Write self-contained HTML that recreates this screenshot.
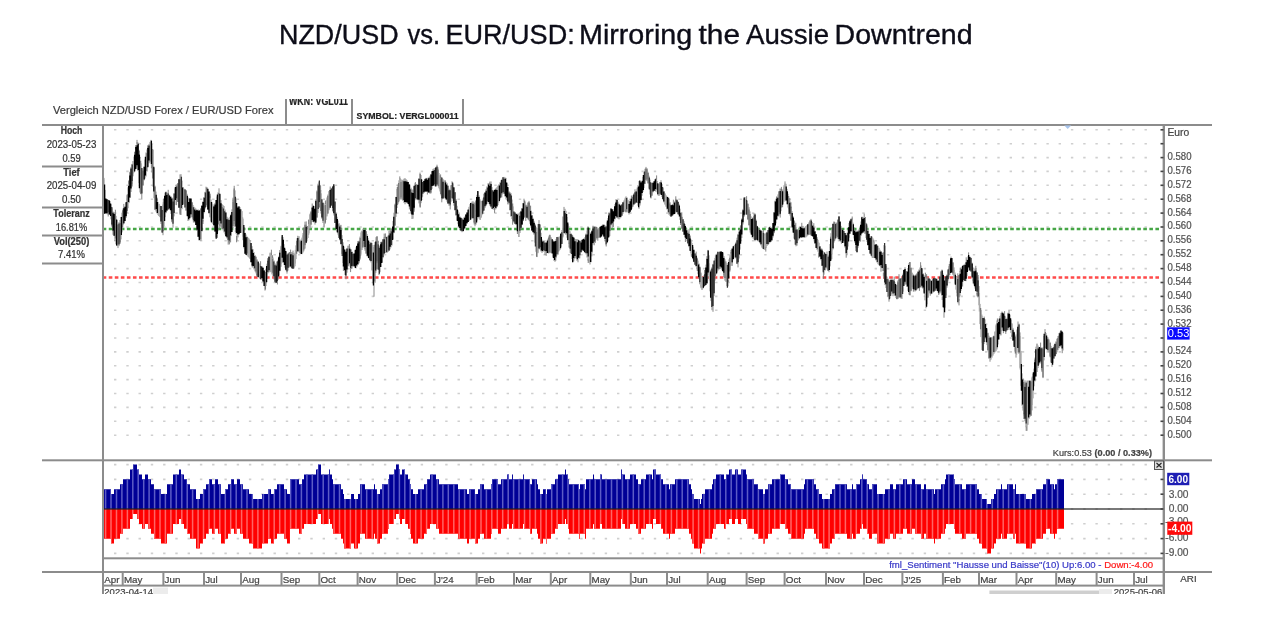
<!DOCTYPE html>
<html><head><meta charset="utf-8"><title>NZD/USD vs. EUR/USD</title>
<style>
html,body{margin:0;padding:0;background:#fff;}
body{width:1285px;height:625px;overflow:hidden;position:relative;}
svg{position:absolute;left:0;top:0;}
</style></head><body>
<svg width="1285" height="625" viewBox="0 0 1285 625" font-family="Liberation Sans, Arial, sans-serif" style="filter:blur(0.5px)">
<path d="M114.0 129.8h2.4 M126.3 129.8h2.4 M138.5 129.8h2.4 M150.8 129.8h2.4 M163.1 129.8h2.4 M175.3 129.8h2.4 M187.6 129.8h2.4 M199.9 129.8h2.4 M212.1 129.8h2.4 M224.4 129.8h2.4 M236.7 129.8h2.4 M248.9 129.8h2.4 M261.2 129.8h2.4 M273.5 129.8h2.4 M285.8 129.8h2.4 M298.0 129.8h2.4 M310.3 129.8h2.4 M322.6 129.8h2.4 M334.8 129.8h2.4 M347.1 129.8h2.4 M359.4 129.8h2.4 M371.6 129.8h2.4 M383.9 129.8h2.4 M396.2 129.8h2.4 M408.4 129.8h2.4 M420.7 129.8h2.4 M433.0 129.8h2.4 M445.2 129.8h2.4 M457.5 129.8h2.4 M469.8 129.8h2.4 M482.0 129.8h2.4 M494.3 129.8h2.4 M506.6 129.8h2.4 M518.8 129.8h2.4 M531.1 129.8h2.4 M543.4 129.8h2.4 M555.6 129.8h2.4 M567.9 129.8h2.4 M580.2 129.8h2.4 M592.5 129.8h2.4 M604.7 129.8h2.4 M617.0 129.8h2.4 M629.3 129.8h2.4 M641.5 129.8h2.4 M653.8 129.8h2.4 M666.1 129.8h2.4 M678.3 129.8h2.4 M690.6 129.8h2.4 M702.9 129.8h2.4 M715.1 129.8h2.4 M727.4 129.8h2.4 M739.7 129.8h2.4 M751.9 129.8h2.4 M764.2 129.8h2.4 M776.5 129.8h2.4 M788.7 129.8h2.4 M801.0 129.8h2.4 M813.3 129.8h2.4 M825.5 129.8h2.4 M837.8 129.8h2.4 M850.1 129.8h2.4 M862.3 129.8h2.4 M874.6 129.8h2.4 M886.9 129.8h2.4 M899.2 129.8h2.4 M911.4 129.8h2.4 M923.7 129.8h2.4 M936.0 129.8h2.4 M948.2 129.8h2.4 M960.5 129.8h2.4 M972.8 129.8h2.4 M985.0 129.8h2.4 M997.3 129.8h2.4 M1009.6 129.8h2.4 M1021.8 129.8h2.4 M1034.1 129.8h2.4 M1046.4 129.8h2.4 M1058.6 129.8h2.4 M1070.9 129.8h2.4 M1083.2 129.8h2.4 M1095.4 129.8h2.4 M1107.7 129.8h2.4 M1120.0 129.8h2.4 M1132.2 129.8h2.4 M1144.5 129.8h2.4 M114.0 143.7h2.4 M126.3 143.7h2.4 M138.5 143.7h2.4 M150.8 143.7h2.4 M163.1 143.7h2.4 M175.3 143.7h2.4 M187.6 143.7h2.4 M199.9 143.7h2.4 M212.1 143.7h2.4 M224.4 143.7h2.4 M236.7 143.7h2.4 M248.9 143.7h2.4 M261.2 143.7h2.4 M273.5 143.7h2.4 M285.8 143.7h2.4 M298.0 143.7h2.4 M310.3 143.7h2.4 M322.6 143.7h2.4 M334.8 143.7h2.4 M347.1 143.7h2.4 M359.4 143.7h2.4 M371.6 143.7h2.4 M383.9 143.7h2.4 M396.2 143.7h2.4 M408.4 143.7h2.4 M420.7 143.7h2.4 M433.0 143.7h2.4 M445.2 143.7h2.4 M457.5 143.7h2.4 M469.8 143.7h2.4 M482.0 143.7h2.4 M494.3 143.7h2.4 M506.6 143.7h2.4 M518.8 143.7h2.4 M531.1 143.7h2.4 M543.4 143.7h2.4 M555.6 143.7h2.4 M567.9 143.7h2.4 M580.2 143.7h2.4 M592.5 143.7h2.4 M604.7 143.7h2.4 M617.0 143.7h2.4 M629.3 143.7h2.4 M641.5 143.7h2.4 M653.8 143.7h2.4 M666.1 143.7h2.4 M678.3 143.7h2.4 M690.6 143.7h2.4 M702.9 143.7h2.4 M715.1 143.7h2.4 M727.4 143.7h2.4 M739.7 143.7h2.4 M751.9 143.7h2.4 M764.2 143.7h2.4 M776.5 143.7h2.4 M788.7 143.7h2.4 M801.0 143.7h2.4 M813.3 143.7h2.4 M825.5 143.7h2.4 M837.8 143.7h2.4 M850.1 143.7h2.4 M862.3 143.7h2.4 M874.6 143.7h2.4 M886.9 143.7h2.4 M899.2 143.7h2.4 M911.4 143.7h2.4 M923.7 143.7h2.4 M936.0 143.7h2.4 M948.2 143.7h2.4 M960.5 143.7h2.4 M972.8 143.7h2.4 M985.0 143.7h2.4 M997.3 143.7h2.4 M1009.6 143.7h2.4 M1021.8 143.7h2.4 M1034.1 143.7h2.4 M1046.4 143.7h2.4 M1058.6 143.7h2.4 M1070.9 143.7h2.4 M1083.2 143.7h2.4 M1095.4 143.7h2.4 M1107.7 143.7h2.4 M1120.0 143.7h2.4 M1132.2 143.7h2.4 M1144.5 143.7h2.4 M114.0 157.6h2.4 M126.3 157.6h2.4 M138.5 157.6h2.4 M150.8 157.6h2.4 M163.1 157.6h2.4 M175.3 157.6h2.4 M187.6 157.6h2.4 M199.9 157.6h2.4 M212.1 157.6h2.4 M224.4 157.6h2.4 M236.7 157.6h2.4 M248.9 157.6h2.4 M261.2 157.6h2.4 M273.5 157.6h2.4 M285.8 157.6h2.4 M298.0 157.6h2.4 M310.3 157.6h2.4 M322.6 157.6h2.4 M334.8 157.6h2.4 M347.1 157.6h2.4 M359.4 157.6h2.4 M371.6 157.6h2.4 M383.9 157.6h2.4 M396.2 157.6h2.4 M408.4 157.6h2.4 M420.7 157.6h2.4 M433.0 157.6h2.4 M445.2 157.6h2.4 M457.5 157.6h2.4 M469.8 157.6h2.4 M482.0 157.6h2.4 M494.3 157.6h2.4 M506.6 157.6h2.4 M518.8 157.6h2.4 M531.1 157.6h2.4 M543.4 157.6h2.4 M555.6 157.6h2.4 M567.9 157.6h2.4 M580.2 157.6h2.4 M592.5 157.6h2.4 M604.7 157.6h2.4 M617.0 157.6h2.4 M629.3 157.6h2.4 M641.5 157.6h2.4 M653.8 157.6h2.4 M666.1 157.6h2.4 M678.3 157.6h2.4 M690.6 157.6h2.4 M702.9 157.6h2.4 M715.1 157.6h2.4 M727.4 157.6h2.4 M739.7 157.6h2.4 M751.9 157.6h2.4 M764.2 157.6h2.4 M776.5 157.6h2.4 M788.7 157.6h2.4 M801.0 157.6h2.4 M813.3 157.6h2.4 M825.5 157.6h2.4 M837.8 157.6h2.4 M850.1 157.6h2.4 M862.3 157.6h2.4 M874.6 157.6h2.4 M886.9 157.6h2.4 M899.2 157.6h2.4 M911.4 157.6h2.4 M923.7 157.6h2.4 M936.0 157.6h2.4 M948.2 157.6h2.4 M960.5 157.6h2.4 M972.8 157.6h2.4 M985.0 157.6h2.4 M997.3 157.6h2.4 M1009.6 157.6h2.4 M1021.8 157.6h2.4 M1034.1 157.6h2.4 M1046.4 157.6h2.4 M1058.6 157.6h2.4 M1070.9 157.6h2.4 M1083.2 157.6h2.4 M1095.4 157.6h2.4 M1107.7 157.6h2.4 M1120.0 157.6h2.4 M1132.2 157.6h2.4 M1144.5 157.6h2.4 M114.0 171.4h2.4 M126.3 171.4h2.4 M138.5 171.4h2.4 M150.8 171.4h2.4 M163.1 171.4h2.4 M175.3 171.4h2.4 M187.6 171.4h2.4 M199.9 171.4h2.4 M212.1 171.4h2.4 M224.4 171.4h2.4 M236.7 171.4h2.4 M248.9 171.4h2.4 M261.2 171.4h2.4 M273.5 171.4h2.4 M285.8 171.4h2.4 M298.0 171.4h2.4 M310.3 171.4h2.4 M322.6 171.4h2.4 M334.8 171.4h2.4 M347.1 171.4h2.4 M359.4 171.4h2.4 M371.6 171.4h2.4 M383.9 171.4h2.4 M396.2 171.4h2.4 M408.4 171.4h2.4 M420.7 171.4h2.4 M433.0 171.4h2.4 M445.2 171.4h2.4 M457.5 171.4h2.4 M469.8 171.4h2.4 M482.0 171.4h2.4 M494.3 171.4h2.4 M506.6 171.4h2.4 M518.8 171.4h2.4 M531.1 171.4h2.4 M543.4 171.4h2.4 M555.6 171.4h2.4 M567.9 171.4h2.4 M580.2 171.4h2.4 M592.5 171.4h2.4 M604.7 171.4h2.4 M617.0 171.4h2.4 M629.3 171.4h2.4 M641.5 171.4h2.4 M653.8 171.4h2.4 M666.1 171.4h2.4 M678.3 171.4h2.4 M690.6 171.4h2.4 M702.9 171.4h2.4 M715.1 171.4h2.4 M727.4 171.4h2.4 M739.7 171.4h2.4 M751.9 171.4h2.4 M764.2 171.4h2.4 M776.5 171.4h2.4 M788.7 171.4h2.4 M801.0 171.4h2.4 M813.3 171.4h2.4 M825.5 171.4h2.4 M837.8 171.4h2.4 M850.1 171.4h2.4 M862.3 171.4h2.4 M874.6 171.4h2.4 M886.9 171.4h2.4 M899.2 171.4h2.4 M911.4 171.4h2.4 M923.7 171.4h2.4 M936.0 171.4h2.4 M948.2 171.4h2.4 M960.5 171.4h2.4 M972.8 171.4h2.4 M985.0 171.4h2.4 M997.3 171.4h2.4 M1009.6 171.4h2.4 M1021.8 171.4h2.4 M1034.1 171.4h2.4 M1046.4 171.4h2.4 M1058.6 171.4h2.4 M1070.9 171.4h2.4 M1083.2 171.4h2.4 M1095.4 171.4h2.4 M1107.7 171.4h2.4 M1120.0 171.4h2.4 M1132.2 171.4h2.4 M1144.5 171.4h2.4 M114.0 185.3h2.4 M126.3 185.3h2.4 M138.5 185.3h2.4 M150.8 185.3h2.4 M163.1 185.3h2.4 M175.3 185.3h2.4 M187.6 185.3h2.4 M199.9 185.3h2.4 M212.1 185.3h2.4 M224.4 185.3h2.4 M236.7 185.3h2.4 M248.9 185.3h2.4 M261.2 185.3h2.4 M273.5 185.3h2.4 M285.8 185.3h2.4 M298.0 185.3h2.4 M310.3 185.3h2.4 M322.6 185.3h2.4 M334.8 185.3h2.4 M347.1 185.3h2.4 M359.4 185.3h2.4 M371.6 185.3h2.4 M383.9 185.3h2.4 M396.2 185.3h2.4 M408.4 185.3h2.4 M420.7 185.3h2.4 M433.0 185.3h2.4 M445.2 185.3h2.4 M457.5 185.3h2.4 M469.8 185.3h2.4 M482.0 185.3h2.4 M494.3 185.3h2.4 M506.6 185.3h2.4 M518.8 185.3h2.4 M531.1 185.3h2.4 M543.4 185.3h2.4 M555.6 185.3h2.4 M567.9 185.3h2.4 M580.2 185.3h2.4 M592.5 185.3h2.4 M604.7 185.3h2.4 M617.0 185.3h2.4 M629.3 185.3h2.4 M641.5 185.3h2.4 M653.8 185.3h2.4 M666.1 185.3h2.4 M678.3 185.3h2.4 M690.6 185.3h2.4 M702.9 185.3h2.4 M715.1 185.3h2.4 M727.4 185.3h2.4 M739.7 185.3h2.4 M751.9 185.3h2.4 M764.2 185.3h2.4 M776.5 185.3h2.4 M788.7 185.3h2.4 M801.0 185.3h2.4 M813.3 185.3h2.4 M825.5 185.3h2.4 M837.8 185.3h2.4 M850.1 185.3h2.4 M862.3 185.3h2.4 M874.6 185.3h2.4 M886.9 185.3h2.4 M899.2 185.3h2.4 M911.4 185.3h2.4 M923.7 185.3h2.4 M936.0 185.3h2.4 M948.2 185.3h2.4 M960.5 185.3h2.4 M972.8 185.3h2.4 M985.0 185.3h2.4 M997.3 185.3h2.4 M1009.6 185.3h2.4 M1021.8 185.3h2.4 M1034.1 185.3h2.4 M1046.4 185.3h2.4 M1058.6 185.3h2.4 M1070.9 185.3h2.4 M1083.2 185.3h2.4 M1095.4 185.3h2.4 M1107.7 185.3h2.4 M1120.0 185.3h2.4 M1132.2 185.3h2.4 M1144.5 185.3h2.4 M114.0 199.2h2.4 M126.3 199.2h2.4 M138.5 199.2h2.4 M150.8 199.2h2.4 M163.1 199.2h2.4 M175.3 199.2h2.4 M187.6 199.2h2.4 M199.9 199.2h2.4 M212.1 199.2h2.4 M224.4 199.2h2.4 M236.7 199.2h2.4 M248.9 199.2h2.4 M261.2 199.2h2.4 M273.5 199.2h2.4 M285.8 199.2h2.4 M298.0 199.2h2.4 M310.3 199.2h2.4 M322.6 199.2h2.4 M334.8 199.2h2.4 M347.1 199.2h2.4 M359.4 199.2h2.4 M371.6 199.2h2.4 M383.9 199.2h2.4 M396.2 199.2h2.4 M408.4 199.2h2.4 M420.7 199.2h2.4 M433.0 199.2h2.4 M445.2 199.2h2.4 M457.5 199.2h2.4 M469.8 199.2h2.4 M482.0 199.2h2.4 M494.3 199.2h2.4 M506.6 199.2h2.4 M518.8 199.2h2.4 M531.1 199.2h2.4 M543.4 199.2h2.4 M555.6 199.2h2.4 M567.9 199.2h2.4 M580.2 199.2h2.4 M592.5 199.2h2.4 M604.7 199.2h2.4 M617.0 199.2h2.4 M629.3 199.2h2.4 M641.5 199.2h2.4 M653.8 199.2h2.4 M666.1 199.2h2.4 M678.3 199.2h2.4 M690.6 199.2h2.4 M702.9 199.2h2.4 M715.1 199.2h2.4 M727.4 199.2h2.4 M739.7 199.2h2.4 M751.9 199.2h2.4 M764.2 199.2h2.4 M776.5 199.2h2.4 M788.7 199.2h2.4 M801.0 199.2h2.4 M813.3 199.2h2.4 M825.5 199.2h2.4 M837.8 199.2h2.4 M850.1 199.2h2.4 M862.3 199.2h2.4 M874.6 199.2h2.4 M886.9 199.2h2.4 M899.2 199.2h2.4 M911.4 199.2h2.4 M923.7 199.2h2.4 M936.0 199.2h2.4 M948.2 199.2h2.4 M960.5 199.2h2.4 M972.8 199.2h2.4 M985.0 199.2h2.4 M997.3 199.2h2.4 M1009.6 199.2h2.4 M1021.8 199.2h2.4 M1034.1 199.2h2.4 M1046.4 199.2h2.4 M1058.6 199.2h2.4 M1070.9 199.2h2.4 M1083.2 199.2h2.4 M1095.4 199.2h2.4 M1107.7 199.2h2.4 M1120.0 199.2h2.4 M1132.2 199.2h2.4 M1144.5 199.2h2.4 M114.0 213.1h2.4 M126.3 213.1h2.4 M138.5 213.1h2.4 M150.8 213.1h2.4 M163.1 213.1h2.4 M175.3 213.1h2.4 M187.6 213.1h2.4 M199.9 213.1h2.4 M212.1 213.1h2.4 M224.4 213.1h2.4 M236.7 213.1h2.4 M248.9 213.1h2.4 M261.2 213.1h2.4 M273.5 213.1h2.4 M285.8 213.1h2.4 M298.0 213.1h2.4 M310.3 213.1h2.4 M322.6 213.1h2.4 M334.8 213.1h2.4 M347.1 213.1h2.4 M359.4 213.1h2.4 M371.6 213.1h2.4 M383.9 213.1h2.4 M396.2 213.1h2.4 M408.4 213.1h2.4 M420.7 213.1h2.4 M433.0 213.1h2.4 M445.2 213.1h2.4 M457.5 213.1h2.4 M469.8 213.1h2.4 M482.0 213.1h2.4 M494.3 213.1h2.4 M506.6 213.1h2.4 M518.8 213.1h2.4 M531.1 213.1h2.4 M543.4 213.1h2.4 M555.6 213.1h2.4 M567.9 213.1h2.4 M580.2 213.1h2.4 M592.5 213.1h2.4 M604.7 213.1h2.4 M617.0 213.1h2.4 M629.3 213.1h2.4 M641.5 213.1h2.4 M653.8 213.1h2.4 M666.1 213.1h2.4 M678.3 213.1h2.4 M690.6 213.1h2.4 M702.9 213.1h2.4 M715.1 213.1h2.4 M727.4 213.1h2.4 M739.7 213.1h2.4 M751.9 213.1h2.4 M764.2 213.1h2.4 M776.5 213.1h2.4 M788.7 213.1h2.4 M801.0 213.1h2.4 M813.3 213.1h2.4 M825.5 213.1h2.4 M837.8 213.1h2.4 M850.1 213.1h2.4 M862.3 213.1h2.4 M874.6 213.1h2.4 M886.9 213.1h2.4 M899.2 213.1h2.4 M911.4 213.1h2.4 M923.7 213.1h2.4 M936.0 213.1h2.4 M948.2 213.1h2.4 M960.5 213.1h2.4 M972.8 213.1h2.4 M985.0 213.1h2.4 M997.3 213.1h2.4 M1009.6 213.1h2.4 M1021.8 213.1h2.4 M1034.1 213.1h2.4 M1046.4 213.1h2.4 M1058.6 213.1h2.4 M1070.9 213.1h2.4 M1083.2 213.1h2.4 M1095.4 213.1h2.4 M1107.7 213.1h2.4 M1120.0 213.1h2.4 M1132.2 213.1h2.4 M1144.5 213.1h2.4 M114.0 227.0h2.4 M126.3 227.0h2.4 M138.5 227.0h2.4 M150.8 227.0h2.4 M163.1 227.0h2.4 M175.3 227.0h2.4 M187.6 227.0h2.4 M199.9 227.0h2.4 M212.1 227.0h2.4 M224.4 227.0h2.4 M236.7 227.0h2.4 M248.9 227.0h2.4 M261.2 227.0h2.4 M273.5 227.0h2.4 M285.8 227.0h2.4 M298.0 227.0h2.4 M310.3 227.0h2.4 M322.6 227.0h2.4 M334.8 227.0h2.4 M347.1 227.0h2.4 M359.4 227.0h2.4 M371.6 227.0h2.4 M383.9 227.0h2.4 M396.2 227.0h2.4 M408.4 227.0h2.4 M420.7 227.0h2.4 M433.0 227.0h2.4 M445.2 227.0h2.4 M457.5 227.0h2.4 M469.8 227.0h2.4 M482.0 227.0h2.4 M494.3 227.0h2.4 M506.6 227.0h2.4 M518.8 227.0h2.4 M531.1 227.0h2.4 M543.4 227.0h2.4 M555.6 227.0h2.4 M567.9 227.0h2.4 M580.2 227.0h2.4 M592.5 227.0h2.4 M604.7 227.0h2.4 M617.0 227.0h2.4 M629.3 227.0h2.4 M641.5 227.0h2.4 M653.8 227.0h2.4 M666.1 227.0h2.4 M678.3 227.0h2.4 M690.6 227.0h2.4 M702.9 227.0h2.4 M715.1 227.0h2.4 M727.4 227.0h2.4 M739.7 227.0h2.4 M751.9 227.0h2.4 M764.2 227.0h2.4 M776.5 227.0h2.4 M788.7 227.0h2.4 M801.0 227.0h2.4 M813.3 227.0h2.4 M825.5 227.0h2.4 M837.8 227.0h2.4 M850.1 227.0h2.4 M862.3 227.0h2.4 M874.6 227.0h2.4 M886.9 227.0h2.4 M899.2 227.0h2.4 M911.4 227.0h2.4 M923.7 227.0h2.4 M936.0 227.0h2.4 M948.2 227.0h2.4 M960.5 227.0h2.4 M972.8 227.0h2.4 M985.0 227.0h2.4 M997.3 227.0h2.4 M1009.6 227.0h2.4 M1021.8 227.0h2.4 M1034.1 227.0h2.4 M1046.4 227.0h2.4 M1058.6 227.0h2.4 M1070.9 227.0h2.4 M1083.2 227.0h2.4 M1095.4 227.0h2.4 M1107.7 227.0h2.4 M1120.0 227.0h2.4 M1132.2 227.0h2.4 M1144.5 227.0h2.4 M114.0 240.8h2.4 M126.3 240.8h2.4 M138.5 240.8h2.4 M150.8 240.8h2.4 M163.1 240.8h2.4 M175.3 240.8h2.4 M187.6 240.8h2.4 M199.9 240.8h2.4 M212.1 240.8h2.4 M224.4 240.8h2.4 M236.7 240.8h2.4 M248.9 240.8h2.4 M261.2 240.8h2.4 M273.5 240.8h2.4 M285.8 240.8h2.4 M298.0 240.8h2.4 M310.3 240.8h2.4 M322.6 240.8h2.4 M334.8 240.8h2.4 M347.1 240.8h2.4 M359.4 240.8h2.4 M371.6 240.8h2.4 M383.9 240.8h2.4 M396.2 240.8h2.4 M408.4 240.8h2.4 M420.7 240.8h2.4 M433.0 240.8h2.4 M445.2 240.8h2.4 M457.5 240.8h2.4 M469.8 240.8h2.4 M482.0 240.8h2.4 M494.3 240.8h2.4 M506.6 240.8h2.4 M518.8 240.8h2.4 M531.1 240.8h2.4 M543.4 240.8h2.4 M555.6 240.8h2.4 M567.9 240.8h2.4 M580.2 240.8h2.4 M592.5 240.8h2.4 M604.7 240.8h2.4 M617.0 240.8h2.4 M629.3 240.8h2.4 M641.5 240.8h2.4 M653.8 240.8h2.4 M666.1 240.8h2.4 M678.3 240.8h2.4 M690.6 240.8h2.4 M702.9 240.8h2.4 M715.1 240.8h2.4 M727.4 240.8h2.4 M739.7 240.8h2.4 M751.9 240.8h2.4 M764.2 240.8h2.4 M776.5 240.8h2.4 M788.7 240.8h2.4 M801.0 240.8h2.4 M813.3 240.8h2.4 M825.5 240.8h2.4 M837.8 240.8h2.4 M850.1 240.8h2.4 M862.3 240.8h2.4 M874.6 240.8h2.4 M886.9 240.8h2.4 M899.2 240.8h2.4 M911.4 240.8h2.4 M923.7 240.8h2.4 M936.0 240.8h2.4 M948.2 240.8h2.4 M960.5 240.8h2.4 M972.8 240.8h2.4 M985.0 240.8h2.4 M997.3 240.8h2.4 M1009.6 240.8h2.4 M1021.8 240.8h2.4 M1034.1 240.8h2.4 M1046.4 240.8h2.4 M1058.6 240.8h2.4 M1070.9 240.8h2.4 M1083.2 240.8h2.4 M1095.4 240.8h2.4 M1107.7 240.8h2.4 M1120.0 240.8h2.4 M1132.2 240.8h2.4 M1144.5 240.8h2.4 M114.0 254.7h2.4 M126.3 254.7h2.4 M138.5 254.7h2.4 M150.8 254.7h2.4 M163.1 254.7h2.4 M175.3 254.7h2.4 M187.6 254.7h2.4 M199.9 254.7h2.4 M212.1 254.7h2.4 M224.4 254.7h2.4 M236.7 254.7h2.4 M248.9 254.7h2.4 M261.2 254.7h2.4 M273.5 254.7h2.4 M285.8 254.7h2.4 M298.0 254.7h2.4 M310.3 254.7h2.4 M322.6 254.7h2.4 M334.8 254.7h2.4 M347.1 254.7h2.4 M359.4 254.7h2.4 M371.6 254.7h2.4 M383.9 254.7h2.4 M396.2 254.7h2.4 M408.4 254.7h2.4 M420.7 254.7h2.4 M433.0 254.7h2.4 M445.2 254.7h2.4 M457.5 254.7h2.4 M469.8 254.7h2.4 M482.0 254.7h2.4 M494.3 254.7h2.4 M506.6 254.7h2.4 M518.8 254.7h2.4 M531.1 254.7h2.4 M543.4 254.7h2.4 M555.6 254.7h2.4 M567.9 254.7h2.4 M580.2 254.7h2.4 M592.5 254.7h2.4 M604.7 254.7h2.4 M617.0 254.7h2.4 M629.3 254.7h2.4 M641.5 254.7h2.4 M653.8 254.7h2.4 M666.1 254.7h2.4 M678.3 254.7h2.4 M690.6 254.7h2.4 M702.9 254.7h2.4 M715.1 254.7h2.4 M727.4 254.7h2.4 M739.7 254.7h2.4 M751.9 254.7h2.4 M764.2 254.7h2.4 M776.5 254.7h2.4 M788.7 254.7h2.4 M801.0 254.7h2.4 M813.3 254.7h2.4 M825.5 254.7h2.4 M837.8 254.7h2.4 M850.1 254.7h2.4 M862.3 254.7h2.4 M874.6 254.7h2.4 M886.9 254.7h2.4 M899.2 254.7h2.4 M911.4 254.7h2.4 M923.7 254.7h2.4 M936.0 254.7h2.4 M948.2 254.7h2.4 M960.5 254.7h2.4 M972.8 254.7h2.4 M985.0 254.7h2.4 M997.3 254.7h2.4 M1009.6 254.7h2.4 M1021.8 254.7h2.4 M1034.1 254.7h2.4 M1046.4 254.7h2.4 M1058.6 254.7h2.4 M1070.9 254.7h2.4 M1083.2 254.7h2.4 M1095.4 254.7h2.4 M1107.7 254.7h2.4 M1120.0 254.7h2.4 M1132.2 254.7h2.4 M1144.5 254.7h2.4 M114.0 268.6h2.4 M126.3 268.6h2.4 M138.5 268.6h2.4 M150.8 268.6h2.4 M163.1 268.6h2.4 M175.3 268.6h2.4 M187.6 268.6h2.4 M199.9 268.6h2.4 M212.1 268.6h2.4 M224.4 268.6h2.4 M236.7 268.6h2.4 M248.9 268.6h2.4 M261.2 268.6h2.4 M273.5 268.6h2.4 M285.8 268.6h2.4 M298.0 268.6h2.4 M310.3 268.6h2.4 M322.6 268.6h2.4 M334.8 268.6h2.4 M347.1 268.6h2.4 M359.4 268.6h2.4 M371.6 268.6h2.4 M383.9 268.6h2.4 M396.2 268.6h2.4 M408.4 268.6h2.4 M420.7 268.6h2.4 M433.0 268.6h2.4 M445.2 268.6h2.4 M457.5 268.6h2.4 M469.8 268.6h2.4 M482.0 268.6h2.4 M494.3 268.6h2.4 M506.6 268.6h2.4 M518.8 268.6h2.4 M531.1 268.6h2.4 M543.4 268.6h2.4 M555.6 268.6h2.4 M567.9 268.6h2.4 M580.2 268.6h2.4 M592.5 268.6h2.4 M604.7 268.6h2.4 M617.0 268.6h2.4 M629.3 268.6h2.4 M641.5 268.6h2.4 M653.8 268.6h2.4 M666.1 268.6h2.4 M678.3 268.6h2.4 M690.6 268.6h2.4 M702.9 268.6h2.4 M715.1 268.6h2.4 M727.4 268.6h2.4 M739.7 268.6h2.4 M751.9 268.6h2.4 M764.2 268.6h2.4 M776.5 268.6h2.4 M788.7 268.6h2.4 M801.0 268.6h2.4 M813.3 268.6h2.4 M825.5 268.6h2.4 M837.8 268.6h2.4 M850.1 268.6h2.4 M862.3 268.6h2.4 M874.6 268.6h2.4 M886.9 268.6h2.4 M899.2 268.6h2.4 M911.4 268.6h2.4 M923.7 268.6h2.4 M936.0 268.6h2.4 M948.2 268.6h2.4 M960.5 268.6h2.4 M972.8 268.6h2.4 M985.0 268.6h2.4 M997.3 268.6h2.4 M1009.6 268.6h2.4 M1021.8 268.6h2.4 M1034.1 268.6h2.4 M1046.4 268.6h2.4 M1058.6 268.6h2.4 M1070.9 268.6h2.4 M1083.2 268.6h2.4 M1095.4 268.6h2.4 M1107.7 268.6h2.4 M1120.0 268.6h2.4 M1132.2 268.6h2.4 M1144.5 268.6h2.4 M114.0 282.5h2.4 M126.3 282.5h2.4 M138.5 282.5h2.4 M150.8 282.5h2.4 M163.1 282.5h2.4 M175.3 282.5h2.4 M187.6 282.5h2.4 M199.9 282.5h2.4 M212.1 282.5h2.4 M224.4 282.5h2.4 M236.7 282.5h2.4 M248.9 282.5h2.4 M261.2 282.5h2.4 M273.5 282.5h2.4 M285.8 282.5h2.4 M298.0 282.5h2.4 M310.3 282.5h2.4 M322.6 282.5h2.4 M334.8 282.5h2.4 M347.1 282.5h2.4 M359.4 282.5h2.4 M371.6 282.5h2.4 M383.9 282.5h2.4 M396.2 282.5h2.4 M408.4 282.5h2.4 M420.7 282.5h2.4 M433.0 282.5h2.4 M445.2 282.5h2.4 M457.5 282.5h2.4 M469.8 282.5h2.4 M482.0 282.5h2.4 M494.3 282.5h2.4 M506.6 282.5h2.4 M518.8 282.5h2.4 M531.1 282.5h2.4 M543.4 282.5h2.4 M555.6 282.5h2.4 M567.9 282.5h2.4 M580.2 282.5h2.4 M592.5 282.5h2.4 M604.7 282.5h2.4 M617.0 282.5h2.4 M629.3 282.5h2.4 M641.5 282.5h2.4 M653.8 282.5h2.4 M666.1 282.5h2.4 M678.3 282.5h2.4 M690.6 282.5h2.4 M702.9 282.5h2.4 M715.1 282.5h2.4 M727.4 282.5h2.4 M739.7 282.5h2.4 M751.9 282.5h2.4 M764.2 282.5h2.4 M776.5 282.5h2.4 M788.7 282.5h2.4 M801.0 282.5h2.4 M813.3 282.5h2.4 M825.5 282.5h2.4 M837.8 282.5h2.4 M850.1 282.5h2.4 M862.3 282.5h2.4 M874.6 282.5h2.4 M886.9 282.5h2.4 M899.2 282.5h2.4 M911.4 282.5h2.4 M923.7 282.5h2.4 M936.0 282.5h2.4 M948.2 282.5h2.4 M960.5 282.5h2.4 M972.8 282.5h2.4 M985.0 282.5h2.4 M997.3 282.5h2.4 M1009.6 282.5h2.4 M1021.8 282.5h2.4 M1034.1 282.5h2.4 M1046.4 282.5h2.4 M1058.6 282.5h2.4 M1070.9 282.5h2.4 M1083.2 282.5h2.4 M1095.4 282.5h2.4 M1107.7 282.5h2.4 M1120.0 282.5h2.4 M1132.2 282.5h2.4 M1144.5 282.5h2.4 M114.0 296.4h2.4 M126.3 296.4h2.4 M138.5 296.4h2.4 M150.8 296.4h2.4 M163.1 296.4h2.4 M175.3 296.4h2.4 M187.6 296.4h2.4 M199.9 296.4h2.4 M212.1 296.4h2.4 M224.4 296.4h2.4 M236.7 296.4h2.4 M248.9 296.4h2.4 M261.2 296.4h2.4 M273.5 296.4h2.4 M285.8 296.4h2.4 M298.0 296.4h2.4 M310.3 296.4h2.4 M322.6 296.4h2.4 M334.8 296.4h2.4 M347.1 296.4h2.4 M359.4 296.4h2.4 M371.6 296.4h2.4 M383.9 296.4h2.4 M396.2 296.4h2.4 M408.4 296.4h2.4 M420.7 296.4h2.4 M433.0 296.4h2.4 M445.2 296.4h2.4 M457.5 296.4h2.4 M469.8 296.4h2.4 M482.0 296.4h2.4 M494.3 296.4h2.4 M506.6 296.4h2.4 M518.8 296.4h2.4 M531.1 296.4h2.4 M543.4 296.4h2.4 M555.6 296.4h2.4 M567.9 296.4h2.4 M580.2 296.4h2.4 M592.5 296.4h2.4 M604.7 296.4h2.4 M617.0 296.4h2.4 M629.3 296.4h2.4 M641.5 296.4h2.4 M653.8 296.4h2.4 M666.1 296.4h2.4 M678.3 296.4h2.4 M690.6 296.4h2.4 M702.9 296.4h2.4 M715.1 296.4h2.4 M727.4 296.4h2.4 M739.7 296.4h2.4 M751.9 296.4h2.4 M764.2 296.4h2.4 M776.5 296.4h2.4 M788.7 296.4h2.4 M801.0 296.4h2.4 M813.3 296.4h2.4 M825.5 296.4h2.4 M837.8 296.4h2.4 M850.1 296.4h2.4 M862.3 296.4h2.4 M874.6 296.4h2.4 M886.9 296.4h2.4 M899.2 296.4h2.4 M911.4 296.4h2.4 M923.7 296.4h2.4 M936.0 296.4h2.4 M948.2 296.4h2.4 M960.5 296.4h2.4 M972.8 296.4h2.4 M985.0 296.4h2.4 M997.3 296.4h2.4 M1009.6 296.4h2.4 M1021.8 296.4h2.4 M1034.1 296.4h2.4 M1046.4 296.4h2.4 M1058.6 296.4h2.4 M1070.9 296.4h2.4 M1083.2 296.4h2.4 M1095.4 296.4h2.4 M1107.7 296.4h2.4 M1120.0 296.4h2.4 M1132.2 296.4h2.4 M1144.5 296.4h2.4 M114.0 310.2h2.4 M126.3 310.2h2.4 M138.5 310.2h2.4 M150.8 310.2h2.4 M163.1 310.2h2.4 M175.3 310.2h2.4 M187.6 310.2h2.4 M199.9 310.2h2.4 M212.1 310.2h2.4 M224.4 310.2h2.4 M236.7 310.2h2.4 M248.9 310.2h2.4 M261.2 310.2h2.4 M273.5 310.2h2.4 M285.8 310.2h2.4 M298.0 310.2h2.4 M310.3 310.2h2.4 M322.6 310.2h2.4 M334.8 310.2h2.4 M347.1 310.2h2.4 M359.4 310.2h2.4 M371.6 310.2h2.4 M383.9 310.2h2.4 M396.2 310.2h2.4 M408.4 310.2h2.4 M420.7 310.2h2.4 M433.0 310.2h2.4 M445.2 310.2h2.4 M457.5 310.2h2.4 M469.8 310.2h2.4 M482.0 310.2h2.4 M494.3 310.2h2.4 M506.6 310.2h2.4 M518.8 310.2h2.4 M531.1 310.2h2.4 M543.4 310.2h2.4 M555.6 310.2h2.4 M567.9 310.2h2.4 M580.2 310.2h2.4 M592.5 310.2h2.4 M604.7 310.2h2.4 M617.0 310.2h2.4 M629.3 310.2h2.4 M641.5 310.2h2.4 M653.8 310.2h2.4 M666.1 310.2h2.4 M678.3 310.2h2.4 M690.6 310.2h2.4 M702.9 310.2h2.4 M715.1 310.2h2.4 M727.4 310.2h2.4 M739.7 310.2h2.4 M751.9 310.2h2.4 M764.2 310.2h2.4 M776.5 310.2h2.4 M788.7 310.2h2.4 M801.0 310.2h2.4 M813.3 310.2h2.4 M825.5 310.2h2.4 M837.8 310.2h2.4 M850.1 310.2h2.4 M862.3 310.2h2.4 M874.6 310.2h2.4 M886.9 310.2h2.4 M899.2 310.2h2.4 M911.4 310.2h2.4 M923.7 310.2h2.4 M936.0 310.2h2.4 M948.2 310.2h2.4 M960.5 310.2h2.4 M972.8 310.2h2.4 M985.0 310.2h2.4 M997.3 310.2h2.4 M1009.6 310.2h2.4 M1021.8 310.2h2.4 M1034.1 310.2h2.4 M1046.4 310.2h2.4 M1058.6 310.2h2.4 M1070.9 310.2h2.4 M1083.2 310.2h2.4 M1095.4 310.2h2.4 M1107.7 310.2h2.4 M1120.0 310.2h2.4 M1132.2 310.2h2.4 M1144.5 310.2h2.4 M114.0 324.1h2.4 M126.3 324.1h2.4 M138.5 324.1h2.4 M150.8 324.1h2.4 M163.1 324.1h2.4 M175.3 324.1h2.4 M187.6 324.1h2.4 M199.9 324.1h2.4 M212.1 324.1h2.4 M224.4 324.1h2.4 M236.7 324.1h2.4 M248.9 324.1h2.4 M261.2 324.1h2.4 M273.5 324.1h2.4 M285.8 324.1h2.4 M298.0 324.1h2.4 M310.3 324.1h2.4 M322.6 324.1h2.4 M334.8 324.1h2.4 M347.1 324.1h2.4 M359.4 324.1h2.4 M371.6 324.1h2.4 M383.9 324.1h2.4 M396.2 324.1h2.4 M408.4 324.1h2.4 M420.7 324.1h2.4 M433.0 324.1h2.4 M445.2 324.1h2.4 M457.5 324.1h2.4 M469.8 324.1h2.4 M482.0 324.1h2.4 M494.3 324.1h2.4 M506.6 324.1h2.4 M518.8 324.1h2.4 M531.1 324.1h2.4 M543.4 324.1h2.4 M555.6 324.1h2.4 M567.9 324.1h2.4 M580.2 324.1h2.4 M592.5 324.1h2.4 M604.7 324.1h2.4 M617.0 324.1h2.4 M629.3 324.1h2.4 M641.5 324.1h2.4 M653.8 324.1h2.4 M666.1 324.1h2.4 M678.3 324.1h2.4 M690.6 324.1h2.4 M702.9 324.1h2.4 M715.1 324.1h2.4 M727.4 324.1h2.4 M739.7 324.1h2.4 M751.9 324.1h2.4 M764.2 324.1h2.4 M776.5 324.1h2.4 M788.7 324.1h2.4 M801.0 324.1h2.4 M813.3 324.1h2.4 M825.5 324.1h2.4 M837.8 324.1h2.4 M850.1 324.1h2.4 M862.3 324.1h2.4 M874.6 324.1h2.4 M886.9 324.1h2.4 M899.2 324.1h2.4 M911.4 324.1h2.4 M923.7 324.1h2.4 M936.0 324.1h2.4 M948.2 324.1h2.4 M960.5 324.1h2.4 M972.8 324.1h2.4 M985.0 324.1h2.4 M997.3 324.1h2.4 M1009.6 324.1h2.4 M1021.8 324.1h2.4 M1034.1 324.1h2.4 M1046.4 324.1h2.4 M1058.6 324.1h2.4 M1070.9 324.1h2.4 M1083.2 324.1h2.4 M1095.4 324.1h2.4 M1107.7 324.1h2.4 M1120.0 324.1h2.4 M1132.2 324.1h2.4 M1144.5 324.1h2.4 M114.0 338.0h2.4 M126.3 338.0h2.4 M138.5 338.0h2.4 M150.8 338.0h2.4 M163.1 338.0h2.4 M175.3 338.0h2.4 M187.6 338.0h2.4 M199.9 338.0h2.4 M212.1 338.0h2.4 M224.4 338.0h2.4 M236.7 338.0h2.4 M248.9 338.0h2.4 M261.2 338.0h2.4 M273.5 338.0h2.4 M285.8 338.0h2.4 M298.0 338.0h2.4 M310.3 338.0h2.4 M322.6 338.0h2.4 M334.8 338.0h2.4 M347.1 338.0h2.4 M359.4 338.0h2.4 M371.6 338.0h2.4 M383.9 338.0h2.4 M396.2 338.0h2.4 M408.4 338.0h2.4 M420.7 338.0h2.4 M433.0 338.0h2.4 M445.2 338.0h2.4 M457.5 338.0h2.4 M469.8 338.0h2.4 M482.0 338.0h2.4 M494.3 338.0h2.4 M506.6 338.0h2.4 M518.8 338.0h2.4 M531.1 338.0h2.4 M543.4 338.0h2.4 M555.6 338.0h2.4 M567.9 338.0h2.4 M580.2 338.0h2.4 M592.5 338.0h2.4 M604.7 338.0h2.4 M617.0 338.0h2.4 M629.3 338.0h2.4 M641.5 338.0h2.4 M653.8 338.0h2.4 M666.1 338.0h2.4 M678.3 338.0h2.4 M690.6 338.0h2.4 M702.9 338.0h2.4 M715.1 338.0h2.4 M727.4 338.0h2.4 M739.7 338.0h2.4 M751.9 338.0h2.4 M764.2 338.0h2.4 M776.5 338.0h2.4 M788.7 338.0h2.4 M801.0 338.0h2.4 M813.3 338.0h2.4 M825.5 338.0h2.4 M837.8 338.0h2.4 M850.1 338.0h2.4 M862.3 338.0h2.4 M874.6 338.0h2.4 M886.9 338.0h2.4 M899.2 338.0h2.4 M911.4 338.0h2.4 M923.7 338.0h2.4 M936.0 338.0h2.4 M948.2 338.0h2.4 M960.5 338.0h2.4 M972.8 338.0h2.4 M985.0 338.0h2.4 M997.3 338.0h2.4 M1009.6 338.0h2.4 M1021.8 338.0h2.4 M1034.1 338.0h2.4 M1046.4 338.0h2.4 M1058.6 338.0h2.4 M1070.9 338.0h2.4 M1083.2 338.0h2.4 M1095.4 338.0h2.4 M1107.7 338.0h2.4 M1120.0 338.0h2.4 M1132.2 338.0h2.4 M1144.5 338.0h2.4 M114.0 351.9h2.4 M126.3 351.9h2.4 M138.5 351.9h2.4 M150.8 351.9h2.4 M163.1 351.9h2.4 M175.3 351.9h2.4 M187.6 351.9h2.4 M199.9 351.9h2.4 M212.1 351.9h2.4 M224.4 351.9h2.4 M236.7 351.9h2.4 M248.9 351.9h2.4 M261.2 351.9h2.4 M273.5 351.9h2.4 M285.8 351.9h2.4 M298.0 351.9h2.4 M310.3 351.9h2.4 M322.6 351.9h2.4 M334.8 351.9h2.4 M347.1 351.9h2.4 M359.4 351.9h2.4 M371.6 351.9h2.4 M383.9 351.9h2.4 M396.2 351.9h2.4 M408.4 351.9h2.4 M420.7 351.9h2.4 M433.0 351.9h2.4 M445.2 351.9h2.4 M457.5 351.9h2.4 M469.8 351.9h2.4 M482.0 351.9h2.4 M494.3 351.9h2.4 M506.6 351.9h2.4 M518.8 351.9h2.4 M531.1 351.9h2.4 M543.4 351.9h2.4 M555.6 351.9h2.4 M567.9 351.9h2.4 M580.2 351.9h2.4 M592.5 351.9h2.4 M604.7 351.9h2.4 M617.0 351.9h2.4 M629.3 351.9h2.4 M641.5 351.9h2.4 M653.8 351.9h2.4 M666.1 351.9h2.4 M678.3 351.9h2.4 M690.6 351.9h2.4 M702.9 351.9h2.4 M715.1 351.9h2.4 M727.4 351.9h2.4 M739.7 351.9h2.4 M751.9 351.9h2.4 M764.2 351.9h2.4 M776.5 351.9h2.4 M788.7 351.9h2.4 M801.0 351.9h2.4 M813.3 351.9h2.4 M825.5 351.9h2.4 M837.8 351.9h2.4 M850.1 351.9h2.4 M862.3 351.9h2.4 M874.6 351.9h2.4 M886.9 351.9h2.4 M899.2 351.9h2.4 M911.4 351.9h2.4 M923.7 351.9h2.4 M936.0 351.9h2.4 M948.2 351.9h2.4 M960.5 351.9h2.4 M972.8 351.9h2.4 M985.0 351.9h2.4 M997.3 351.9h2.4 M1009.6 351.9h2.4 M1021.8 351.9h2.4 M1034.1 351.9h2.4 M1046.4 351.9h2.4 M1058.6 351.9h2.4 M1070.9 351.9h2.4 M1083.2 351.9h2.4 M1095.4 351.9h2.4 M1107.7 351.9h2.4 M1120.0 351.9h2.4 M1132.2 351.9h2.4 M1144.5 351.9h2.4 M114.0 365.8h2.4 M126.3 365.8h2.4 M138.5 365.8h2.4 M150.8 365.8h2.4 M163.1 365.8h2.4 M175.3 365.8h2.4 M187.6 365.8h2.4 M199.9 365.8h2.4 M212.1 365.8h2.4 M224.4 365.8h2.4 M236.7 365.8h2.4 M248.9 365.8h2.4 M261.2 365.8h2.4 M273.5 365.8h2.4 M285.8 365.8h2.4 M298.0 365.8h2.4 M310.3 365.8h2.4 M322.6 365.8h2.4 M334.8 365.8h2.4 M347.1 365.8h2.4 M359.4 365.8h2.4 M371.6 365.8h2.4 M383.9 365.8h2.4 M396.2 365.8h2.4 M408.4 365.8h2.4 M420.7 365.8h2.4 M433.0 365.8h2.4 M445.2 365.8h2.4 M457.5 365.8h2.4 M469.8 365.8h2.4 M482.0 365.8h2.4 M494.3 365.8h2.4 M506.6 365.8h2.4 M518.8 365.8h2.4 M531.1 365.8h2.4 M543.4 365.8h2.4 M555.6 365.8h2.4 M567.9 365.8h2.4 M580.2 365.8h2.4 M592.5 365.8h2.4 M604.7 365.8h2.4 M617.0 365.8h2.4 M629.3 365.8h2.4 M641.5 365.8h2.4 M653.8 365.8h2.4 M666.1 365.8h2.4 M678.3 365.8h2.4 M690.6 365.8h2.4 M702.9 365.8h2.4 M715.1 365.8h2.4 M727.4 365.8h2.4 M739.7 365.8h2.4 M751.9 365.8h2.4 M764.2 365.8h2.4 M776.5 365.8h2.4 M788.7 365.8h2.4 M801.0 365.8h2.4 M813.3 365.8h2.4 M825.5 365.8h2.4 M837.8 365.8h2.4 M850.1 365.8h2.4 M862.3 365.8h2.4 M874.6 365.8h2.4 M886.9 365.8h2.4 M899.2 365.8h2.4 M911.4 365.8h2.4 M923.7 365.8h2.4 M936.0 365.8h2.4 M948.2 365.8h2.4 M960.5 365.8h2.4 M972.8 365.8h2.4 M985.0 365.8h2.4 M997.3 365.8h2.4 M1009.6 365.8h2.4 M1021.8 365.8h2.4 M1034.1 365.8h2.4 M1046.4 365.8h2.4 M1058.6 365.8h2.4 M1070.9 365.8h2.4 M1083.2 365.8h2.4 M1095.4 365.8h2.4 M1107.7 365.8h2.4 M1120.0 365.8h2.4 M1132.2 365.8h2.4 M1144.5 365.8h2.4 M114.0 379.6h2.4 M126.3 379.6h2.4 M138.5 379.6h2.4 M150.8 379.6h2.4 M163.1 379.6h2.4 M175.3 379.6h2.4 M187.6 379.6h2.4 M199.9 379.6h2.4 M212.1 379.6h2.4 M224.4 379.6h2.4 M236.7 379.6h2.4 M248.9 379.6h2.4 M261.2 379.6h2.4 M273.5 379.6h2.4 M285.8 379.6h2.4 M298.0 379.6h2.4 M310.3 379.6h2.4 M322.6 379.6h2.4 M334.8 379.6h2.4 M347.1 379.6h2.4 M359.4 379.6h2.4 M371.6 379.6h2.4 M383.9 379.6h2.4 M396.2 379.6h2.4 M408.4 379.6h2.4 M420.7 379.6h2.4 M433.0 379.6h2.4 M445.2 379.6h2.4 M457.5 379.6h2.4 M469.8 379.6h2.4 M482.0 379.6h2.4 M494.3 379.6h2.4 M506.6 379.6h2.4 M518.8 379.6h2.4 M531.1 379.6h2.4 M543.4 379.6h2.4 M555.6 379.6h2.4 M567.9 379.6h2.4 M580.2 379.6h2.4 M592.5 379.6h2.4 M604.7 379.6h2.4 M617.0 379.6h2.4 M629.3 379.6h2.4 M641.5 379.6h2.4 M653.8 379.6h2.4 M666.1 379.6h2.4 M678.3 379.6h2.4 M690.6 379.6h2.4 M702.9 379.6h2.4 M715.1 379.6h2.4 M727.4 379.6h2.4 M739.7 379.6h2.4 M751.9 379.6h2.4 M764.2 379.6h2.4 M776.5 379.6h2.4 M788.7 379.6h2.4 M801.0 379.6h2.4 M813.3 379.6h2.4 M825.5 379.6h2.4 M837.8 379.6h2.4 M850.1 379.6h2.4 M862.3 379.6h2.4 M874.6 379.6h2.4 M886.9 379.6h2.4 M899.2 379.6h2.4 M911.4 379.6h2.4 M923.7 379.6h2.4 M936.0 379.6h2.4 M948.2 379.6h2.4 M960.5 379.6h2.4 M972.8 379.6h2.4 M985.0 379.6h2.4 M997.3 379.6h2.4 M1009.6 379.6h2.4 M1021.8 379.6h2.4 M1034.1 379.6h2.4 M1046.4 379.6h2.4 M1058.6 379.6h2.4 M1070.9 379.6h2.4 M1083.2 379.6h2.4 M1095.4 379.6h2.4 M1107.7 379.6h2.4 M1120.0 379.6h2.4 M1132.2 379.6h2.4 M1144.5 379.6h2.4 M114.0 393.5h2.4 M126.3 393.5h2.4 M138.5 393.5h2.4 M150.8 393.5h2.4 M163.1 393.5h2.4 M175.3 393.5h2.4 M187.6 393.5h2.4 M199.9 393.5h2.4 M212.1 393.5h2.4 M224.4 393.5h2.4 M236.7 393.5h2.4 M248.9 393.5h2.4 M261.2 393.5h2.4 M273.5 393.5h2.4 M285.8 393.5h2.4 M298.0 393.5h2.4 M310.3 393.5h2.4 M322.6 393.5h2.4 M334.8 393.5h2.4 M347.1 393.5h2.4 M359.4 393.5h2.4 M371.6 393.5h2.4 M383.9 393.5h2.4 M396.2 393.5h2.4 M408.4 393.5h2.4 M420.7 393.5h2.4 M433.0 393.5h2.4 M445.2 393.5h2.4 M457.5 393.5h2.4 M469.8 393.5h2.4 M482.0 393.5h2.4 M494.3 393.5h2.4 M506.6 393.5h2.4 M518.8 393.5h2.4 M531.1 393.5h2.4 M543.4 393.5h2.4 M555.6 393.5h2.4 M567.9 393.5h2.4 M580.2 393.5h2.4 M592.5 393.5h2.4 M604.7 393.5h2.4 M617.0 393.5h2.4 M629.3 393.5h2.4 M641.5 393.5h2.4 M653.8 393.5h2.4 M666.1 393.5h2.4 M678.3 393.5h2.4 M690.6 393.5h2.4 M702.9 393.5h2.4 M715.1 393.5h2.4 M727.4 393.5h2.4 M739.7 393.5h2.4 M751.9 393.5h2.4 M764.2 393.5h2.4 M776.5 393.5h2.4 M788.7 393.5h2.4 M801.0 393.5h2.4 M813.3 393.5h2.4 M825.5 393.5h2.4 M837.8 393.5h2.4 M850.1 393.5h2.4 M862.3 393.5h2.4 M874.6 393.5h2.4 M886.9 393.5h2.4 M899.2 393.5h2.4 M911.4 393.5h2.4 M923.7 393.5h2.4 M936.0 393.5h2.4 M948.2 393.5h2.4 M960.5 393.5h2.4 M972.8 393.5h2.4 M985.0 393.5h2.4 M997.3 393.5h2.4 M1009.6 393.5h2.4 M1021.8 393.5h2.4 M1034.1 393.5h2.4 M1046.4 393.5h2.4 M1058.6 393.5h2.4 M1070.9 393.5h2.4 M1083.2 393.5h2.4 M1095.4 393.5h2.4 M1107.7 393.5h2.4 M1120.0 393.5h2.4 M1132.2 393.5h2.4 M1144.5 393.5h2.4 M114.0 407.4h2.4 M126.3 407.4h2.4 M138.5 407.4h2.4 M150.8 407.4h2.4 M163.1 407.4h2.4 M175.3 407.4h2.4 M187.6 407.4h2.4 M199.9 407.4h2.4 M212.1 407.4h2.4 M224.4 407.4h2.4 M236.7 407.4h2.4 M248.9 407.4h2.4 M261.2 407.4h2.4 M273.5 407.4h2.4 M285.8 407.4h2.4 M298.0 407.4h2.4 M310.3 407.4h2.4 M322.6 407.4h2.4 M334.8 407.4h2.4 M347.1 407.4h2.4 M359.4 407.4h2.4 M371.6 407.4h2.4 M383.9 407.4h2.4 M396.2 407.4h2.4 M408.4 407.4h2.4 M420.7 407.4h2.4 M433.0 407.4h2.4 M445.2 407.4h2.4 M457.5 407.4h2.4 M469.8 407.4h2.4 M482.0 407.4h2.4 M494.3 407.4h2.4 M506.6 407.4h2.4 M518.8 407.4h2.4 M531.1 407.4h2.4 M543.4 407.4h2.4 M555.6 407.4h2.4 M567.9 407.4h2.4 M580.2 407.4h2.4 M592.5 407.4h2.4 M604.7 407.4h2.4 M617.0 407.4h2.4 M629.3 407.4h2.4 M641.5 407.4h2.4 M653.8 407.4h2.4 M666.1 407.4h2.4 M678.3 407.4h2.4 M690.6 407.4h2.4 M702.9 407.4h2.4 M715.1 407.4h2.4 M727.4 407.4h2.4 M739.7 407.4h2.4 M751.9 407.4h2.4 M764.2 407.4h2.4 M776.5 407.4h2.4 M788.7 407.4h2.4 M801.0 407.4h2.4 M813.3 407.4h2.4 M825.5 407.4h2.4 M837.8 407.4h2.4 M850.1 407.4h2.4 M862.3 407.4h2.4 M874.6 407.4h2.4 M886.9 407.4h2.4 M899.2 407.4h2.4 M911.4 407.4h2.4 M923.7 407.4h2.4 M936.0 407.4h2.4 M948.2 407.4h2.4 M960.5 407.4h2.4 M972.8 407.4h2.4 M985.0 407.4h2.4 M997.3 407.4h2.4 M1009.6 407.4h2.4 M1021.8 407.4h2.4 M1034.1 407.4h2.4 M1046.4 407.4h2.4 M1058.6 407.4h2.4 M1070.9 407.4h2.4 M1083.2 407.4h2.4 M1095.4 407.4h2.4 M1107.7 407.4h2.4 M1120.0 407.4h2.4 M1132.2 407.4h2.4 M1144.5 407.4h2.4 M114.0 421.3h2.4 M126.3 421.3h2.4 M138.5 421.3h2.4 M150.8 421.3h2.4 M163.1 421.3h2.4 M175.3 421.3h2.4 M187.6 421.3h2.4 M199.9 421.3h2.4 M212.1 421.3h2.4 M224.4 421.3h2.4 M236.7 421.3h2.4 M248.9 421.3h2.4 M261.2 421.3h2.4 M273.5 421.3h2.4 M285.8 421.3h2.4 M298.0 421.3h2.4 M310.3 421.3h2.4 M322.6 421.3h2.4 M334.8 421.3h2.4 M347.1 421.3h2.4 M359.4 421.3h2.4 M371.6 421.3h2.4 M383.9 421.3h2.4 M396.2 421.3h2.4 M408.4 421.3h2.4 M420.7 421.3h2.4 M433.0 421.3h2.4 M445.2 421.3h2.4 M457.5 421.3h2.4 M469.8 421.3h2.4 M482.0 421.3h2.4 M494.3 421.3h2.4 M506.6 421.3h2.4 M518.8 421.3h2.4 M531.1 421.3h2.4 M543.4 421.3h2.4 M555.6 421.3h2.4 M567.9 421.3h2.4 M580.2 421.3h2.4 M592.5 421.3h2.4 M604.7 421.3h2.4 M617.0 421.3h2.4 M629.3 421.3h2.4 M641.5 421.3h2.4 M653.8 421.3h2.4 M666.1 421.3h2.4 M678.3 421.3h2.4 M690.6 421.3h2.4 M702.9 421.3h2.4 M715.1 421.3h2.4 M727.4 421.3h2.4 M739.7 421.3h2.4 M751.9 421.3h2.4 M764.2 421.3h2.4 M776.5 421.3h2.4 M788.7 421.3h2.4 M801.0 421.3h2.4 M813.3 421.3h2.4 M825.5 421.3h2.4 M837.8 421.3h2.4 M850.1 421.3h2.4 M862.3 421.3h2.4 M874.6 421.3h2.4 M886.9 421.3h2.4 M899.2 421.3h2.4 M911.4 421.3h2.4 M923.7 421.3h2.4 M936.0 421.3h2.4 M948.2 421.3h2.4 M960.5 421.3h2.4 M972.8 421.3h2.4 M985.0 421.3h2.4 M997.3 421.3h2.4 M1009.6 421.3h2.4 M1021.8 421.3h2.4 M1034.1 421.3h2.4 M1046.4 421.3h2.4 M1058.6 421.3h2.4 M1070.9 421.3h2.4 M1083.2 421.3h2.4 M1095.4 421.3h2.4 M1107.7 421.3h2.4 M1120.0 421.3h2.4 M1132.2 421.3h2.4 M1144.5 421.3h2.4 M114.0 435.2h2.4 M126.3 435.2h2.4 M138.5 435.2h2.4 M150.8 435.2h2.4 M163.1 435.2h2.4 M175.3 435.2h2.4 M187.6 435.2h2.4 M199.9 435.2h2.4 M212.1 435.2h2.4 M224.4 435.2h2.4 M236.7 435.2h2.4 M248.9 435.2h2.4 M261.2 435.2h2.4 M273.5 435.2h2.4 M285.8 435.2h2.4 M298.0 435.2h2.4 M310.3 435.2h2.4 M322.6 435.2h2.4 M334.8 435.2h2.4 M347.1 435.2h2.4 M359.4 435.2h2.4 M371.6 435.2h2.4 M383.9 435.2h2.4 M396.2 435.2h2.4 M408.4 435.2h2.4 M420.7 435.2h2.4 M433.0 435.2h2.4 M445.2 435.2h2.4 M457.5 435.2h2.4 M469.8 435.2h2.4 M482.0 435.2h2.4 M494.3 435.2h2.4 M506.6 435.2h2.4 M518.8 435.2h2.4 M531.1 435.2h2.4 M543.4 435.2h2.4 M555.6 435.2h2.4 M567.9 435.2h2.4 M580.2 435.2h2.4 M592.5 435.2h2.4 M604.7 435.2h2.4 M617.0 435.2h2.4 M629.3 435.2h2.4 M641.5 435.2h2.4 M653.8 435.2h2.4 M666.1 435.2h2.4 M678.3 435.2h2.4 M690.6 435.2h2.4 M702.9 435.2h2.4 M715.1 435.2h2.4 M727.4 435.2h2.4 M739.7 435.2h2.4 M751.9 435.2h2.4 M764.2 435.2h2.4 M776.5 435.2h2.4 M788.7 435.2h2.4 M801.0 435.2h2.4 M813.3 435.2h2.4 M825.5 435.2h2.4 M837.8 435.2h2.4 M850.1 435.2h2.4 M862.3 435.2h2.4 M874.6 435.2h2.4 M886.9 435.2h2.4 M899.2 435.2h2.4 M911.4 435.2h2.4 M923.7 435.2h2.4 M936.0 435.2h2.4 M948.2 435.2h2.4 M960.5 435.2h2.4 M972.8 435.2h2.4 M985.0 435.2h2.4 M997.3 435.2h2.4 M1009.6 435.2h2.4 M1021.8 435.2h2.4 M1034.1 435.2h2.4 M1046.4 435.2h2.4 M1058.6 435.2h2.4 M1070.9 435.2h2.4 M1083.2 435.2h2.4 M1095.4 435.2h2.4 M1107.7 435.2h2.4 M1120.0 435.2h2.4 M1132.2 435.2h2.4 M1144.5 435.2h2.4 M114.0 464.6h2.4 M126.3 464.6h2.4 M138.5 464.6h2.4 M150.8 464.6h2.4 M163.1 464.6h2.4 M175.3 464.6h2.4 M187.6 464.6h2.4 M199.9 464.6h2.4 M212.1 464.6h2.4 M224.4 464.6h2.4 M236.7 464.6h2.4 M248.9 464.6h2.4 M261.2 464.6h2.4 M273.5 464.6h2.4 M285.8 464.6h2.4 M298.0 464.6h2.4 M310.3 464.6h2.4 M322.6 464.6h2.4 M334.8 464.6h2.4 M347.1 464.6h2.4 M359.4 464.6h2.4 M371.6 464.6h2.4 M383.9 464.6h2.4 M396.2 464.6h2.4 M408.4 464.6h2.4 M420.7 464.6h2.4 M433.0 464.6h2.4 M445.2 464.6h2.4 M457.5 464.6h2.4 M469.8 464.6h2.4 M482.0 464.6h2.4 M494.3 464.6h2.4 M506.6 464.6h2.4 M518.8 464.6h2.4 M531.1 464.6h2.4 M543.4 464.6h2.4 M555.6 464.6h2.4 M567.9 464.6h2.4 M580.2 464.6h2.4 M592.5 464.6h2.4 M604.7 464.6h2.4 M617.0 464.6h2.4 M629.3 464.6h2.4 M641.5 464.6h2.4 M653.8 464.6h2.4 M666.1 464.6h2.4 M678.3 464.6h2.4 M690.6 464.6h2.4 M702.9 464.6h2.4 M715.1 464.6h2.4 M727.4 464.6h2.4 M739.7 464.6h2.4 M751.9 464.6h2.4 M764.2 464.6h2.4 M776.5 464.6h2.4 M788.7 464.6h2.4 M801.0 464.6h2.4 M813.3 464.6h2.4 M825.5 464.6h2.4 M837.8 464.6h2.4 M850.1 464.6h2.4 M862.3 464.6h2.4 M874.6 464.6h2.4 M886.9 464.6h2.4 M899.2 464.6h2.4 M911.4 464.6h2.4 M923.7 464.6h2.4 M936.0 464.6h2.4 M948.2 464.6h2.4 M960.5 464.6h2.4 M972.8 464.6h2.4 M985.0 464.6h2.4 M997.3 464.6h2.4 M1009.6 464.6h2.4 M1021.8 464.6h2.4 M1034.1 464.6h2.4 M1046.4 464.6h2.4 M1058.6 464.6h2.4 M1070.9 464.6h2.4 M1083.2 464.6h2.4 M1095.4 464.6h2.4 M1107.7 464.6h2.4 M1120.0 464.6h2.4 M1132.2 464.6h2.4 M1144.5 464.6h2.4 M114.0 479.4h2.4 M126.3 479.4h2.4 M138.5 479.4h2.4 M150.8 479.4h2.4 M163.1 479.4h2.4 M175.3 479.4h2.4 M187.6 479.4h2.4 M199.9 479.4h2.4 M212.1 479.4h2.4 M224.4 479.4h2.4 M236.7 479.4h2.4 M248.9 479.4h2.4 M261.2 479.4h2.4 M273.5 479.4h2.4 M285.8 479.4h2.4 M298.0 479.4h2.4 M310.3 479.4h2.4 M322.6 479.4h2.4 M334.8 479.4h2.4 M347.1 479.4h2.4 M359.4 479.4h2.4 M371.6 479.4h2.4 M383.9 479.4h2.4 M396.2 479.4h2.4 M408.4 479.4h2.4 M420.7 479.4h2.4 M433.0 479.4h2.4 M445.2 479.4h2.4 M457.5 479.4h2.4 M469.8 479.4h2.4 M482.0 479.4h2.4 M494.3 479.4h2.4 M506.6 479.4h2.4 M518.8 479.4h2.4 M531.1 479.4h2.4 M543.4 479.4h2.4 M555.6 479.4h2.4 M567.9 479.4h2.4 M580.2 479.4h2.4 M592.5 479.4h2.4 M604.7 479.4h2.4 M617.0 479.4h2.4 M629.3 479.4h2.4 M641.5 479.4h2.4 M653.8 479.4h2.4 M666.1 479.4h2.4 M678.3 479.4h2.4 M690.6 479.4h2.4 M702.9 479.4h2.4 M715.1 479.4h2.4 M727.4 479.4h2.4 M739.7 479.4h2.4 M751.9 479.4h2.4 M764.2 479.4h2.4 M776.5 479.4h2.4 M788.7 479.4h2.4 M801.0 479.4h2.4 M813.3 479.4h2.4 M825.5 479.4h2.4 M837.8 479.4h2.4 M850.1 479.4h2.4 M862.3 479.4h2.4 M874.6 479.4h2.4 M886.9 479.4h2.4 M899.2 479.4h2.4 M911.4 479.4h2.4 M923.7 479.4h2.4 M936.0 479.4h2.4 M948.2 479.4h2.4 M960.5 479.4h2.4 M972.8 479.4h2.4 M985.0 479.4h2.4 M997.3 479.4h2.4 M1009.6 479.4h2.4 M1021.8 479.4h2.4 M1034.1 479.4h2.4 M1046.4 479.4h2.4 M1058.6 479.4h2.4 M1070.9 479.4h2.4 M1083.2 479.4h2.4 M1095.4 479.4h2.4 M1107.7 479.4h2.4 M1120.0 479.4h2.4 M1132.2 479.4h2.4 M1144.5 479.4h2.4 M114.0 494.2h2.4 M126.3 494.2h2.4 M138.5 494.2h2.4 M150.8 494.2h2.4 M163.1 494.2h2.4 M175.3 494.2h2.4 M187.6 494.2h2.4 M199.9 494.2h2.4 M212.1 494.2h2.4 M224.4 494.2h2.4 M236.7 494.2h2.4 M248.9 494.2h2.4 M261.2 494.2h2.4 M273.5 494.2h2.4 M285.8 494.2h2.4 M298.0 494.2h2.4 M310.3 494.2h2.4 M322.6 494.2h2.4 M334.8 494.2h2.4 M347.1 494.2h2.4 M359.4 494.2h2.4 M371.6 494.2h2.4 M383.9 494.2h2.4 M396.2 494.2h2.4 M408.4 494.2h2.4 M420.7 494.2h2.4 M433.0 494.2h2.4 M445.2 494.2h2.4 M457.5 494.2h2.4 M469.8 494.2h2.4 M482.0 494.2h2.4 M494.3 494.2h2.4 M506.6 494.2h2.4 M518.8 494.2h2.4 M531.1 494.2h2.4 M543.4 494.2h2.4 M555.6 494.2h2.4 M567.9 494.2h2.4 M580.2 494.2h2.4 M592.5 494.2h2.4 M604.7 494.2h2.4 M617.0 494.2h2.4 M629.3 494.2h2.4 M641.5 494.2h2.4 M653.8 494.2h2.4 M666.1 494.2h2.4 M678.3 494.2h2.4 M690.6 494.2h2.4 M702.9 494.2h2.4 M715.1 494.2h2.4 M727.4 494.2h2.4 M739.7 494.2h2.4 M751.9 494.2h2.4 M764.2 494.2h2.4 M776.5 494.2h2.4 M788.7 494.2h2.4 M801.0 494.2h2.4 M813.3 494.2h2.4 M825.5 494.2h2.4 M837.8 494.2h2.4 M850.1 494.2h2.4 M862.3 494.2h2.4 M874.6 494.2h2.4 M886.9 494.2h2.4 M899.2 494.2h2.4 M911.4 494.2h2.4 M923.7 494.2h2.4 M936.0 494.2h2.4 M948.2 494.2h2.4 M960.5 494.2h2.4 M972.8 494.2h2.4 M985.0 494.2h2.4 M997.3 494.2h2.4 M1009.6 494.2h2.4 M1021.8 494.2h2.4 M1034.1 494.2h2.4 M1046.4 494.2h2.4 M1058.6 494.2h2.4 M1070.9 494.2h2.4 M1083.2 494.2h2.4 M1095.4 494.2h2.4 M1107.7 494.2h2.4 M1120.0 494.2h2.4 M1132.2 494.2h2.4 M1144.5 494.2h2.4 M114.0 509.0h2.4 M126.3 509.0h2.4 M138.5 509.0h2.4 M150.8 509.0h2.4 M163.1 509.0h2.4 M175.3 509.0h2.4 M187.6 509.0h2.4 M199.9 509.0h2.4 M212.1 509.0h2.4 M224.4 509.0h2.4 M236.7 509.0h2.4 M248.9 509.0h2.4 M261.2 509.0h2.4 M273.5 509.0h2.4 M285.8 509.0h2.4 M298.0 509.0h2.4 M310.3 509.0h2.4 M322.6 509.0h2.4 M334.8 509.0h2.4 M347.1 509.0h2.4 M359.4 509.0h2.4 M371.6 509.0h2.4 M383.9 509.0h2.4 M396.2 509.0h2.4 M408.4 509.0h2.4 M420.7 509.0h2.4 M433.0 509.0h2.4 M445.2 509.0h2.4 M457.5 509.0h2.4 M469.8 509.0h2.4 M482.0 509.0h2.4 M494.3 509.0h2.4 M506.6 509.0h2.4 M518.8 509.0h2.4 M531.1 509.0h2.4 M543.4 509.0h2.4 M555.6 509.0h2.4 M567.9 509.0h2.4 M580.2 509.0h2.4 M592.5 509.0h2.4 M604.7 509.0h2.4 M617.0 509.0h2.4 M629.3 509.0h2.4 M641.5 509.0h2.4 M653.8 509.0h2.4 M666.1 509.0h2.4 M678.3 509.0h2.4 M690.6 509.0h2.4 M702.9 509.0h2.4 M715.1 509.0h2.4 M727.4 509.0h2.4 M739.7 509.0h2.4 M751.9 509.0h2.4 M764.2 509.0h2.4 M776.5 509.0h2.4 M788.7 509.0h2.4 M801.0 509.0h2.4 M813.3 509.0h2.4 M825.5 509.0h2.4 M837.8 509.0h2.4 M850.1 509.0h2.4 M862.3 509.0h2.4 M874.6 509.0h2.4 M886.9 509.0h2.4 M899.2 509.0h2.4 M911.4 509.0h2.4 M923.7 509.0h2.4 M936.0 509.0h2.4 M948.2 509.0h2.4 M960.5 509.0h2.4 M972.8 509.0h2.4 M985.0 509.0h2.4 M997.3 509.0h2.4 M1009.6 509.0h2.4 M1021.8 509.0h2.4 M1034.1 509.0h2.4 M1046.4 509.0h2.4 M1058.6 509.0h2.4 M1070.9 509.0h2.4 M1083.2 509.0h2.4 M1095.4 509.0h2.4 M1107.7 509.0h2.4 M1120.0 509.0h2.4 M1132.2 509.0h2.4 M1144.5 509.0h2.4 M114.0 523.8h2.4 M126.3 523.8h2.4 M138.5 523.8h2.4 M150.8 523.8h2.4 M163.1 523.8h2.4 M175.3 523.8h2.4 M187.6 523.8h2.4 M199.9 523.8h2.4 M212.1 523.8h2.4 M224.4 523.8h2.4 M236.7 523.8h2.4 M248.9 523.8h2.4 M261.2 523.8h2.4 M273.5 523.8h2.4 M285.8 523.8h2.4 M298.0 523.8h2.4 M310.3 523.8h2.4 M322.6 523.8h2.4 M334.8 523.8h2.4 M347.1 523.8h2.4 M359.4 523.8h2.4 M371.6 523.8h2.4 M383.9 523.8h2.4 M396.2 523.8h2.4 M408.4 523.8h2.4 M420.7 523.8h2.4 M433.0 523.8h2.4 M445.2 523.8h2.4 M457.5 523.8h2.4 M469.8 523.8h2.4 M482.0 523.8h2.4 M494.3 523.8h2.4 M506.6 523.8h2.4 M518.8 523.8h2.4 M531.1 523.8h2.4 M543.4 523.8h2.4 M555.6 523.8h2.4 M567.9 523.8h2.4 M580.2 523.8h2.4 M592.5 523.8h2.4 M604.7 523.8h2.4 M617.0 523.8h2.4 M629.3 523.8h2.4 M641.5 523.8h2.4 M653.8 523.8h2.4 M666.1 523.8h2.4 M678.3 523.8h2.4 M690.6 523.8h2.4 M702.9 523.8h2.4 M715.1 523.8h2.4 M727.4 523.8h2.4 M739.7 523.8h2.4 M751.9 523.8h2.4 M764.2 523.8h2.4 M776.5 523.8h2.4 M788.7 523.8h2.4 M801.0 523.8h2.4 M813.3 523.8h2.4 M825.5 523.8h2.4 M837.8 523.8h2.4 M850.1 523.8h2.4 M862.3 523.8h2.4 M874.6 523.8h2.4 M886.9 523.8h2.4 M899.2 523.8h2.4 M911.4 523.8h2.4 M923.7 523.8h2.4 M936.0 523.8h2.4 M948.2 523.8h2.4 M960.5 523.8h2.4 M972.8 523.8h2.4 M985.0 523.8h2.4 M997.3 523.8h2.4 M1009.6 523.8h2.4 M1021.8 523.8h2.4 M1034.1 523.8h2.4 M1046.4 523.8h2.4 M1058.6 523.8h2.4 M1070.9 523.8h2.4 M1083.2 523.8h2.4 M1095.4 523.8h2.4 M1107.7 523.8h2.4 M1120.0 523.8h2.4 M1132.2 523.8h2.4 M1144.5 523.8h2.4 M114.0 538.6h2.4 M126.3 538.6h2.4 M138.5 538.6h2.4 M150.8 538.6h2.4 M163.1 538.6h2.4 M175.3 538.6h2.4 M187.6 538.6h2.4 M199.9 538.6h2.4 M212.1 538.6h2.4 M224.4 538.6h2.4 M236.7 538.6h2.4 M248.9 538.6h2.4 M261.2 538.6h2.4 M273.5 538.6h2.4 M285.8 538.6h2.4 M298.0 538.6h2.4 M310.3 538.6h2.4 M322.6 538.6h2.4 M334.8 538.6h2.4 M347.1 538.6h2.4 M359.4 538.6h2.4 M371.6 538.6h2.4 M383.9 538.6h2.4 M396.2 538.6h2.4 M408.4 538.6h2.4 M420.7 538.6h2.4 M433.0 538.6h2.4 M445.2 538.6h2.4 M457.5 538.6h2.4 M469.8 538.6h2.4 M482.0 538.6h2.4 M494.3 538.6h2.4 M506.6 538.6h2.4 M518.8 538.6h2.4 M531.1 538.6h2.4 M543.4 538.6h2.4 M555.6 538.6h2.4 M567.9 538.6h2.4 M580.2 538.6h2.4 M592.5 538.6h2.4 M604.7 538.6h2.4 M617.0 538.6h2.4 M629.3 538.6h2.4 M641.5 538.6h2.4 M653.8 538.6h2.4 M666.1 538.6h2.4 M678.3 538.6h2.4 M690.6 538.6h2.4 M702.9 538.6h2.4 M715.1 538.6h2.4 M727.4 538.6h2.4 M739.7 538.6h2.4 M751.9 538.6h2.4 M764.2 538.6h2.4 M776.5 538.6h2.4 M788.7 538.6h2.4 M801.0 538.6h2.4 M813.3 538.6h2.4 M825.5 538.6h2.4 M837.8 538.6h2.4 M850.1 538.6h2.4 M862.3 538.6h2.4 M874.6 538.6h2.4 M886.9 538.6h2.4 M899.2 538.6h2.4 M911.4 538.6h2.4 M923.7 538.6h2.4 M936.0 538.6h2.4 M948.2 538.6h2.4 M960.5 538.6h2.4 M972.8 538.6h2.4 M985.0 538.6h2.4 M997.3 538.6h2.4 M1009.6 538.6h2.4 M1021.8 538.6h2.4 M1034.1 538.6h2.4 M1046.4 538.6h2.4 M1058.6 538.6h2.4 M1070.9 538.6h2.4 M1083.2 538.6h2.4 M1095.4 538.6h2.4 M1107.7 538.6h2.4 M1120.0 538.6h2.4 M1132.2 538.6h2.4 M1144.5 538.6h2.4 M114.0 553.4h2.4 M126.3 553.4h2.4 M138.5 553.4h2.4 M150.8 553.4h2.4 M163.1 553.4h2.4 M175.3 553.4h2.4 M187.6 553.4h2.4 M199.9 553.4h2.4 M212.1 553.4h2.4 M224.4 553.4h2.4 M236.7 553.4h2.4 M248.9 553.4h2.4 M261.2 553.4h2.4 M273.5 553.4h2.4 M285.8 553.4h2.4 M298.0 553.4h2.4 M310.3 553.4h2.4 M322.6 553.4h2.4 M334.8 553.4h2.4 M347.1 553.4h2.4 M359.4 553.4h2.4 M371.6 553.4h2.4 M383.9 553.4h2.4 M396.2 553.4h2.4 M408.4 553.4h2.4 M420.7 553.4h2.4 M433.0 553.4h2.4 M445.2 553.4h2.4 M457.5 553.4h2.4 M469.8 553.4h2.4 M482.0 553.4h2.4 M494.3 553.4h2.4 M506.6 553.4h2.4 M518.8 553.4h2.4 M531.1 553.4h2.4 M543.4 553.4h2.4 M555.6 553.4h2.4 M567.9 553.4h2.4 M580.2 553.4h2.4 M592.5 553.4h2.4 M604.7 553.4h2.4 M617.0 553.4h2.4 M629.3 553.4h2.4 M641.5 553.4h2.4 M653.8 553.4h2.4 M666.1 553.4h2.4 M678.3 553.4h2.4 M690.6 553.4h2.4 M702.9 553.4h2.4 M715.1 553.4h2.4 M727.4 553.4h2.4 M739.7 553.4h2.4 M751.9 553.4h2.4 M764.2 553.4h2.4 M776.5 553.4h2.4 M788.7 553.4h2.4 M801.0 553.4h2.4 M813.3 553.4h2.4 M825.5 553.4h2.4 M837.8 553.4h2.4 M850.1 553.4h2.4 M862.3 553.4h2.4 M874.6 553.4h2.4 M886.9 553.4h2.4 M899.2 553.4h2.4 M911.4 553.4h2.4 M923.7 553.4h2.4 M936.0 553.4h2.4 M948.2 553.4h2.4 M960.5 553.4h2.4 M972.8 553.4h2.4 M985.0 553.4h2.4 M997.3 553.4h2.4 M1009.6 553.4h2.4 M1021.8 553.4h2.4 M1034.1 553.4h2.4 M1046.4 553.4h2.4 M1058.6 553.4h2.4 M1070.9 553.4h2.4 M1083.2 553.4h2.4 M1095.4 553.4h2.4 M1107.7 553.4h2.4 M1120.0 553.4h2.4 M1132.2 553.4h2.4 M1144.5 553.4h2.4" stroke="#cfcfcf" stroke-width="1.6" fill="none"/>
<path d="M103 509.0L103.0 489.2L104.0 489.2L104.0 489.2L105.0 489.2L105.0 489.2L106.0 489.2L106.0 489.2L107.0 489.2L107.0 489.2L108.0 489.2L108.0 489.2L109.0 489.2L109.0 489.2L110.0 489.2L110.0 489.2L111.0 489.2L111.0 494.1L112.0 494.1L112.0 494.1L113.0 494.1L113.0 494.1L114.0 494.1L114.0 489.2L115.0 489.2L115.0 489.2L116.0 489.2L116.0 489.2L117.0 489.2L117.0 489.2L118.0 489.2L118.0 489.2L119.0 489.2L119.0 489.2L120.0 489.2L120.0 484.2L121.0 484.2L121.0 484.2L122.0 484.2L122.0 484.2L123.0 484.2L123.0 479.3L124.0 479.3L124.0 479.3L125.0 479.3L125.0 479.3L126.0 479.3L126.0 479.3L127.0 479.3L127.0 479.3L128.0 479.3L128.0 479.3L129.0 479.3L129.0 479.3L130.0 479.3L130.0 469.4L131.0 469.4L131.0 469.4L132.0 469.4L132.0 469.4L133.0 469.4L133.0 464.4L134.0 464.4L134.0 464.4L135.0 464.4L135.0 464.4L136.0 464.4L136.0 464.4L137.0 464.4L137.0 469.4L138.0 469.4L138.0 469.4L139.0 469.4L139.0 474.4L140.0 474.4L140.0 474.4L141.0 474.4L141.0 474.4L142.0 474.4L142.0 479.3L143.0 479.3L143.0 479.3L144.0 479.3L144.0 479.3L145.0 479.3L145.0 474.4L146.0 474.4L146.0 474.4L147.0 474.4L147.0 474.4L148.0 474.4L148.0 479.3L149.0 479.3L149.0 479.3L150.0 479.3L150.0 479.3L151.0 479.3L151.0 484.2L152.0 484.2L152.0 484.2L153.0 484.2L153.0 484.2L154.0 484.2L154.0 489.2L155.0 489.2L155.0 489.2L156.0 489.2L156.0 489.2L157.0 489.2L157.0 489.2L158.0 489.2L158.0 489.2L159.0 489.2L159.0 489.2L160.0 489.2L160.0 489.2L161.0 489.2L161.0 494.1L162.0 494.1L162.0 494.1L163.0 494.1L163.0 494.1L164.0 494.1L164.0 494.1L165.0 494.1L165.0 494.1L166.0 494.1L166.0 494.1L167.0 494.1L167.0 484.2L168.0 484.2L168.0 484.2L169.0 484.2L169.0 484.2L170.0 484.2L170.0 484.2L171.0 484.2L171.0 484.2L172.0 484.2L172.0 484.2L173.0 484.2L173.0 474.4L174.0 474.4L174.0 474.4L175.0 474.4L175.0 474.4L176.0 474.4L176.0 474.4L177.0 474.4L177.0 474.4L178.0 474.4L178.0 474.4L179.0 474.4L179.0 469.4L180.0 469.4L180.0 469.4L181.0 469.4L181.0 474.4L182.0 474.4L182.0 474.4L183.0 474.4L183.0 474.4L184.0 474.4L184.0 479.3L185.0 479.3L185.0 479.3L186.0 479.3L186.0 479.3L187.0 479.3L187.0 484.2L188.0 484.2L188.0 484.2L189.0 484.2L189.0 484.2L190.0 484.2L190.0 489.2L191.0 489.2L191.0 489.2L192.0 489.2L192.0 489.2L193.0 489.2L193.0 489.2L194.0 489.2L194.0 489.2L195.0 489.2L195.0 489.2L196.0 489.2L196.0 499.1L197.0 499.1L197.0 499.1L198.0 499.1L198.0 499.1L199.0 499.1L199.0 499.1L200.0 499.1L200.0 494.1L201.0 494.1L201.0 494.1L202.0 494.1L202.0 494.1L203.0 494.1L203.0 489.2L204.0 489.2L204.0 489.2L205.0 489.2L205.0 489.2L206.0 489.2L206.0 484.2L207.0 484.2L207.0 484.2L208.0 484.2L208.0 484.2L209.0 484.2L209.0 479.3L210.0 479.3L210.0 479.3L211.0 479.3L211.0 479.3L212.0 479.3L212.0 484.2L213.0 484.2L213.0 484.2L214.0 484.2L214.0 484.2L215.0 484.2L215.0 479.3L216.0 479.3L216.0 479.3L217.0 479.3L217.0 479.3L218.0 479.3L218.0 484.2L219.0 484.2L219.0 484.2L220.0 484.2L220.0 484.2L221.0 484.2L221.0 494.1L222.0 494.1L222.0 494.1L223.0 494.1L223.0 494.1L224.0 494.1L224.0 494.1L225.0 494.1L225.0 489.2L226.0 489.2L226.0 489.2L227.0 489.2L227.0 489.2L228.0 489.2L228.0 484.2L229.0 484.2L229.0 484.2L230.0 484.2L230.0 484.2L231.0 484.2L231.0 479.3L232.0 479.3L232.0 479.3L233.0 479.3L233.0 479.3L234.0 479.3L234.0 484.2L235.0 484.2L235.0 484.2L236.0 484.2L236.0 484.2L237.0 484.2L237.0 479.3L238.0 479.3L238.0 479.3L239.0 479.3L239.0 479.3L240.0 479.3L240.0 484.2L241.0 484.2L241.0 484.2L242.0 484.2L242.0 484.2L243.0 484.2L243.0 489.2L244.0 489.2L244.0 489.2L245.0 489.2L245.0 489.2L246.0 489.2L246.0 489.2L247.0 489.2L247.0 489.2L248.0 489.2L248.0 489.2L249.0 489.2L249.0 494.1L250.0 494.1L250.0 494.1L251.0 494.1L251.0 494.1L252.0 494.1L252.0 494.1L253.0 494.1L253.0 499.1L254.0 499.1L254.0 499.1L255.0 499.1L255.0 499.1L256.0 499.1L256.0 499.1L257.0 499.1L257.0 499.1L258.0 499.1L258.0 499.1L259.0 499.1L259.0 499.1L260.0 499.1L260.0 499.1L261.0 499.1L261.0 499.1L262.0 499.1L262.0 494.1L263.0 494.1L263.0 494.1L264.0 494.1L264.0 494.1L265.0 494.1L265.0 494.1L266.0 494.1L266.0 494.1L267.0 494.1L267.0 494.1L268.0 494.1L268.0 489.2L269.0 489.2L269.0 489.2L270.0 489.2L270.0 489.2L271.0 489.2L271.0 494.1L272.0 494.1L272.0 494.1L273.0 494.1L273.0 494.1L274.0 494.1L274.0 489.2L275.0 489.2L275.0 489.2L276.0 489.2L276.0 489.2L277.0 489.2L277.0 484.2L278.0 484.2L278.0 484.2L279.0 484.2L279.0 484.2L280.0 484.2L280.0 484.2L281.0 484.2L281.0 484.2L282.0 484.2L282.0 484.2L283.0 484.2L283.0 484.2L284.0 484.2L284.0 489.2L285.0 489.2L285.0 489.2L286.0 489.2L286.0 489.2L287.0 489.2L287.0 494.1L288.0 494.1L288.0 494.1L289.0 494.1L289.0 494.1L290.0 494.1L290.0 479.3L291.0 479.3L291.0 479.3L292.0 479.3L292.0 479.3L293.0 479.3L293.0 479.3L294.0 479.3L294.0 479.3L295.0 479.3L295.0 479.3L296.0 479.3L296.0 479.3L297.0 479.3L297.0 479.3L298.0 479.3L298.0 479.3L299.0 479.3L299.0 484.2L300.0 484.2L300.0 484.2L301.0 484.2L301.0 484.2L302.0 484.2L302.0 479.3L303.0 479.3L303.0 479.3L304.0 479.3L304.0 474.4L305.0 474.4L305.0 474.4L306.0 474.4L306.0 474.4L307.0 474.4L307.0 474.4L308.0 474.4L308.0 474.4L309.0 474.4L309.0 474.4L310.0 474.4L310.0 474.4L311.0 474.4L311.0 474.4L312.0 474.4L312.0 474.4L313.0 474.4L313.0 474.4L314.0 474.4L314.0 474.4L315.0 474.4L315.0 474.4L316.0 474.4L316.0 469.4L317.0 469.4L317.0 469.4L318.0 469.4L318.0 464.4L319.0 464.4L319.0 464.4L320.0 464.4L320.0 464.4L321.0 464.4L321.0 474.4L322.0 474.4L322.0 474.4L323.0 474.4L323.0 474.4L324.0 474.4L324.0 474.4L325.0 474.4L325.0 474.4L326.0 474.4L326.0 474.4L327.0 474.4L327.0 474.4L328.0 474.4L328.0 474.4L329.0 474.4L329.0 469.4L330.0 469.4L330.0 474.4L331.0 474.4L331.0 474.4L332.0 474.4L332.0 479.3L333.0 479.3L333.0 484.2L334.0 484.2L334.0 484.2L335.0 484.2L335.0 484.2L336.0 484.2L336.0 484.2L337.0 484.2L337.0 484.2L338.0 484.2L338.0 484.2L339.0 484.2L339.0 484.2L340.0 484.2L340.0 484.2L341.0 484.2L341.0 489.2L342.0 489.2L342.0 489.2L343.0 489.2L343.0 494.1L344.0 494.1L344.0 499.1L345.0 499.1L345.0 499.1L346.0 499.1L346.0 499.1L347.0 499.1L347.0 499.1L348.0 499.1L348.0 499.1L349.0 499.1L349.0 499.1L350.0 499.1L350.0 499.1L351.0 499.1L351.0 494.1L352.0 494.1L352.0 494.1L353.0 494.1L353.0 494.1L354.0 494.1L354.0 499.1L355.0 499.1L355.0 499.1L356.0 499.1L356.0 499.1L357.0 499.1L357.0 499.1L358.0 499.1L358.0 494.1L359.0 494.1L359.0 494.1L360.0 494.1L360.0 484.2L361.0 484.2L361.0 484.2L362.0 484.2L362.0 484.2L363.0 484.2L363.0 484.2L364.0 484.2L364.0 484.2L365.0 484.2L365.0 489.2L366.0 489.2L366.0 489.2L367.0 489.2L367.0 489.2L368.0 489.2L368.0 489.2L369.0 489.2L369.0 489.2L370.0 489.2L370.0 489.2L371.0 489.2L371.0 489.2L372.0 489.2L372.0 489.2L373.0 489.2L373.0 489.2L374.0 489.2L374.0 484.2L375.0 484.2L375.0 489.2L376.0 489.2L376.0 489.2L377.0 489.2L377.0 494.1L378.0 494.1L378.0 494.1L379.0 494.1L379.0 494.1L380.0 494.1L380.0 489.2L381.0 489.2L381.0 489.2L382.0 489.2L382.0 484.2L383.0 484.2L383.0 484.2L384.0 484.2L384.0 484.2L385.0 484.2L385.0 484.2L386.0 484.2L386.0 484.2L387.0 484.2L387.0 484.2L388.0 484.2L388.0 479.3L389.0 479.3L389.0 474.4L390.0 474.4L390.0 474.4L391.0 474.4L391.0 474.4L392.0 474.4L392.0 474.4L393.0 474.4L393.0 474.4L394.0 474.4L394.0 469.4L395.0 469.4L395.0 469.4L396.0 469.4L396.0 464.4L397.0 464.4L397.0 464.4L398.0 464.4L398.0 464.4L399.0 464.4L399.0 469.4L400.0 469.4L400.0 474.4L401.0 474.4L401.0 474.4L402.0 474.4L402.0 469.4L403.0 469.4L403.0 469.4L404.0 469.4L404.0 469.4L405.0 469.4L405.0 474.4L406.0 474.4L406.0 474.4L407.0 474.4L407.0 474.4L408.0 474.4L408.0 479.3L409.0 479.3L409.0 479.3L410.0 479.3L410.0 484.2L411.0 484.2L411.0 489.2L412.0 489.2L412.0 489.2L413.0 489.2L413.0 494.1L414.0 494.1L414.0 494.1L415.0 494.1L415.0 494.1L416.0 494.1L416.0 494.1L417.0 494.1L417.0 494.1L418.0 494.1L418.0 489.2L419.0 489.2L419.0 489.2L420.0 489.2L420.0 489.2L421.0 489.2L421.0 489.2L422.0 489.2L422.0 489.2L423.0 489.2L423.0 489.2L424.0 489.2L424.0 484.2L425.0 484.2L425.0 484.2L426.0 484.2L426.0 484.2L427.0 484.2L427.0 479.3L428.0 479.3L428.0 479.3L429.0 479.3L429.0 479.3L430.0 479.3L430.0 474.4L431.0 474.4L431.0 474.4L432.0 474.4L432.0 474.4L433.0 474.4L433.0 474.4L434.0 474.4L434.0 474.4L435.0 474.4L435.0 474.4L436.0 474.4L436.0 479.3L437.0 479.3L437.0 479.3L438.0 479.3L438.0 479.3L439.0 479.3L439.0 484.2L440.0 484.2L440.0 484.2L441.0 484.2L441.0 484.2L442.0 484.2L442.0 484.2L443.0 484.2L443.0 484.2L444.0 484.2L444.0 484.2L445.0 484.2L445.0 484.2L446.0 484.2L446.0 484.2L447.0 484.2L447.0 484.2L448.0 484.2L448.0 484.2L449.0 484.2L449.0 484.2L450.0 484.2L450.0 484.2L451.0 484.2L451.0 484.2L452.0 484.2L452.0 484.2L453.0 484.2L453.0 484.2L454.0 484.2L454.0 484.2L455.0 484.2L455.0 484.2L456.0 484.2L456.0 484.2L457.0 484.2L457.0 484.2L458.0 484.2L458.0 489.2L459.0 489.2L459.0 489.2L460.0 489.2L460.0 489.2L461.0 489.2L461.0 489.2L462.0 489.2L462.0 489.2L463.0 489.2L463.0 489.2L464.0 489.2L464.0 489.2L465.0 489.2L465.0 489.2L466.0 489.2L466.0 489.2L467.0 489.2L467.0 494.1L468.0 494.1L468.0 494.1L469.0 494.1L469.0 489.2L470.0 489.2L470.0 489.2L471.0 489.2L471.0 489.2L472.0 489.2L472.0 489.2L473.0 489.2L473.0 489.2L474.0 489.2L474.0 489.2L475.0 489.2L475.0 494.1L476.0 494.1L476.0 494.1L477.0 494.1L477.0 494.1L478.0 494.1L478.0 489.2L479.0 489.2L479.0 489.2L480.0 489.2L480.0 484.2L481.0 484.2L481.0 484.2L482.0 484.2L482.0 484.2L483.0 484.2L483.0 484.2L484.0 484.2L484.0 489.2L485.0 489.2L485.0 489.2L486.0 489.2L486.0 489.2L487.0 489.2L487.0 489.2L488.0 489.2L488.0 489.2L489.0 489.2L489.0 489.2L490.0 489.2L490.0 489.2L491.0 489.2L491.0 484.2L492.0 484.2L492.0 479.3L493.0 479.3L493.0 479.3L494.0 479.3L494.0 479.3L495.0 479.3L495.0 479.3L496.0 479.3L496.0 479.3L497.0 479.3L497.0 479.3L498.0 479.3L498.0 484.2L499.0 484.2L499.0 484.2L500.0 484.2L500.0 484.2L501.0 484.2L501.0 479.3L502.0 479.3L502.0 479.3L503.0 479.3L503.0 479.3L504.0 479.3L504.0 479.3L505.0 479.3L505.0 479.3L506.0 479.3L506.0 479.3L507.0 479.3L507.0 474.4L508.0 474.4L508.0 474.4L509.0 474.4L509.0 479.3L510.0 479.3L510.0 479.3L511.0 479.3L511.0 479.3L512.0 479.3L512.0 474.4L513.0 474.4L513.0 479.3L514.0 479.3L514.0 479.3L515.0 479.3L515.0 479.3L516.0 479.3L516.0 479.3L517.0 479.3L517.0 479.3L518.0 479.3L518.0 479.3L519.0 479.3L519.0 479.3L520.0 479.3L520.0 479.3L521.0 479.3L521.0 479.3L522.0 479.3L522.0 479.3L523.0 479.3L523.0 474.4L524.0 474.4L524.0 479.3L525.0 479.3L525.0 479.3L526.0 479.3L526.0 479.3L527.0 479.3L527.0 479.3L528.0 479.3L528.0 479.3L529.0 479.3L529.0 479.3L530.0 479.3L530.0 484.2L531.0 484.2L531.0 484.2L532.0 484.2L532.0 479.3L533.0 479.3L533.0 479.3L534.0 479.3L534.0 479.3L535.0 479.3L535.0 479.3L536.0 479.3L536.0 479.3L537.0 479.3L537.0 484.2L538.0 484.2L538.0 489.2L539.0 489.2L539.0 489.2L540.0 489.2L540.0 494.1L541.0 494.1L541.0 494.1L542.0 494.1L542.0 494.1L543.0 494.1L543.0 489.2L544.0 489.2L544.0 489.2L545.0 489.2L545.0 489.2L546.0 489.2L546.0 494.1L547.0 494.1L547.0 489.2L548.0 489.2L548.0 489.2L549.0 489.2L549.0 489.2L550.0 489.2L550.0 489.2L551.0 489.2L551.0 484.2L552.0 484.2L552.0 484.2L553.0 484.2L553.0 484.2L554.0 484.2L554.0 484.2L555.0 484.2L555.0 479.3L556.0 479.3L556.0 479.3L557.0 479.3L557.0 479.3L558.0 479.3L558.0 474.4L559.0 474.4L559.0 474.4L560.0 474.4L560.0 474.4L561.0 474.4L561.0 474.4L562.0 474.4L562.0 474.4L563.0 474.4L563.0 474.4L564.0 474.4L564.0 474.4L565.0 474.4L565.0 469.4L566.0 469.4L566.0 474.4L567.0 474.4L567.0 474.4L568.0 474.4L568.0 479.3L569.0 479.3L569.0 484.2L570.0 484.2L570.0 484.2L571.0 484.2L571.0 484.2L572.0 484.2L572.0 484.2L573.0 484.2L573.0 484.2L574.0 484.2L574.0 484.2L575.0 484.2L575.0 484.2L576.0 484.2L576.0 484.2L577.0 484.2L577.0 484.2L578.0 484.2L578.0 484.2L579.0 484.2L579.0 489.2L580.0 489.2L580.0 484.2L581.0 484.2L581.0 484.2L582.0 484.2L582.0 484.2L583.0 484.2L583.0 484.2L584.0 484.2L584.0 484.2L585.0 484.2L585.0 489.2L586.0 489.2L586.0 479.3L587.0 479.3L587.0 479.3L588.0 479.3L588.0 479.3L589.0 479.3L589.0 479.3L590.0 479.3L590.0 479.3L591.0 479.3L591.0 479.3L592.0 479.3L592.0 479.3L593.0 479.3L593.0 474.4L594.0 474.4L594.0 479.3L595.0 479.3L595.0 479.3L596.0 479.3L596.0 479.3L597.0 479.3L597.0 479.3L598.0 479.3L598.0 479.3L599.0 479.3L599.0 479.3L600.0 479.3L600.0 474.4L601.0 474.4L601.0 474.4L602.0 474.4L602.0 479.3L603.0 479.3L603.0 479.3L604.0 479.3L604.0 479.3L605.0 479.3L605.0 479.3L606.0 479.3L606.0 479.3L607.0 479.3L607.0 479.3L608.0 479.3L608.0 479.3L609.0 479.3L609.0 479.3L610.0 479.3L610.0 479.3L611.0 479.3L611.0 479.3L612.0 479.3L612.0 479.3L613.0 479.3L613.0 479.3L614.0 479.3L614.0 479.3L615.0 479.3L615.0 479.3L616.0 479.3L616.0 479.3L617.0 479.3L617.0 479.3L618.0 479.3L618.0 479.3L619.0 479.3L619.0 479.3L620.0 479.3L620.0 479.3L621.0 479.3L621.0 469.4L622.0 469.4L622.0 474.4L623.0 474.4L623.0 474.4L624.0 474.4L624.0 474.4L625.0 474.4L625.0 479.3L626.0 479.3L626.0 479.3L627.0 479.3L627.0 479.3L628.0 479.3L628.0 479.3L629.0 479.3L629.0 479.3L630.0 479.3L630.0 474.4L631.0 474.4L631.0 474.4L632.0 474.4L632.0 474.4L633.0 474.4L633.0 474.4L634.0 474.4L634.0 474.4L635.0 474.4L635.0 474.4L636.0 474.4L636.0 479.3L637.0 479.3L637.0 479.3L638.0 479.3L638.0 484.2L639.0 484.2L639.0 484.2L640.0 484.2L640.0 484.2L641.0 484.2L641.0 479.3L642.0 479.3L642.0 479.3L643.0 479.3L643.0 479.3L644.0 479.3L644.0 479.3L645.0 479.3L645.0 479.3L646.0 479.3L646.0 474.4L647.0 474.4L647.0 474.4L648.0 474.4L648.0 474.4L649.0 474.4L649.0 474.4L650.0 474.4L650.0 474.4L651.0 474.4L651.0 474.4L652.0 474.4L652.0 479.3L653.0 479.3L653.0 469.4L654.0 469.4L654.0 469.4L655.0 469.4L655.0 469.4L656.0 469.4L656.0 474.4L657.0 474.4L657.0 474.4L658.0 474.4L658.0 474.4L659.0 474.4L659.0 474.4L660.0 474.4L660.0 474.4L661.0 474.4L661.0 479.3L662.0 479.3L662.0 479.3L663.0 479.3L663.0 484.2L664.0 484.2L664.0 484.2L665.0 484.2L665.0 484.2L666.0 484.2L666.0 484.2L667.0 484.2L667.0 484.2L668.0 484.2L668.0 484.2L669.0 484.2L669.0 489.2L670.0 489.2L670.0 484.2L671.0 484.2L671.0 484.2L672.0 484.2L672.0 484.2L673.0 484.2L673.0 484.2L674.0 484.2L674.0 484.2L675.0 484.2L675.0 479.3L676.0 479.3L676.0 479.3L677.0 479.3L677.0 479.3L678.0 479.3L678.0 479.3L679.0 479.3L679.0 479.3L680.0 479.3L680.0 479.3L681.0 479.3L681.0 479.3L682.0 479.3L682.0 479.3L683.0 479.3L683.0 479.3L684.0 479.3L684.0 479.3L685.0 479.3L685.0 479.3L686.0 479.3L686.0 479.3L687.0 479.3L687.0 479.3L688.0 479.3L688.0 479.3L689.0 479.3L689.0 484.2L690.0 484.2L690.0 484.2L691.0 484.2L691.0 489.2L692.0 489.2L692.0 494.1L693.0 494.1L693.0 494.1L694.0 494.1L694.0 499.1L695.0 499.1L695.0 499.1L696.0 499.1L696.0 499.1L697.0 499.1L697.0 499.1L698.0 499.1L698.0 499.1L699.0 499.1L699.0 499.1L700.0 499.1L700.0 504.1L701.0 504.1L701.0 499.1L702.0 499.1L702.0 494.1L703.0 494.1L703.0 494.1L704.0 494.1L704.0 494.1L705.0 494.1L705.0 489.2L706.0 489.2L706.0 489.2L707.0 489.2L707.0 489.2L708.0 489.2L708.0 489.2L709.0 489.2L709.0 489.2L710.0 489.2L710.0 489.2L711.0 489.2L711.0 489.2L712.0 489.2L712.0 484.2L713.0 484.2L713.0 479.3L714.0 479.3L714.0 479.3L715.0 479.3L715.0 479.3L716.0 479.3L716.0 474.4L717.0 474.4L717.0 474.4L718.0 474.4L718.0 474.4L719.0 474.4L719.0 474.4L720.0 474.4L720.0 474.4L721.0 474.4L721.0 474.4L722.0 474.4L722.0 474.4L723.0 474.4L723.0 474.4L724.0 474.4L724.0 479.3L725.0 479.3L725.0 479.3L726.0 479.3L726.0 474.4L727.0 474.4L727.0 474.4L728.0 474.4L728.0 474.4L729.0 474.4L729.0 469.4L730.0 469.4L730.0 469.4L731.0 469.4L731.0 469.4L732.0 469.4L732.0 474.4L733.0 474.4L733.0 474.4L734.0 474.4L734.0 474.4L735.0 474.4L735.0 469.4L736.0 469.4L736.0 469.4L737.0 469.4L737.0 469.4L738.0 469.4L738.0 474.4L739.0 474.4L739.0 474.4L740.0 474.4L740.0 474.4L741.0 474.4L741.0 469.4L742.0 469.4L742.0 469.4L743.0 469.4L743.0 469.4L744.0 469.4L744.0 469.4L745.0 469.4L745.0 469.4L746.0 469.4L746.0 474.4L747.0 474.4L747.0 479.3L748.0 479.3L748.0 479.3L749.0 479.3L749.0 479.3L750.0 479.3L750.0 479.3L751.0 479.3L751.0 479.3L752.0 479.3L752.0 479.3L753.0 479.3L753.0 479.3L754.0 479.3L754.0 484.2L755.0 484.2L755.0 484.2L756.0 484.2L756.0 484.2L757.0 484.2L757.0 484.2L758.0 484.2L758.0 489.2L759.0 489.2L759.0 489.2L760.0 489.2L760.0 489.2L761.0 489.2L761.0 489.2L762.0 489.2L762.0 489.2L763.0 489.2L763.0 494.1L764.0 494.1L764.0 494.1L765.0 494.1L765.0 489.2L766.0 489.2L766.0 489.2L767.0 489.2L767.0 489.2L768.0 489.2L768.0 484.2L769.0 484.2L769.0 484.2L770.0 484.2L770.0 484.2L771.0 484.2L771.0 484.2L772.0 484.2L772.0 479.3L773.0 479.3L773.0 479.3L774.0 479.3L774.0 479.3L775.0 479.3L775.0 479.3L776.0 479.3L776.0 479.3L777.0 479.3L777.0 479.3L778.0 479.3L778.0 479.3L779.0 479.3L779.0 479.3L780.0 479.3L780.0 474.4L781.0 474.4L781.0 474.4L782.0 474.4L782.0 474.4L783.0 474.4L783.0 474.4L784.0 474.4L784.0 474.4L785.0 474.4L785.0 479.3L786.0 479.3L786.0 479.3L787.0 479.3L787.0 479.3L788.0 479.3L788.0 484.2L789.0 484.2L789.0 484.2L790.0 484.2L790.0 484.2L791.0 484.2L791.0 489.2L792.0 489.2L792.0 489.2L793.0 489.2L793.0 489.2L794.0 489.2L794.0 489.2L795.0 489.2L795.0 489.2L796.0 489.2L796.0 489.2L797.0 489.2L797.0 489.2L798.0 489.2L798.0 489.2L799.0 489.2L799.0 489.2L800.0 489.2L800.0 489.2L801.0 489.2L801.0 489.2L802.0 489.2L802.0 489.2L803.0 489.2L803.0 489.2L804.0 489.2L804.0 484.2L805.0 484.2L805.0 479.3L806.0 479.3L806.0 479.3L807.0 479.3L807.0 479.3L808.0 479.3L808.0 479.3L809.0 479.3L809.0 479.3L810.0 479.3L810.0 479.3L811.0 479.3L811.0 479.3L812.0 479.3L812.0 479.3L813.0 479.3L813.0 479.3L814.0 479.3L814.0 484.2L815.0 484.2L815.0 484.2L816.0 484.2L816.0 489.2L817.0 489.2L817.0 489.2L818.0 489.2L818.0 489.2L819.0 489.2L819.0 494.1L820.0 494.1L820.0 494.1L821.0 494.1L821.0 494.1L822.0 494.1L822.0 499.1L823.0 499.1L823.0 499.1L824.0 499.1L824.0 499.1L825.0 499.1L825.0 499.1L826.0 499.1L826.0 499.1L827.0 499.1L827.0 499.1L828.0 499.1L828.0 499.1L829.0 499.1L829.0 499.1L830.0 499.1L830.0 494.1L831.0 494.1L831.0 494.1L832.0 494.1L832.0 489.2L833.0 489.2L833.0 489.2L834.0 489.2L834.0 489.2L835.0 489.2L835.0 484.2L836.0 484.2L836.0 484.2L837.0 484.2L837.0 484.2L838.0 484.2L838.0 484.2L839.0 484.2L839.0 484.2L840.0 484.2L840.0 484.2L841.0 484.2L841.0 484.2L842.0 484.2L842.0 484.2L843.0 484.2L843.0 484.2L844.0 484.2L844.0 484.2L845.0 484.2L845.0 484.2L846.0 484.2L846.0 484.2L847.0 484.2L847.0 489.2L848.0 489.2L848.0 489.2L849.0 489.2L849.0 489.2L850.0 489.2L850.0 489.2L851.0 489.2L851.0 489.2L852.0 489.2L852.0 484.2L853.0 484.2L853.0 489.2L854.0 489.2L854.0 489.2L855.0 489.2L855.0 489.2L856.0 489.2L856.0 484.2L857.0 484.2L857.0 484.2L858.0 484.2L858.0 484.2L859.0 484.2L859.0 484.2L860.0 484.2L860.0 479.3L861.0 479.3L861.0 479.3L862.0 479.3L862.0 474.4L863.0 474.4L863.0 479.3L864.0 479.3L864.0 479.3L865.0 479.3L865.0 479.3L866.0 479.3L866.0 479.3L867.0 479.3L867.0 484.2L868.0 484.2L868.0 484.2L869.0 484.2L869.0 489.2L870.0 489.2L870.0 489.2L871.0 489.2L871.0 489.2L872.0 489.2L872.0 484.2L873.0 484.2L873.0 484.2L874.0 484.2L874.0 484.2L875.0 484.2L875.0 484.2L876.0 484.2L876.0 484.2L877.0 484.2L877.0 494.1L878.0 494.1L878.0 494.1L879.0 494.1L879.0 494.1L880.0 494.1L880.0 494.1L881.0 494.1L881.0 494.1L882.0 494.1L882.0 494.1L883.0 494.1L883.0 494.1L884.0 494.1L884.0 494.1L885.0 494.1L885.0 489.2L886.0 489.2L886.0 489.2L887.0 489.2L887.0 489.2L888.0 489.2L888.0 489.2L889.0 489.2L889.0 489.2L890.0 489.2L890.0 484.2L891.0 484.2L891.0 484.2L892.0 484.2L892.0 484.2L893.0 484.2L893.0 489.2L894.0 489.2L894.0 489.2L895.0 489.2L895.0 489.2L896.0 489.2L896.0 484.2L897.0 484.2L897.0 484.2L898.0 484.2L898.0 484.2L899.0 484.2L899.0 484.2L900.0 484.2L900.0 484.2L901.0 484.2L901.0 484.2L902.0 484.2L902.0 484.2L903.0 484.2L903.0 479.3L904.0 479.3L904.0 479.3L905.0 479.3L905.0 479.3L906.0 479.3L906.0 479.3L907.0 479.3L907.0 484.2L908.0 484.2L908.0 484.2L909.0 484.2L909.0 484.2L910.0 484.2L910.0 484.2L911.0 484.2L911.0 484.2L912.0 484.2L912.0 479.3L913.0 479.3L913.0 479.3L914.0 479.3L914.0 479.3L915.0 479.3L915.0 484.2L916.0 484.2L916.0 484.2L917.0 484.2L917.0 484.2L918.0 484.2L918.0 484.2L919.0 484.2L919.0 484.2L920.0 484.2L920.0 484.2L921.0 484.2L921.0 489.2L922.0 489.2L922.0 489.2L923.0 489.2L923.0 489.2L924.0 489.2L924.0 484.2L925.0 484.2L925.0 484.2L926.0 484.2L926.0 489.2L927.0 489.2L927.0 489.2L928.0 489.2L928.0 489.2L929.0 489.2L929.0 489.2L930.0 489.2L930.0 489.2L931.0 489.2L931.0 489.2L932.0 489.2L932.0 489.2L933.0 489.2L933.0 489.2L934.0 489.2L934.0 494.1L935.0 494.1L935.0 489.2L936.0 489.2L936.0 489.2L937.0 489.2L937.0 489.2L938.0 489.2L938.0 489.2L939.0 489.2L939.0 489.2L940.0 489.2L940.0 489.2L941.0 489.2L941.0 484.2L942.0 484.2L942.0 484.2L943.0 484.2L943.0 484.2L944.0 484.2L944.0 484.2L945.0 484.2L945.0 479.3L946.0 479.3L946.0 474.4L947.0 474.4L947.0 474.4L948.0 474.4L948.0 474.4L949.0 474.4L949.0 474.4L950.0 474.4L950.0 474.4L951.0 474.4L951.0 474.4L952.0 474.4L952.0 474.4L953.0 474.4L953.0 474.4L954.0 474.4L954.0 479.3L955.0 479.3L955.0 484.2L956.0 484.2L956.0 484.2L957.0 484.2L957.0 484.2L958.0 484.2L958.0 484.2L959.0 484.2L959.0 484.2L960.0 484.2L960.0 484.2L961.0 484.2L961.0 484.2L962.0 484.2L962.0 489.2L963.0 489.2L963.0 489.2L964.0 489.2L964.0 489.2L965.0 489.2L965.0 489.2L966.0 489.2L966.0 484.2L967.0 484.2L967.0 484.2L968.0 484.2L968.0 484.2L969.0 484.2L969.0 484.2L970.0 484.2L970.0 484.2L971.0 484.2L971.0 484.2L972.0 484.2L972.0 484.2L973.0 484.2L973.0 484.2L974.0 484.2L974.0 484.2L975.0 484.2L975.0 484.2L976.0 484.2L976.0 484.2L977.0 484.2L977.0 489.2L978.0 489.2L978.0 489.2L979.0 489.2L979.0 494.1L980.0 494.1L980.0 494.1L981.0 494.1L981.0 494.1L982.0 494.1L982.0 499.1L983.0 499.1L983.0 499.1L984.0 499.1L984.0 499.1L985.0 499.1L985.0 499.1L986.0 499.1L986.0 499.1L987.0 499.1L987.0 504.1L988.0 504.1L988.0 504.1L989.0 504.1L989.0 504.1L990.0 504.1L990.0 504.1L991.0 504.1L991.0 499.1L992.0 499.1L992.0 499.1L993.0 499.1L993.0 499.1L994.0 499.1L994.0 494.1L995.0 494.1L995.0 494.1L996.0 494.1L996.0 489.2L997.0 489.2L997.0 489.2L998.0 489.2L998.0 489.2L999.0 489.2L999.0 489.2L1000.0 489.2L1000.0 489.2L1001.0 489.2L1001.0 484.2L1002.0 484.2L1002.0 489.2L1003.0 489.2L1003.0 489.2L1004.0 489.2L1004.0 489.2L1005.0 489.2L1005.0 489.2L1006.0 489.2L1006.0 489.2L1007.0 489.2L1007.0 484.2L1008.0 484.2L1008.0 484.2L1009.0 484.2L1009.0 484.2L1010.0 484.2L1010.0 484.2L1011.0 484.2L1011.0 484.2L1012.0 484.2L1012.0 484.2L1013.0 484.2L1013.0 489.2L1014.0 489.2L1014.0 489.2L1015.0 489.2L1015.0 484.2L1016.0 484.2L1016.0 494.1L1017.0 494.1L1017.0 494.1L1018.0 494.1L1018.0 494.1L1019.0 494.1L1019.0 494.1L1020.0 494.1L1020.0 494.1L1021.0 494.1L1021.0 494.1L1022.0 494.1L1022.0 494.1L1023.0 494.1L1023.0 494.1L1024.0 494.1L1024.0 494.1L1025.0 494.1L1025.0 494.1L1026.0 494.1L1026.0 499.1L1027.0 499.1L1027.0 499.1L1028.0 499.1L1028.0 499.1L1029.0 499.1L1029.0 499.1L1030.0 499.1L1030.0 499.1L1031.0 499.1L1031.0 499.1L1032.0 499.1L1032.0 494.1L1033.0 494.1L1033.0 494.1L1034.0 494.1L1034.0 494.1L1035.0 494.1L1035.0 494.1L1036.0 494.1L1036.0 489.2L1037.0 489.2L1037.0 489.2L1038.0 489.2L1038.0 489.2L1039.0 489.2L1039.0 489.2L1040.0 489.2L1040.0 489.2L1041.0 489.2L1041.0 489.2L1042.0 489.2L1042.0 489.2L1043.0 489.2L1043.0 484.2L1044.0 484.2L1044.0 484.2L1045.0 484.2L1045.0 484.2L1046.0 484.2L1046.0 479.3L1047.0 479.3L1047.0 479.3L1048.0 479.3L1048.0 479.3L1049.0 479.3L1049.0 479.3L1050.0 479.3L1050.0 484.2L1051.0 484.2L1051.0 484.2L1052.0 484.2L1052.0 484.2L1053.0 484.2L1053.0 484.2L1054.0 484.2L1054.0 489.2L1055.0 489.2L1055.0 484.2L1056.0 484.2L1056.0 484.2L1057.0 484.2L1057.0 479.3L1058.0 479.3L1058.0 479.3L1059.0 479.3L1059.0 479.3L1060.0 479.3L1060.0 479.3L1061.0 479.3L1061.0 479.3L1062.0 479.3L1062.0 479.3L1063.0 479.3L1063.0 479.3L1064.0 479.3L1064.0 509.0Z" fill="#000096"/>
<path d="M103 509.0L103.0 538.7L104.0 538.7L104.0 538.7L105.0 538.7L105.0 538.7L106.0 538.7L106.0 538.7L107.0 538.7L107.0 538.7L108.0 538.7L108.0 538.7L109.0 538.7L109.0 538.7L110.0 538.7L110.0 538.7L111.0 538.7L111.0 543.6L112.0 543.6L112.0 543.6L113.0 543.6L113.0 543.6L114.0 543.6L114.0 538.7L115.0 538.7L115.0 538.7L116.0 538.7L116.0 538.7L117.0 538.7L117.0 538.7L118.0 538.7L118.0 538.7L119.0 538.7L119.0 538.7L120.0 538.7L120.0 533.8L121.0 533.8L121.0 533.8L122.0 533.8L122.0 533.8L123.0 533.8L123.0 528.8L124.0 528.8L124.0 528.8L125.0 528.8L125.0 528.8L126.0 528.8L126.0 528.8L127.0 528.8L127.0 528.8L128.0 528.8L128.0 528.8L129.0 528.8L129.0 528.8L130.0 528.8L130.0 518.9L131.0 518.9L131.0 518.9L132.0 518.9L132.0 518.9L133.0 518.9L133.0 514.0L134.0 514.0L134.0 514.0L135.0 514.0L135.0 514.0L136.0 514.0L136.0 514.0L137.0 514.0L137.0 518.9L138.0 518.9L138.0 518.9L139.0 518.9L139.0 523.9L140.0 523.9L140.0 523.9L141.0 523.9L141.0 523.9L142.0 523.9L142.0 528.8L143.0 528.8L143.0 528.8L144.0 528.8L144.0 528.8L145.0 528.8L145.0 523.9L146.0 523.9L146.0 523.9L147.0 523.9L147.0 523.9L148.0 523.9L148.0 528.8L149.0 528.8L149.0 528.8L150.0 528.8L150.0 528.8L151.0 528.8L151.0 533.8L152.0 533.8L152.0 533.8L153.0 533.8L153.0 533.8L154.0 533.8L154.0 538.7L155.0 538.7L155.0 538.7L156.0 538.7L156.0 538.7L157.0 538.7L157.0 538.7L158.0 538.7L158.0 538.7L159.0 538.7L159.0 538.7L160.0 538.7L160.0 538.7L161.0 538.7L161.0 543.6L162.0 543.6L162.0 543.6L163.0 543.6L163.0 543.6L164.0 543.6L164.0 543.6L165.0 543.6L165.0 543.6L166.0 543.6L166.0 543.6L167.0 543.6L167.0 533.8L168.0 533.8L168.0 533.8L169.0 533.8L169.0 533.8L170.0 533.8L170.0 533.8L171.0 533.8L171.0 533.8L172.0 533.8L172.0 533.8L173.0 533.8L173.0 523.9L174.0 523.9L174.0 523.9L175.0 523.9L175.0 523.9L176.0 523.9L176.0 523.9L177.0 523.9L177.0 523.9L178.0 523.9L178.0 523.9L179.0 523.9L179.0 518.9L180.0 518.9L180.0 518.9L181.0 518.9L181.0 523.9L182.0 523.9L182.0 523.9L183.0 523.9L183.0 523.9L184.0 523.9L184.0 528.8L185.0 528.8L185.0 528.8L186.0 528.8L186.0 528.8L187.0 528.8L187.0 533.8L188.0 533.8L188.0 533.8L189.0 533.8L189.0 533.8L190.0 533.8L190.0 538.7L191.0 538.7L191.0 538.7L192.0 538.7L192.0 538.7L193.0 538.7L193.0 538.7L194.0 538.7L194.0 538.7L195.0 538.7L195.0 538.7L196.0 538.7L196.0 548.6L197.0 548.6L197.0 548.6L198.0 548.6L198.0 548.6L199.0 548.6L199.0 548.6L200.0 548.6L200.0 543.6L201.0 543.6L201.0 543.6L202.0 543.6L202.0 543.6L203.0 543.6L203.0 538.7L204.0 538.7L204.0 538.7L205.0 538.7L205.0 538.7L206.0 538.7L206.0 533.8L207.0 533.8L207.0 533.8L208.0 533.8L208.0 533.8L209.0 533.8L209.0 528.8L210.0 528.8L210.0 528.8L211.0 528.8L211.0 528.8L212.0 528.8L212.0 533.8L213.0 533.8L213.0 533.8L214.0 533.8L214.0 533.8L215.0 533.8L215.0 528.8L216.0 528.8L216.0 528.8L217.0 528.8L217.0 528.8L218.0 528.8L218.0 533.8L219.0 533.8L219.0 533.8L220.0 533.8L220.0 533.8L221.0 533.8L221.0 543.6L222.0 543.6L222.0 543.6L223.0 543.6L223.0 543.6L224.0 543.6L224.0 543.6L225.0 543.6L225.0 538.7L226.0 538.7L226.0 538.7L227.0 538.7L227.0 538.7L228.0 538.7L228.0 533.8L229.0 533.8L229.0 533.8L230.0 533.8L230.0 533.8L231.0 533.8L231.0 528.8L232.0 528.8L232.0 528.8L233.0 528.8L233.0 528.8L234.0 528.8L234.0 533.8L235.0 533.8L235.0 533.8L236.0 533.8L236.0 533.8L237.0 533.8L237.0 528.8L238.0 528.8L238.0 528.8L239.0 528.8L239.0 528.8L240.0 528.8L240.0 533.8L241.0 533.8L241.0 533.8L242.0 533.8L242.0 533.8L243.0 533.8L243.0 538.7L244.0 538.7L244.0 538.7L245.0 538.7L245.0 538.7L246.0 538.7L246.0 538.7L247.0 538.7L247.0 538.7L248.0 538.7L248.0 538.7L249.0 538.7L249.0 543.6L250.0 543.6L250.0 543.6L251.0 543.6L251.0 543.6L252.0 543.6L252.0 543.6L253.0 543.6L253.0 548.6L254.0 548.6L254.0 548.6L255.0 548.6L255.0 548.6L256.0 548.6L256.0 548.6L257.0 548.6L257.0 548.6L258.0 548.6L258.0 548.6L259.0 548.6L259.0 548.6L260.0 548.6L260.0 548.6L261.0 548.6L261.0 548.6L262.0 548.6L262.0 543.6L263.0 543.6L263.0 543.6L264.0 543.6L264.0 543.6L265.0 543.6L265.0 543.6L266.0 543.6L266.0 543.6L267.0 543.6L267.0 543.6L268.0 543.6L268.0 538.7L269.0 538.7L269.0 538.7L270.0 538.7L270.0 538.7L271.0 538.7L271.0 543.6L272.0 543.6L272.0 543.6L273.0 543.6L273.0 543.6L274.0 543.6L274.0 538.7L275.0 538.7L275.0 538.7L276.0 538.7L276.0 538.7L277.0 538.7L277.0 533.8L278.0 533.8L278.0 533.8L279.0 533.8L279.0 533.8L280.0 533.8L280.0 533.8L281.0 533.8L281.0 533.8L282.0 533.8L282.0 533.8L283.0 533.8L283.0 533.8L284.0 533.8L284.0 538.7L285.0 538.7L285.0 538.7L286.0 538.7L286.0 538.7L287.0 538.7L287.0 543.6L288.0 543.6L288.0 543.6L289.0 543.6L289.0 543.6L290.0 543.6L290.0 528.8L291.0 528.8L291.0 528.8L292.0 528.8L292.0 528.8L293.0 528.8L293.0 528.8L294.0 528.8L294.0 528.8L295.0 528.8L295.0 528.8L296.0 528.8L296.0 528.8L297.0 528.8L297.0 528.8L298.0 528.8L298.0 528.8L299.0 528.8L299.0 533.8L300.0 533.8L300.0 533.8L301.0 533.8L301.0 533.8L302.0 533.8L302.0 528.8L303.0 528.8L303.0 528.8L304.0 528.8L304.0 523.9L305.0 523.9L305.0 523.9L306.0 523.9L306.0 523.9L307.0 523.9L307.0 523.9L308.0 523.9L308.0 523.9L309.0 523.9L309.0 523.9L310.0 523.9L310.0 523.9L311.0 523.9L311.0 523.9L312.0 523.9L312.0 523.9L313.0 523.9L313.0 523.9L314.0 523.9L314.0 523.9L315.0 523.9L315.0 523.9L316.0 523.9L316.0 518.9L317.0 518.9L317.0 518.9L318.0 518.9L318.0 514.0L319.0 514.0L319.0 514.0L320.0 514.0L320.0 514.0L321.0 514.0L321.0 523.9L322.0 523.9L322.0 523.9L323.0 523.9L323.0 523.9L324.0 523.9L324.0 523.9L325.0 523.9L325.0 523.9L326.0 523.9L326.0 523.9L327.0 523.9L327.0 523.9L328.0 523.9L328.0 523.9L329.0 523.9L329.0 518.9L330.0 518.9L330.0 523.9L331.0 523.9L331.0 523.9L332.0 523.9L332.0 528.8L333.0 528.8L333.0 533.8L334.0 533.8L334.0 533.8L335.0 533.8L335.0 533.8L336.0 533.8L336.0 533.8L337.0 533.8L337.0 533.8L338.0 533.8L338.0 533.8L339.0 533.8L339.0 533.8L340.0 533.8L340.0 533.8L341.0 533.8L341.0 538.7L342.0 538.7L342.0 538.7L343.0 538.7L343.0 543.6L344.0 543.6L344.0 548.6L345.0 548.6L345.0 548.6L346.0 548.6L346.0 548.6L347.0 548.6L347.0 548.6L348.0 548.6L348.0 548.6L349.0 548.6L349.0 548.6L350.0 548.6L350.0 548.6L351.0 548.6L351.0 543.6L352.0 543.6L352.0 543.6L353.0 543.6L353.0 543.6L354.0 543.6L354.0 548.6L355.0 548.6L355.0 548.6L356.0 548.6L356.0 548.6L357.0 548.6L357.0 548.6L358.0 548.6L358.0 543.6L359.0 543.6L359.0 543.6L360.0 543.6L360.0 533.8L361.0 533.8L361.0 533.8L362.0 533.8L362.0 533.8L363.0 533.8L363.0 533.8L364.0 533.8L364.0 533.8L365.0 533.8L365.0 538.7L366.0 538.7L366.0 538.7L367.0 538.7L367.0 538.7L368.0 538.7L368.0 538.7L369.0 538.7L369.0 538.7L370.0 538.7L370.0 538.7L371.0 538.7L371.0 538.7L372.0 538.7L372.0 538.7L373.0 538.7L373.0 538.7L374.0 538.7L374.0 533.8L375.0 533.8L375.0 538.7L376.0 538.7L376.0 538.7L377.0 538.7L377.0 543.6L378.0 543.6L378.0 543.6L379.0 543.6L379.0 543.6L380.0 543.6L380.0 538.7L381.0 538.7L381.0 538.7L382.0 538.7L382.0 533.8L383.0 533.8L383.0 533.8L384.0 533.8L384.0 533.8L385.0 533.8L385.0 533.8L386.0 533.8L386.0 533.8L387.0 533.8L387.0 533.8L388.0 533.8L388.0 528.8L389.0 528.8L389.0 523.9L390.0 523.9L390.0 523.9L391.0 523.9L391.0 523.9L392.0 523.9L392.0 523.9L393.0 523.9L393.0 523.9L394.0 523.9L394.0 518.9L395.0 518.9L395.0 518.9L396.0 518.9L396.0 514.0L397.0 514.0L397.0 514.0L398.0 514.0L398.0 514.0L399.0 514.0L399.0 518.9L400.0 518.9L400.0 523.9L401.0 523.9L401.0 523.9L402.0 523.9L402.0 518.9L403.0 518.9L403.0 518.9L404.0 518.9L404.0 518.9L405.0 518.9L405.0 523.9L406.0 523.9L406.0 523.9L407.0 523.9L407.0 523.9L408.0 523.9L408.0 528.8L409.0 528.8L409.0 528.8L410.0 528.8L410.0 533.8L411.0 533.8L411.0 538.7L412.0 538.7L412.0 538.7L413.0 538.7L413.0 543.6L414.0 543.6L414.0 543.6L415.0 543.6L415.0 543.6L416.0 543.6L416.0 543.6L417.0 543.6L417.0 543.6L418.0 543.6L418.0 538.7L419.0 538.7L419.0 538.7L420.0 538.7L420.0 538.7L421.0 538.7L421.0 538.7L422.0 538.7L422.0 538.7L423.0 538.7L423.0 538.7L424.0 538.7L424.0 533.8L425.0 533.8L425.0 533.8L426.0 533.8L426.0 533.8L427.0 533.8L427.0 528.8L428.0 528.8L428.0 528.8L429.0 528.8L429.0 528.8L430.0 528.8L430.0 523.9L431.0 523.9L431.0 523.9L432.0 523.9L432.0 523.9L433.0 523.9L433.0 523.9L434.0 523.9L434.0 523.9L435.0 523.9L435.0 523.9L436.0 523.9L436.0 528.8L437.0 528.8L437.0 528.8L438.0 528.8L438.0 528.8L439.0 528.8L439.0 533.8L440.0 533.8L440.0 533.8L441.0 533.8L441.0 533.8L442.0 533.8L442.0 533.8L443.0 533.8L443.0 533.8L444.0 533.8L444.0 533.8L445.0 533.8L445.0 533.8L446.0 533.8L446.0 533.8L447.0 533.8L447.0 533.8L448.0 533.8L448.0 533.8L449.0 533.8L449.0 533.8L450.0 533.8L450.0 533.8L451.0 533.8L451.0 533.8L452.0 533.8L452.0 533.8L453.0 533.8L453.0 533.8L454.0 533.8L454.0 533.8L455.0 533.8L455.0 533.8L456.0 533.8L456.0 533.8L457.0 533.8L457.0 533.8L458.0 533.8L458.0 538.7L459.0 538.7L459.0 538.7L460.0 538.7L460.0 538.7L461.0 538.7L461.0 538.7L462.0 538.7L462.0 538.7L463.0 538.7L463.0 538.7L464.0 538.7L464.0 538.7L465.0 538.7L465.0 538.7L466.0 538.7L466.0 538.7L467.0 538.7L467.0 543.6L468.0 543.6L468.0 543.6L469.0 543.6L469.0 538.7L470.0 538.7L470.0 538.7L471.0 538.7L471.0 538.7L472.0 538.7L472.0 538.7L473.0 538.7L473.0 538.7L474.0 538.7L474.0 538.7L475.0 538.7L475.0 543.6L476.0 543.6L476.0 543.6L477.0 543.6L477.0 543.6L478.0 543.6L478.0 538.7L479.0 538.7L479.0 538.7L480.0 538.7L480.0 533.8L481.0 533.8L481.0 533.8L482.0 533.8L482.0 533.8L483.0 533.8L483.0 533.8L484.0 533.8L484.0 538.7L485.0 538.7L485.0 538.7L486.0 538.7L486.0 538.7L487.0 538.7L487.0 538.7L488.0 538.7L488.0 538.7L489.0 538.7L489.0 538.7L490.0 538.7L490.0 538.7L491.0 538.7L491.0 533.8L492.0 533.8L492.0 528.8L493.0 528.8L493.0 528.8L494.0 528.8L494.0 528.8L495.0 528.8L495.0 528.8L496.0 528.8L496.0 528.8L497.0 528.8L497.0 528.8L498.0 528.8L498.0 533.8L499.0 533.8L499.0 533.8L500.0 533.8L500.0 533.8L501.0 533.8L501.0 528.8L502.0 528.8L502.0 528.8L503.0 528.8L503.0 528.8L504.0 528.8L504.0 528.8L505.0 528.8L505.0 528.8L506.0 528.8L506.0 528.8L507.0 528.8L507.0 523.9L508.0 523.9L508.0 523.9L509.0 523.9L509.0 528.8L510.0 528.8L510.0 528.8L511.0 528.8L511.0 528.8L512.0 528.8L512.0 523.9L513.0 523.9L513.0 528.8L514.0 528.8L514.0 528.8L515.0 528.8L515.0 528.8L516.0 528.8L516.0 528.8L517.0 528.8L517.0 528.8L518.0 528.8L518.0 528.8L519.0 528.8L519.0 528.8L520.0 528.8L520.0 528.8L521.0 528.8L521.0 528.8L522.0 528.8L522.0 528.8L523.0 528.8L523.0 523.9L524.0 523.9L524.0 528.8L525.0 528.8L525.0 528.8L526.0 528.8L526.0 528.8L527.0 528.8L527.0 528.8L528.0 528.8L528.0 528.8L529.0 528.8L529.0 528.8L530.0 528.8L530.0 533.8L531.0 533.8L531.0 533.8L532.0 533.8L532.0 528.8L533.0 528.8L533.0 528.8L534.0 528.8L534.0 528.8L535.0 528.8L535.0 528.8L536.0 528.8L536.0 528.8L537.0 528.8L537.0 533.8L538.0 533.8L538.0 538.7L539.0 538.7L539.0 538.7L540.0 538.7L540.0 543.6L541.0 543.6L541.0 543.6L542.0 543.6L542.0 543.6L543.0 543.6L543.0 538.7L544.0 538.7L544.0 538.7L545.0 538.7L545.0 538.7L546.0 538.7L546.0 543.6L547.0 543.6L547.0 538.7L548.0 538.7L548.0 538.7L549.0 538.7L549.0 538.7L550.0 538.7L550.0 538.7L551.0 538.7L551.0 533.8L552.0 533.8L552.0 533.8L553.0 533.8L553.0 533.8L554.0 533.8L554.0 533.8L555.0 533.8L555.0 528.8L556.0 528.8L556.0 528.8L557.0 528.8L557.0 528.8L558.0 528.8L558.0 523.9L559.0 523.9L559.0 523.9L560.0 523.9L560.0 523.9L561.0 523.9L561.0 523.9L562.0 523.9L562.0 523.9L563.0 523.9L563.0 523.9L564.0 523.9L564.0 523.9L565.0 523.9L565.0 518.9L566.0 518.9L566.0 523.9L567.0 523.9L567.0 523.9L568.0 523.9L568.0 528.8L569.0 528.8L569.0 533.8L570.0 533.8L570.0 533.8L571.0 533.8L571.0 533.8L572.0 533.8L572.0 533.8L573.0 533.8L573.0 533.8L574.0 533.8L574.0 533.8L575.0 533.8L575.0 533.8L576.0 533.8L576.0 533.8L577.0 533.8L577.0 533.8L578.0 533.8L578.0 533.8L579.0 533.8L579.0 538.7L580.0 538.7L580.0 533.8L581.0 533.8L581.0 533.8L582.0 533.8L582.0 533.8L583.0 533.8L583.0 533.8L584.0 533.8L584.0 533.8L585.0 533.8L585.0 538.7L586.0 538.7L586.0 528.8L587.0 528.8L587.0 528.8L588.0 528.8L588.0 528.8L589.0 528.8L589.0 528.8L590.0 528.8L590.0 528.8L591.0 528.8L591.0 528.8L592.0 528.8L592.0 528.8L593.0 528.8L593.0 523.9L594.0 523.9L594.0 528.8L595.0 528.8L595.0 528.8L596.0 528.8L596.0 528.8L597.0 528.8L597.0 528.8L598.0 528.8L598.0 528.8L599.0 528.8L599.0 528.8L600.0 528.8L600.0 523.9L601.0 523.9L601.0 523.9L602.0 523.9L602.0 528.8L603.0 528.8L603.0 528.8L604.0 528.8L604.0 528.8L605.0 528.8L605.0 528.8L606.0 528.8L606.0 528.8L607.0 528.8L607.0 528.8L608.0 528.8L608.0 528.8L609.0 528.8L609.0 528.8L610.0 528.8L610.0 528.8L611.0 528.8L611.0 528.8L612.0 528.8L612.0 528.8L613.0 528.8L613.0 528.8L614.0 528.8L614.0 528.8L615.0 528.8L615.0 528.8L616.0 528.8L616.0 528.8L617.0 528.8L617.0 528.8L618.0 528.8L618.0 528.8L619.0 528.8L619.0 528.8L620.0 528.8L620.0 528.8L621.0 528.8L621.0 518.9L622.0 518.9L622.0 523.9L623.0 523.9L623.0 523.9L624.0 523.9L624.0 523.9L625.0 523.9L625.0 528.8L626.0 528.8L626.0 528.8L627.0 528.8L627.0 528.8L628.0 528.8L628.0 528.8L629.0 528.8L629.0 528.8L630.0 528.8L630.0 523.9L631.0 523.9L631.0 523.9L632.0 523.9L632.0 523.9L633.0 523.9L633.0 523.9L634.0 523.9L634.0 523.9L635.0 523.9L635.0 523.9L636.0 523.9L636.0 528.8L637.0 528.8L637.0 528.8L638.0 528.8L638.0 533.8L639.0 533.8L639.0 533.8L640.0 533.8L640.0 533.8L641.0 533.8L641.0 528.8L642.0 528.8L642.0 528.8L643.0 528.8L643.0 528.8L644.0 528.8L644.0 528.8L645.0 528.8L645.0 528.8L646.0 528.8L646.0 523.9L647.0 523.9L647.0 523.9L648.0 523.9L648.0 523.9L649.0 523.9L649.0 523.9L650.0 523.9L650.0 523.9L651.0 523.9L651.0 523.9L652.0 523.9L652.0 528.8L653.0 528.8L653.0 518.9L654.0 518.9L654.0 518.9L655.0 518.9L655.0 518.9L656.0 518.9L656.0 523.9L657.0 523.9L657.0 523.9L658.0 523.9L658.0 523.9L659.0 523.9L659.0 523.9L660.0 523.9L660.0 523.9L661.0 523.9L661.0 528.8L662.0 528.8L662.0 528.8L663.0 528.8L663.0 533.8L664.0 533.8L664.0 533.8L665.0 533.8L665.0 533.8L666.0 533.8L666.0 533.8L667.0 533.8L667.0 533.8L668.0 533.8L668.0 533.8L669.0 533.8L669.0 538.7L670.0 538.7L670.0 533.8L671.0 533.8L671.0 533.8L672.0 533.8L672.0 533.8L673.0 533.8L673.0 533.8L674.0 533.8L674.0 533.8L675.0 533.8L675.0 528.8L676.0 528.8L676.0 528.8L677.0 528.8L677.0 528.8L678.0 528.8L678.0 528.8L679.0 528.8L679.0 528.8L680.0 528.8L680.0 528.8L681.0 528.8L681.0 528.8L682.0 528.8L682.0 528.8L683.0 528.8L683.0 528.8L684.0 528.8L684.0 528.8L685.0 528.8L685.0 528.8L686.0 528.8L686.0 528.8L687.0 528.8L687.0 528.8L688.0 528.8L688.0 528.8L689.0 528.8L689.0 533.8L690.0 533.8L690.0 533.8L691.0 533.8L691.0 538.7L692.0 538.7L692.0 543.6L693.0 543.6L693.0 543.6L694.0 543.6L694.0 548.6L695.0 548.6L695.0 548.6L696.0 548.6L696.0 548.6L697.0 548.6L697.0 548.6L698.0 548.6L698.0 548.6L699.0 548.6L699.0 548.6L700.0 548.6L700.0 553.5L701.0 553.5L701.0 548.6L702.0 548.6L702.0 543.6L703.0 543.6L703.0 543.6L704.0 543.6L704.0 543.6L705.0 543.6L705.0 538.7L706.0 538.7L706.0 538.7L707.0 538.7L707.0 538.7L708.0 538.7L708.0 538.7L709.0 538.7L709.0 538.7L710.0 538.7L710.0 538.7L711.0 538.7L711.0 538.7L712.0 538.7L712.0 533.8L713.0 533.8L713.0 528.8L714.0 528.8L714.0 528.8L715.0 528.8L715.0 528.8L716.0 528.8L716.0 523.9L717.0 523.9L717.0 523.9L718.0 523.9L718.0 523.9L719.0 523.9L719.0 523.9L720.0 523.9L720.0 523.9L721.0 523.9L721.0 523.9L722.0 523.9L722.0 523.9L723.0 523.9L723.0 523.9L724.0 523.9L724.0 528.8L725.0 528.8L725.0 528.8L726.0 528.8L726.0 523.9L727.0 523.9L727.0 523.9L728.0 523.9L728.0 523.9L729.0 523.9L729.0 518.9L730.0 518.9L730.0 518.9L731.0 518.9L731.0 518.9L732.0 518.9L732.0 523.9L733.0 523.9L733.0 523.9L734.0 523.9L734.0 523.9L735.0 523.9L735.0 518.9L736.0 518.9L736.0 518.9L737.0 518.9L737.0 518.9L738.0 518.9L738.0 523.9L739.0 523.9L739.0 523.9L740.0 523.9L740.0 523.9L741.0 523.9L741.0 518.9L742.0 518.9L742.0 518.9L743.0 518.9L743.0 518.9L744.0 518.9L744.0 518.9L745.0 518.9L745.0 518.9L746.0 518.9L746.0 523.9L747.0 523.9L747.0 528.8L748.0 528.8L748.0 528.8L749.0 528.8L749.0 528.8L750.0 528.8L750.0 528.8L751.0 528.8L751.0 528.8L752.0 528.8L752.0 528.8L753.0 528.8L753.0 528.8L754.0 528.8L754.0 533.8L755.0 533.8L755.0 533.8L756.0 533.8L756.0 533.8L757.0 533.8L757.0 533.8L758.0 533.8L758.0 538.7L759.0 538.7L759.0 538.7L760.0 538.7L760.0 538.7L761.0 538.7L761.0 538.7L762.0 538.7L762.0 538.7L763.0 538.7L763.0 543.6L764.0 543.6L764.0 543.6L765.0 543.6L765.0 538.7L766.0 538.7L766.0 538.7L767.0 538.7L767.0 538.7L768.0 538.7L768.0 533.8L769.0 533.8L769.0 533.8L770.0 533.8L770.0 533.8L771.0 533.8L771.0 533.8L772.0 533.8L772.0 528.8L773.0 528.8L773.0 528.8L774.0 528.8L774.0 528.8L775.0 528.8L775.0 528.8L776.0 528.8L776.0 528.8L777.0 528.8L777.0 528.8L778.0 528.8L778.0 528.8L779.0 528.8L779.0 528.8L780.0 528.8L780.0 523.9L781.0 523.9L781.0 523.9L782.0 523.9L782.0 523.9L783.0 523.9L783.0 523.9L784.0 523.9L784.0 523.9L785.0 523.9L785.0 528.8L786.0 528.8L786.0 528.8L787.0 528.8L787.0 528.8L788.0 528.8L788.0 533.8L789.0 533.8L789.0 533.8L790.0 533.8L790.0 533.8L791.0 533.8L791.0 538.7L792.0 538.7L792.0 538.7L793.0 538.7L793.0 538.7L794.0 538.7L794.0 538.7L795.0 538.7L795.0 538.7L796.0 538.7L796.0 538.7L797.0 538.7L797.0 538.7L798.0 538.7L798.0 538.7L799.0 538.7L799.0 538.7L800.0 538.7L800.0 538.7L801.0 538.7L801.0 538.7L802.0 538.7L802.0 538.7L803.0 538.7L803.0 538.7L804.0 538.7L804.0 533.8L805.0 533.8L805.0 528.8L806.0 528.8L806.0 528.8L807.0 528.8L807.0 528.8L808.0 528.8L808.0 528.8L809.0 528.8L809.0 528.8L810.0 528.8L810.0 528.8L811.0 528.8L811.0 528.8L812.0 528.8L812.0 528.8L813.0 528.8L813.0 528.8L814.0 528.8L814.0 533.8L815.0 533.8L815.0 533.8L816.0 533.8L816.0 538.7L817.0 538.7L817.0 538.7L818.0 538.7L818.0 538.7L819.0 538.7L819.0 543.6L820.0 543.6L820.0 543.6L821.0 543.6L821.0 543.6L822.0 543.6L822.0 548.6L823.0 548.6L823.0 548.6L824.0 548.6L824.0 548.6L825.0 548.6L825.0 548.6L826.0 548.6L826.0 548.6L827.0 548.6L827.0 548.6L828.0 548.6L828.0 548.6L829.0 548.6L829.0 548.6L830.0 548.6L830.0 543.6L831.0 543.6L831.0 543.6L832.0 543.6L832.0 538.7L833.0 538.7L833.0 538.7L834.0 538.7L834.0 538.7L835.0 538.7L835.0 533.8L836.0 533.8L836.0 533.8L837.0 533.8L837.0 533.8L838.0 533.8L838.0 533.8L839.0 533.8L839.0 533.8L840.0 533.8L840.0 533.8L841.0 533.8L841.0 533.8L842.0 533.8L842.0 533.8L843.0 533.8L843.0 533.8L844.0 533.8L844.0 533.8L845.0 533.8L845.0 533.8L846.0 533.8L846.0 533.8L847.0 533.8L847.0 538.7L848.0 538.7L848.0 538.7L849.0 538.7L849.0 538.7L850.0 538.7L850.0 538.7L851.0 538.7L851.0 538.7L852.0 538.7L852.0 533.8L853.0 533.8L853.0 538.7L854.0 538.7L854.0 538.7L855.0 538.7L855.0 538.7L856.0 538.7L856.0 533.8L857.0 533.8L857.0 533.8L858.0 533.8L858.0 533.8L859.0 533.8L859.0 533.8L860.0 533.8L860.0 528.8L861.0 528.8L861.0 528.8L862.0 528.8L862.0 523.9L863.0 523.9L863.0 528.8L864.0 528.8L864.0 528.8L865.0 528.8L865.0 528.8L866.0 528.8L866.0 528.8L867.0 528.8L867.0 533.8L868.0 533.8L868.0 533.8L869.0 533.8L869.0 538.7L870.0 538.7L870.0 538.7L871.0 538.7L871.0 538.7L872.0 538.7L872.0 533.8L873.0 533.8L873.0 533.8L874.0 533.8L874.0 533.8L875.0 533.8L875.0 533.8L876.0 533.8L876.0 533.8L877.0 533.8L877.0 543.6L878.0 543.6L878.0 543.6L879.0 543.6L879.0 543.6L880.0 543.6L880.0 543.6L881.0 543.6L881.0 543.6L882.0 543.6L882.0 543.6L883.0 543.6L883.0 543.6L884.0 543.6L884.0 543.6L885.0 543.6L885.0 538.7L886.0 538.7L886.0 538.7L887.0 538.7L887.0 538.7L888.0 538.7L888.0 538.7L889.0 538.7L889.0 538.7L890.0 538.7L890.0 533.8L891.0 533.8L891.0 533.8L892.0 533.8L892.0 533.8L893.0 533.8L893.0 538.7L894.0 538.7L894.0 538.7L895.0 538.7L895.0 538.7L896.0 538.7L896.0 533.8L897.0 533.8L897.0 533.8L898.0 533.8L898.0 533.8L899.0 533.8L899.0 533.8L900.0 533.8L900.0 533.8L901.0 533.8L901.0 533.8L902.0 533.8L902.0 533.8L903.0 533.8L903.0 528.8L904.0 528.8L904.0 528.8L905.0 528.8L905.0 528.8L906.0 528.8L906.0 528.8L907.0 528.8L907.0 533.8L908.0 533.8L908.0 533.8L909.0 533.8L909.0 533.8L910.0 533.8L910.0 533.8L911.0 533.8L911.0 533.8L912.0 533.8L912.0 528.8L913.0 528.8L913.0 528.8L914.0 528.8L914.0 528.8L915.0 528.8L915.0 533.8L916.0 533.8L916.0 533.8L917.0 533.8L917.0 533.8L918.0 533.8L918.0 533.8L919.0 533.8L919.0 533.8L920.0 533.8L920.0 533.8L921.0 533.8L921.0 538.7L922.0 538.7L922.0 538.7L923.0 538.7L923.0 538.7L924.0 538.7L924.0 533.8L925.0 533.8L925.0 533.8L926.0 533.8L926.0 538.7L927.0 538.7L927.0 538.7L928.0 538.7L928.0 538.7L929.0 538.7L929.0 538.7L930.0 538.7L930.0 538.7L931.0 538.7L931.0 538.7L932.0 538.7L932.0 538.7L933.0 538.7L933.0 538.7L934.0 538.7L934.0 543.6L935.0 543.6L935.0 538.7L936.0 538.7L936.0 538.7L937.0 538.7L937.0 538.7L938.0 538.7L938.0 538.7L939.0 538.7L939.0 538.7L940.0 538.7L940.0 538.7L941.0 538.7L941.0 533.8L942.0 533.8L942.0 533.8L943.0 533.8L943.0 533.8L944.0 533.8L944.0 533.8L945.0 533.8L945.0 528.8L946.0 528.8L946.0 523.9L947.0 523.9L947.0 523.9L948.0 523.9L948.0 523.9L949.0 523.9L949.0 523.9L950.0 523.9L950.0 523.9L951.0 523.9L951.0 523.9L952.0 523.9L952.0 523.9L953.0 523.9L953.0 523.9L954.0 523.9L954.0 528.8L955.0 528.8L955.0 533.8L956.0 533.8L956.0 533.8L957.0 533.8L957.0 533.8L958.0 533.8L958.0 533.8L959.0 533.8L959.0 533.8L960.0 533.8L960.0 533.8L961.0 533.8L961.0 533.8L962.0 533.8L962.0 538.7L963.0 538.7L963.0 538.7L964.0 538.7L964.0 538.7L965.0 538.7L965.0 538.7L966.0 538.7L966.0 533.8L967.0 533.8L967.0 533.8L968.0 533.8L968.0 533.8L969.0 533.8L969.0 533.8L970.0 533.8L970.0 533.8L971.0 533.8L971.0 533.8L972.0 533.8L972.0 533.8L973.0 533.8L973.0 533.8L974.0 533.8L974.0 533.8L975.0 533.8L975.0 533.8L976.0 533.8L976.0 533.8L977.0 533.8L977.0 538.7L978.0 538.7L978.0 538.7L979.0 538.7L979.0 543.6L980.0 543.6L980.0 543.6L981.0 543.6L981.0 543.6L982.0 543.6L982.0 548.6L983.0 548.6L983.0 548.6L984.0 548.6L984.0 548.6L985.0 548.6L985.0 548.6L986.0 548.6L986.0 548.6L987.0 548.6L987.0 553.5L988.0 553.5L988.0 553.5L989.0 553.5L989.0 553.5L990.0 553.5L990.0 553.5L991.0 553.5L991.0 548.6L992.0 548.6L992.0 548.6L993.0 548.6L993.0 548.6L994.0 548.6L994.0 543.6L995.0 543.6L995.0 543.6L996.0 543.6L996.0 538.7L997.0 538.7L997.0 538.7L998.0 538.7L998.0 538.7L999.0 538.7L999.0 538.7L1000.0 538.7L1000.0 538.7L1001.0 538.7L1001.0 533.8L1002.0 533.8L1002.0 538.7L1003.0 538.7L1003.0 538.7L1004.0 538.7L1004.0 538.7L1005.0 538.7L1005.0 538.7L1006.0 538.7L1006.0 538.7L1007.0 538.7L1007.0 533.8L1008.0 533.8L1008.0 533.8L1009.0 533.8L1009.0 533.8L1010.0 533.8L1010.0 533.8L1011.0 533.8L1011.0 533.8L1012.0 533.8L1012.0 533.8L1013.0 533.8L1013.0 538.7L1014.0 538.7L1014.0 538.7L1015.0 538.7L1015.0 533.8L1016.0 533.8L1016.0 543.6L1017.0 543.6L1017.0 543.6L1018.0 543.6L1018.0 543.6L1019.0 543.6L1019.0 543.6L1020.0 543.6L1020.0 543.6L1021.0 543.6L1021.0 543.6L1022.0 543.6L1022.0 543.6L1023.0 543.6L1023.0 543.6L1024.0 543.6L1024.0 543.6L1025.0 543.6L1025.0 543.6L1026.0 543.6L1026.0 548.6L1027.0 548.6L1027.0 548.6L1028.0 548.6L1028.0 548.6L1029.0 548.6L1029.0 548.6L1030.0 548.6L1030.0 548.6L1031.0 548.6L1031.0 548.6L1032.0 548.6L1032.0 543.6L1033.0 543.6L1033.0 543.6L1034.0 543.6L1034.0 543.6L1035.0 543.6L1035.0 543.6L1036.0 543.6L1036.0 538.7L1037.0 538.7L1037.0 538.7L1038.0 538.7L1038.0 538.7L1039.0 538.7L1039.0 538.7L1040.0 538.7L1040.0 538.7L1041.0 538.7L1041.0 538.7L1042.0 538.7L1042.0 538.7L1043.0 538.7L1043.0 533.8L1044.0 533.8L1044.0 533.8L1045.0 533.8L1045.0 533.8L1046.0 533.8L1046.0 528.8L1047.0 528.8L1047.0 528.8L1048.0 528.8L1048.0 528.8L1049.0 528.8L1049.0 528.8L1050.0 528.8L1050.0 533.8L1051.0 533.8L1051.0 533.8L1052.0 533.8L1052.0 533.8L1053.0 533.8L1053.0 533.8L1054.0 533.8L1054.0 538.7L1055.0 538.7L1055.0 533.8L1056.0 533.8L1056.0 533.8L1057.0 533.8L1057.0 528.8L1058.0 528.8L1058.0 528.8L1059.0 528.8L1059.0 528.8L1060.0 528.8L1060.0 528.8L1061.0 528.8L1061.0 528.8L1062.0 528.8L1062.0 528.8L1063.0 528.8L1063.0 528.8L1064.0 528.8L1064.0 509.0Z" fill="#ff0000"/>
<clipPath id="bc"><path d="M103 509.0L103.0 489.2L104.0 489.2L104.0 489.2L105.0 489.2L105.0 489.2L106.0 489.2L106.0 489.2L107.0 489.2L107.0 489.2L108.0 489.2L108.0 489.2L109.0 489.2L109.0 489.2L110.0 489.2L110.0 489.2L111.0 489.2L111.0 494.1L112.0 494.1L112.0 494.1L113.0 494.1L113.0 494.1L114.0 494.1L114.0 489.2L115.0 489.2L115.0 489.2L116.0 489.2L116.0 489.2L117.0 489.2L117.0 489.2L118.0 489.2L118.0 489.2L119.0 489.2L119.0 489.2L120.0 489.2L120.0 484.2L121.0 484.2L121.0 484.2L122.0 484.2L122.0 484.2L123.0 484.2L123.0 479.3L124.0 479.3L124.0 479.3L125.0 479.3L125.0 479.3L126.0 479.3L126.0 479.3L127.0 479.3L127.0 479.3L128.0 479.3L128.0 479.3L129.0 479.3L129.0 479.3L130.0 479.3L130.0 469.4L131.0 469.4L131.0 469.4L132.0 469.4L132.0 469.4L133.0 469.4L133.0 464.4L134.0 464.4L134.0 464.4L135.0 464.4L135.0 464.4L136.0 464.4L136.0 464.4L137.0 464.4L137.0 469.4L138.0 469.4L138.0 469.4L139.0 469.4L139.0 474.4L140.0 474.4L140.0 474.4L141.0 474.4L141.0 474.4L142.0 474.4L142.0 479.3L143.0 479.3L143.0 479.3L144.0 479.3L144.0 479.3L145.0 479.3L145.0 474.4L146.0 474.4L146.0 474.4L147.0 474.4L147.0 474.4L148.0 474.4L148.0 479.3L149.0 479.3L149.0 479.3L150.0 479.3L150.0 479.3L151.0 479.3L151.0 484.2L152.0 484.2L152.0 484.2L153.0 484.2L153.0 484.2L154.0 484.2L154.0 489.2L155.0 489.2L155.0 489.2L156.0 489.2L156.0 489.2L157.0 489.2L157.0 489.2L158.0 489.2L158.0 489.2L159.0 489.2L159.0 489.2L160.0 489.2L160.0 489.2L161.0 489.2L161.0 494.1L162.0 494.1L162.0 494.1L163.0 494.1L163.0 494.1L164.0 494.1L164.0 494.1L165.0 494.1L165.0 494.1L166.0 494.1L166.0 494.1L167.0 494.1L167.0 484.2L168.0 484.2L168.0 484.2L169.0 484.2L169.0 484.2L170.0 484.2L170.0 484.2L171.0 484.2L171.0 484.2L172.0 484.2L172.0 484.2L173.0 484.2L173.0 474.4L174.0 474.4L174.0 474.4L175.0 474.4L175.0 474.4L176.0 474.4L176.0 474.4L177.0 474.4L177.0 474.4L178.0 474.4L178.0 474.4L179.0 474.4L179.0 469.4L180.0 469.4L180.0 469.4L181.0 469.4L181.0 474.4L182.0 474.4L182.0 474.4L183.0 474.4L183.0 474.4L184.0 474.4L184.0 479.3L185.0 479.3L185.0 479.3L186.0 479.3L186.0 479.3L187.0 479.3L187.0 484.2L188.0 484.2L188.0 484.2L189.0 484.2L189.0 484.2L190.0 484.2L190.0 489.2L191.0 489.2L191.0 489.2L192.0 489.2L192.0 489.2L193.0 489.2L193.0 489.2L194.0 489.2L194.0 489.2L195.0 489.2L195.0 489.2L196.0 489.2L196.0 499.1L197.0 499.1L197.0 499.1L198.0 499.1L198.0 499.1L199.0 499.1L199.0 499.1L200.0 499.1L200.0 494.1L201.0 494.1L201.0 494.1L202.0 494.1L202.0 494.1L203.0 494.1L203.0 489.2L204.0 489.2L204.0 489.2L205.0 489.2L205.0 489.2L206.0 489.2L206.0 484.2L207.0 484.2L207.0 484.2L208.0 484.2L208.0 484.2L209.0 484.2L209.0 479.3L210.0 479.3L210.0 479.3L211.0 479.3L211.0 479.3L212.0 479.3L212.0 484.2L213.0 484.2L213.0 484.2L214.0 484.2L214.0 484.2L215.0 484.2L215.0 479.3L216.0 479.3L216.0 479.3L217.0 479.3L217.0 479.3L218.0 479.3L218.0 484.2L219.0 484.2L219.0 484.2L220.0 484.2L220.0 484.2L221.0 484.2L221.0 494.1L222.0 494.1L222.0 494.1L223.0 494.1L223.0 494.1L224.0 494.1L224.0 494.1L225.0 494.1L225.0 489.2L226.0 489.2L226.0 489.2L227.0 489.2L227.0 489.2L228.0 489.2L228.0 484.2L229.0 484.2L229.0 484.2L230.0 484.2L230.0 484.2L231.0 484.2L231.0 479.3L232.0 479.3L232.0 479.3L233.0 479.3L233.0 479.3L234.0 479.3L234.0 484.2L235.0 484.2L235.0 484.2L236.0 484.2L236.0 484.2L237.0 484.2L237.0 479.3L238.0 479.3L238.0 479.3L239.0 479.3L239.0 479.3L240.0 479.3L240.0 484.2L241.0 484.2L241.0 484.2L242.0 484.2L242.0 484.2L243.0 484.2L243.0 489.2L244.0 489.2L244.0 489.2L245.0 489.2L245.0 489.2L246.0 489.2L246.0 489.2L247.0 489.2L247.0 489.2L248.0 489.2L248.0 489.2L249.0 489.2L249.0 494.1L250.0 494.1L250.0 494.1L251.0 494.1L251.0 494.1L252.0 494.1L252.0 494.1L253.0 494.1L253.0 499.1L254.0 499.1L254.0 499.1L255.0 499.1L255.0 499.1L256.0 499.1L256.0 499.1L257.0 499.1L257.0 499.1L258.0 499.1L258.0 499.1L259.0 499.1L259.0 499.1L260.0 499.1L260.0 499.1L261.0 499.1L261.0 499.1L262.0 499.1L262.0 494.1L263.0 494.1L263.0 494.1L264.0 494.1L264.0 494.1L265.0 494.1L265.0 494.1L266.0 494.1L266.0 494.1L267.0 494.1L267.0 494.1L268.0 494.1L268.0 489.2L269.0 489.2L269.0 489.2L270.0 489.2L270.0 489.2L271.0 489.2L271.0 494.1L272.0 494.1L272.0 494.1L273.0 494.1L273.0 494.1L274.0 494.1L274.0 489.2L275.0 489.2L275.0 489.2L276.0 489.2L276.0 489.2L277.0 489.2L277.0 484.2L278.0 484.2L278.0 484.2L279.0 484.2L279.0 484.2L280.0 484.2L280.0 484.2L281.0 484.2L281.0 484.2L282.0 484.2L282.0 484.2L283.0 484.2L283.0 484.2L284.0 484.2L284.0 489.2L285.0 489.2L285.0 489.2L286.0 489.2L286.0 489.2L287.0 489.2L287.0 494.1L288.0 494.1L288.0 494.1L289.0 494.1L289.0 494.1L290.0 494.1L290.0 479.3L291.0 479.3L291.0 479.3L292.0 479.3L292.0 479.3L293.0 479.3L293.0 479.3L294.0 479.3L294.0 479.3L295.0 479.3L295.0 479.3L296.0 479.3L296.0 479.3L297.0 479.3L297.0 479.3L298.0 479.3L298.0 479.3L299.0 479.3L299.0 484.2L300.0 484.2L300.0 484.2L301.0 484.2L301.0 484.2L302.0 484.2L302.0 479.3L303.0 479.3L303.0 479.3L304.0 479.3L304.0 474.4L305.0 474.4L305.0 474.4L306.0 474.4L306.0 474.4L307.0 474.4L307.0 474.4L308.0 474.4L308.0 474.4L309.0 474.4L309.0 474.4L310.0 474.4L310.0 474.4L311.0 474.4L311.0 474.4L312.0 474.4L312.0 474.4L313.0 474.4L313.0 474.4L314.0 474.4L314.0 474.4L315.0 474.4L315.0 474.4L316.0 474.4L316.0 469.4L317.0 469.4L317.0 469.4L318.0 469.4L318.0 464.4L319.0 464.4L319.0 464.4L320.0 464.4L320.0 464.4L321.0 464.4L321.0 474.4L322.0 474.4L322.0 474.4L323.0 474.4L323.0 474.4L324.0 474.4L324.0 474.4L325.0 474.4L325.0 474.4L326.0 474.4L326.0 474.4L327.0 474.4L327.0 474.4L328.0 474.4L328.0 474.4L329.0 474.4L329.0 469.4L330.0 469.4L330.0 474.4L331.0 474.4L331.0 474.4L332.0 474.4L332.0 479.3L333.0 479.3L333.0 484.2L334.0 484.2L334.0 484.2L335.0 484.2L335.0 484.2L336.0 484.2L336.0 484.2L337.0 484.2L337.0 484.2L338.0 484.2L338.0 484.2L339.0 484.2L339.0 484.2L340.0 484.2L340.0 484.2L341.0 484.2L341.0 489.2L342.0 489.2L342.0 489.2L343.0 489.2L343.0 494.1L344.0 494.1L344.0 499.1L345.0 499.1L345.0 499.1L346.0 499.1L346.0 499.1L347.0 499.1L347.0 499.1L348.0 499.1L348.0 499.1L349.0 499.1L349.0 499.1L350.0 499.1L350.0 499.1L351.0 499.1L351.0 494.1L352.0 494.1L352.0 494.1L353.0 494.1L353.0 494.1L354.0 494.1L354.0 499.1L355.0 499.1L355.0 499.1L356.0 499.1L356.0 499.1L357.0 499.1L357.0 499.1L358.0 499.1L358.0 494.1L359.0 494.1L359.0 494.1L360.0 494.1L360.0 484.2L361.0 484.2L361.0 484.2L362.0 484.2L362.0 484.2L363.0 484.2L363.0 484.2L364.0 484.2L364.0 484.2L365.0 484.2L365.0 489.2L366.0 489.2L366.0 489.2L367.0 489.2L367.0 489.2L368.0 489.2L368.0 489.2L369.0 489.2L369.0 489.2L370.0 489.2L370.0 489.2L371.0 489.2L371.0 489.2L372.0 489.2L372.0 489.2L373.0 489.2L373.0 489.2L374.0 489.2L374.0 484.2L375.0 484.2L375.0 489.2L376.0 489.2L376.0 489.2L377.0 489.2L377.0 494.1L378.0 494.1L378.0 494.1L379.0 494.1L379.0 494.1L380.0 494.1L380.0 489.2L381.0 489.2L381.0 489.2L382.0 489.2L382.0 484.2L383.0 484.2L383.0 484.2L384.0 484.2L384.0 484.2L385.0 484.2L385.0 484.2L386.0 484.2L386.0 484.2L387.0 484.2L387.0 484.2L388.0 484.2L388.0 479.3L389.0 479.3L389.0 474.4L390.0 474.4L390.0 474.4L391.0 474.4L391.0 474.4L392.0 474.4L392.0 474.4L393.0 474.4L393.0 474.4L394.0 474.4L394.0 469.4L395.0 469.4L395.0 469.4L396.0 469.4L396.0 464.4L397.0 464.4L397.0 464.4L398.0 464.4L398.0 464.4L399.0 464.4L399.0 469.4L400.0 469.4L400.0 474.4L401.0 474.4L401.0 474.4L402.0 474.4L402.0 469.4L403.0 469.4L403.0 469.4L404.0 469.4L404.0 469.4L405.0 469.4L405.0 474.4L406.0 474.4L406.0 474.4L407.0 474.4L407.0 474.4L408.0 474.4L408.0 479.3L409.0 479.3L409.0 479.3L410.0 479.3L410.0 484.2L411.0 484.2L411.0 489.2L412.0 489.2L412.0 489.2L413.0 489.2L413.0 494.1L414.0 494.1L414.0 494.1L415.0 494.1L415.0 494.1L416.0 494.1L416.0 494.1L417.0 494.1L417.0 494.1L418.0 494.1L418.0 489.2L419.0 489.2L419.0 489.2L420.0 489.2L420.0 489.2L421.0 489.2L421.0 489.2L422.0 489.2L422.0 489.2L423.0 489.2L423.0 489.2L424.0 489.2L424.0 484.2L425.0 484.2L425.0 484.2L426.0 484.2L426.0 484.2L427.0 484.2L427.0 479.3L428.0 479.3L428.0 479.3L429.0 479.3L429.0 479.3L430.0 479.3L430.0 474.4L431.0 474.4L431.0 474.4L432.0 474.4L432.0 474.4L433.0 474.4L433.0 474.4L434.0 474.4L434.0 474.4L435.0 474.4L435.0 474.4L436.0 474.4L436.0 479.3L437.0 479.3L437.0 479.3L438.0 479.3L438.0 479.3L439.0 479.3L439.0 484.2L440.0 484.2L440.0 484.2L441.0 484.2L441.0 484.2L442.0 484.2L442.0 484.2L443.0 484.2L443.0 484.2L444.0 484.2L444.0 484.2L445.0 484.2L445.0 484.2L446.0 484.2L446.0 484.2L447.0 484.2L447.0 484.2L448.0 484.2L448.0 484.2L449.0 484.2L449.0 484.2L450.0 484.2L450.0 484.2L451.0 484.2L451.0 484.2L452.0 484.2L452.0 484.2L453.0 484.2L453.0 484.2L454.0 484.2L454.0 484.2L455.0 484.2L455.0 484.2L456.0 484.2L456.0 484.2L457.0 484.2L457.0 484.2L458.0 484.2L458.0 489.2L459.0 489.2L459.0 489.2L460.0 489.2L460.0 489.2L461.0 489.2L461.0 489.2L462.0 489.2L462.0 489.2L463.0 489.2L463.0 489.2L464.0 489.2L464.0 489.2L465.0 489.2L465.0 489.2L466.0 489.2L466.0 489.2L467.0 489.2L467.0 494.1L468.0 494.1L468.0 494.1L469.0 494.1L469.0 489.2L470.0 489.2L470.0 489.2L471.0 489.2L471.0 489.2L472.0 489.2L472.0 489.2L473.0 489.2L473.0 489.2L474.0 489.2L474.0 489.2L475.0 489.2L475.0 494.1L476.0 494.1L476.0 494.1L477.0 494.1L477.0 494.1L478.0 494.1L478.0 489.2L479.0 489.2L479.0 489.2L480.0 489.2L480.0 484.2L481.0 484.2L481.0 484.2L482.0 484.2L482.0 484.2L483.0 484.2L483.0 484.2L484.0 484.2L484.0 489.2L485.0 489.2L485.0 489.2L486.0 489.2L486.0 489.2L487.0 489.2L487.0 489.2L488.0 489.2L488.0 489.2L489.0 489.2L489.0 489.2L490.0 489.2L490.0 489.2L491.0 489.2L491.0 484.2L492.0 484.2L492.0 479.3L493.0 479.3L493.0 479.3L494.0 479.3L494.0 479.3L495.0 479.3L495.0 479.3L496.0 479.3L496.0 479.3L497.0 479.3L497.0 479.3L498.0 479.3L498.0 484.2L499.0 484.2L499.0 484.2L500.0 484.2L500.0 484.2L501.0 484.2L501.0 479.3L502.0 479.3L502.0 479.3L503.0 479.3L503.0 479.3L504.0 479.3L504.0 479.3L505.0 479.3L505.0 479.3L506.0 479.3L506.0 479.3L507.0 479.3L507.0 474.4L508.0 474.4L508.0 474.4L509.0 474.4L509.0 479.3L510.0 479.3L510.0 479.3L511.0 479.3L511.0 479.3L512.0 479.3L512.0 474.4L513.0 474.4L513.0 479.3L514.0 479.3L514.0 479.3L515.0 479.3L515.0 479.3L516.0 479.3L516.0 479.3L517.0 479.3L517.0 479.3L518.0 479.3L518.0 479.3L519.0 479.3L519.0 479.3L520.0 479.3L520.0 479.3L521.0 479.3L521.0 479.3L522.0 479.3L522.0 479.3L523.0 479.3L523.0 474.4L524.0 474.4L524.0 479.3L525.0 479.3L525.0 479.3L526.0 479.3L526.0 479.3L527.0 479.3L527.0 479.3L528.0 479.3L528.0 479.3L529.0 479.3L529.0 479.3L530.0 479.3L530.0 484.2L531.0 484.2L531.0 484.2L532.0 484.2L532.0 479.3L533.0 479.3L533.0 479.3L534.0 479.3L534.0 479.3L535.0 479.3L535.0 479.3L536.0 479.3L536.0 479.3L537.0 479.3L537.0 484.2L538.0 484.2L538.0 489.2L539.0 489.2L539.0 489.2L540.0 489.2L540.0 494.1L541.0 494.1L541.0 494.1L542.0 494.1L542.0 494.1L543.0 494.1L543.0 489.2L544.0 489.2L544.0 489.2L545.0 489.2L545.0 489.2L546.0 489.2L546.0 494.1L547.0 494.1L547.0 489.2L548.0 489.2L548.0 489.2L549.0 489.2L549.0 489.2L550.0 489.2L550.0 489.2L551.0 489.2L551.0 484.2L552.0 484.2L552.0 484.2L553.0 484.2L553.0 484.2L554.0 484.2L554.0 484.2L555.0 484.2L555.0 479.3L556.0 479.3L556.0 479.3L557.0 479.3L557.0 479.3L558.0 479.3L558.0 474.4L559.0 474.4L559.0 474.4L560.0 474.4L560.0 474.4L561.0 474.4L561.0 474.4L562.0 474.4L562.0 474.4L563.0 474.4L563.0 474.4L564.0 474.4L564.0 474.4L565.0 474.4L565.0 469.4L566.0 469.4L566.0 474.4L567.0 474.4L567.0 474.4L568.0 474.4L568.0 479.3L569.0 479.3L569.0 484.2L570.0 484.2L570.0 484.2L571.0 484.2L571.0 484.2L572.0 484.2L572.0 484.2L573.0 484.2L573.0 484.2L574.0 484.2L574.0 484.2L575.0 484.2L575.0 484.2L576.0 484.2L576.0 484.2L577.0 484.2L577.0 484.2L578.0 484.2L578.0 484.2L579.0 484.2L579.0 489.2L580.0 489.2L580.0 484.2L581.0 484.2L581.0 484.2L582.0 484.2L582.0 484.2L583.0 484.2L583.0 484.2L584.0 484.2L584.0 484.2L585.0 484.2L585.0 489.2L586.0 489.2L586.0 479.3L587.0 479.3L587.0 479.3L588.0 479.3L588.0 479.3L589.0 479.3L589.0 479.3L590.0 479.3L590.0 479.3L591.0 479.3L591.0 479.3L592.0 479.3L592.0 479.3L593.0 479.3L593.0 474.4L594.0 474.4L594.0 479.3L595.0 479.3L595.0 479.3L596.0 479.3L596.0 479.3L597.0 479.3L597.0 479.3L598.0 479.3L598.0 479.3L599.0 479.3L599.0 479.3L600.0 479.3L600.0 474.4L601.0 474.4L601.0 474.4L602.0 474.4L602.0 479.3L603.0 479.3L603.0 479.3L604.0 479.3L604.0 479.3L605.0 479.3L605.0 479.3L606.0 479.3L606.0 479.3L607.0 479.3L607.0 479.3L608.0 479.3L608.0 479.3L609.0 479.3L609.0 479.3L610.0 479.3L610.0 479.3L611.0 479.3L611.0 479.3L612.0 479.3L612.0 479.3L613.0 479.3L613.0 479.3L614.0 479.3L614.0 479.3L615.0 479.3L615.0 479.3L616.0 479.3L616.0 479.3L617.0 479.3L617.0 479.3L618.0 479.3L618.0 479.3L619.0 479.3L619.0 479.3L620.0 479.3L620.0 479.3L621.0 479.3L621.0 469.4L622.0 469.4L622.0 474.4L623.0 474.4L623.0 474.4L624.0 474.4L624.0 474.4L625.0 474.4L625.0 479.3L626.0 479.3L626.0 479.3L627.0 479.3L627.0 479.3L628.0 479.3L628.0 479.3L629.0 479.3L629.0 479.3L630.0 479.3L630.0 474.4L631.0 474.4L631.0 474.4L632.0 474.4L632.0 474.4L633.0 474.4L633.0 474.4L634.0 474.4L634.0 474.4L635.0 474.4L635.0 474.4L636.0 474.4L636.0 479.3L637.0 479.3L637.0 479.3L638.0 479.3L638.0 484.2L639.0 484.2L639.0 484.2L640.0 484.2L640.0 484.2L641.0 484.2L641.0 479.3L642.0 479.3L642.0 479.3L643.0 479.3L643.0 479.3L644.0 479.3L644.0 479.3L645.0 479.3L645.0 479.3L646.0 479.3L646.0 474.4L647.0 474.4L647.0 474.4L648.0 474.4L648.0 474.4L649.0 474.4L649.0 474.4L650.0 474.4L650.0 474.4L651.0 474.4L651.0 474.4L652.0 474.4L652.0 479.3L653.0 479.3L653.0 469.4L654.0 469.4L654.0 469.4L655.0 469.4L655.0 469.4L656.0 469.4L656.0 474.4L657.0 474.4L657.0 474.4L658.0 474.4L658.0 474.4L659.0 474.4L659.0 474.4L660.0 474.4L660.0 474.4L661.0 474.4L661.0 479.3L662.0 479.3L662.0 479.3L663.0 479.3L663.0 484.2L664.0 484.2L664.0 484.2L665.0 484.2L665.0 484.2L666.0 484.2L666.0 484.2L667.0 484.2L667.0 484.2L668.0 484.2L668.0 484.2L669.0 484.2L669.0 489.2L670.0 489.2L670.0 484.2L671.0 484.2L671.0 484.2L672.0 484.2L672.0 484.2L673.0 484.2L673.0 484.2L674.0 484.2L674.0 484.2L675.0 484.2L675.0 479.3L676.0 479.3L676.0 479.3L677.0 479.3L677.0 479.3L678.0 479.3L678.0 479.3L679.0 479.3L679.0 479.3L680.0 479.3L680.0 479.3L681.0 479.3L681.0 479.3L682.0 479.3L682.0 479.3L683.0 479.3L683.0 479.3L684.0 479.3L684.0 479.3L685.0 479.3L685.0 479.3L686.0 479.3L686.0 479.3L687.0 479.3L687.0 479.3L688.0 479.3L688.0 479.3L689.0 479.3L689.0 484.2L690.0 484.2L690.0 484.2L691.0 484.2L691.0 489.2L692.0 489.2L692.0 494.1L693.0 494.1L693.0 494.1L694.0 494.1L694.0 499.1L695.0 499.1L695.0 499.1L696.0 499.1L696.0 499.1L697.0 499.1L697.0 499.1L698.0 499.1L698.0 499.1L699.0 499.1L699.0 499.1L700.0 499.1L700.0 504.1L701.0 504.1L701.0 499.1L702.0 499.1L702.0 494.1L703.0 494.1L703.0 494.1L704.0 494.1L704.0 494.1L705.0 494.1L705.0 489.2L706.0 489.2L706.0 489.2L707.0 489.2L707.0 489.2L708.0 489.2L708.0 489.2L709.0 489.2L709.0 489.2L710.0 489.2L710.0 489.2L711.0 489.2L711.0 489.2L712.0 489.2L712.0 484.2L713.0 484.2L713.0 479.3L714.0 479.3L714.0 479.3L715.0 479.3L715.0 479.3L716.0 479.3L716.0 474.4L717.0 474.4L717.0 474.4L718.0 474.4L718.0 474.4L719.0 474.4L719.0 474.4L720.0 474.4L720.0 474.4L721.0 474.4L721.0 474.4L722.0 474.4L722.0 474.4L723.0 474.4L723.0 474.4L724.0 474.4L724.0 479.3L725.0 479.3L725.0 479.3L726.0 479.3L726.0 474.4L727.0 474.4L727.0 474.4L728.0 474.4L728.0 474.4L729.0 474.4L729.0 469.4L730.0 469.4L730.0 469.4L731.0 469.4L731.0 469.4L732.0 469.4L732.0 474.4L733.0 474.4L733.0 474.4L734.0 474.4L734.0 474.4L735.0 474.4L735.0 469.4L736.0 469.4L736.0 469.4L737.0 469.4L737.0 469.4L738.0 469.4L738.0 474.4L739.0 474.4L739.0 474.4L740.0 474.4L740.0 474.4L741.0 474.4L741.0 469.4L742.0 469.4L742.0 469.4L743.0 469.4L743.0 469.4L744.0 469.4L744.0 469.4L745.0 469.4L745.0 469.4L746.0 469.4L746.0 474.4L747.0 474.4L747.0 479.3L748.0 479.3L748.0 479.3L749.0 479.3L749.0 479.3L750.0 479.3L750.0 479.3L751.0 479.3L751.0 479.3L752.0 479.3L752.0 479.3L753.0 479.3L753.0 479.3L754.0 479.3L754.0 484.2L755.0 484.2L755.0 484.2L756.0 484.2L756.0 484.2L757.0 484.2L757.0 484.2L758.0 484.2L758.0 489.2L759.0 489.2L759.0 489.2L760.0 489.2L760.0 489.2L761.0 489.2L761.0 489.2L762.0 489.2L762.0 489.2L763.0 489.2L763.0 494.1L764.0 494.1L764.0 494.1L765.0 494.1L765.0 489.2L766.0 489.2L766.0 489.2L767.0 489.2L767.0 489.2L768.0 489.2L768.0 484.2L769.0 484.2L769.0 484.2L770.0 484.2L770.0 484.2L771.0 484.2L771.0 484.2L772.0 484.2L772.0 479.3L773.0 479.3L773.0 479.3L774.0 479.3L774.0 479.3L775.0 479.3L775.0 479.3L776.0 479.3L776.0 479.3L777.0 479.3L777.0 479.3L778.0 479.3L778.0 479.3L779.0 479.3L779.0 479.3L780.0 479.3L780.0 474.4L781.0 474.4L781.0 474.4L782.0 474.4L782.0 474.4L783.0 474.4L783.0 474.4L784.0 474.4L784.0 474.4L785.0 474.4L785.0 479.3L786.0 479.3L786.0 479.3L787.0 479.3L787.0 479.3L788.0 479.3L788.0 484.2L789.0 484.2L789.0 484.2L790.0 484.2L790.0 484.2L791.0 484.2L791.0 489.2L792.0 489.2L792.0 489.2L793.0 489.2L793.0 489.2L794.0 489.2L794.0 489.2L795.0 489.2L795.0 489.2L796.0 489.2L796.0 489.2L797.0 489.2L797.0 489.2L798.0 489.2L798.0 489.2L799.0 489.2L799.0 489.2L800.0 489.2L800.0 489.2L801.0 489.2L801.0 489.2L802.0 489.2L802.0 489.2L803.0 489.2L803.0 489.2L804.0 489.2L804.0 484.2L805.0 484.2L805.0 479.3L806.0 479.3L806.0 479.3L807.0 479.3L807.0 479.3L808.0 479.3L808.0 479.3L809.0 479.3L809.0 479.3L810.0 479.3L810.0 479.3L811.0 479.3L811.0 479.3L812.0 479.3L812.0 479.3L813.0 479.3L813.0 479.3L814.0 479.3L814.0 484.2L815.0 484.2L815.0 484.2L816.0 484.2L816.0 489.2L817.0 489.2L817.0 489.2L818.0 489.2L818.0 489.2L819.0 489.2L819.0 494.1L820.0 494.1L820.0 494.1L821.0 494.1L821.0 494.1L822.0 494.1L822.0 499.1L823.0 499.1L823.0 499.1L824.0 499.1L824.0 499.1L825.0 499.1L825.0 499.1L826.0 499.1L826.0 499.1L827.0 499.1L827.0 499.1L828.0 499.1L828.0 499.1L829.0 499.1L829.0 499.1L830.0 499.1L830.0 494.1L831.0 494.1L831.0 494.1L832.0 494.1L832.0 489.2L833.0 489.2L833.0 489.2L834.0 489.2L834.0 489.2L835.0 489.2L835.0 484.2L836.0 484.2L836.0 484.2L837.0 484.2L837.0 484.2L838.0 484.2L838.0 484.2L839.0 484.2L839.0 484.2L840.0 484.2L840.0 484.2L841.0 484.2L841.0 484.2L842.0 484.2L842.0 484.2L843.0 484.2L843.0 484.2L844.0 484.2L844.0 484.2L845.0 484.2L845.0 484.2L846.0 484.2L846.0 484.2L847.0 484.2L847.0 489.2L848.0 489.2L848.0 489.2L849.0 489.2L849.0 489.2L850.0 489.2L850.0 489.2L851.0 489.2L851.0 489.2L852.0 489.2L852.0 484.2L853.0 484.2L853.0 489.2L854.0 489.2L854.0 489.2L855.0 489.2L855.0 489.2L856.0 489.2L856.0 484.2L857.0 484.2L857.0 484.2L858.0 484.2L858.0 484.2L859.0 484.2L859.0 484.2L860.0 484.2L860.0 479.3L861.0 479.3L861.0 479.3L862.0 479.3L862.0 474.4L863.0 474.4L863.0 479.3L864.0 479.3L864.0 479.3L865.0 479.3L865.0 479.3L866.0 479.3L866.0 479.3L867.0 479.3L867.0 484.2L868.0 484.2L868.0 484.2L869.0 484.2L869.0 489.2L870.0 489.2L870.0 489.2L871.0 489.2L871.0 489.2L872.0 489.2L872.0 484.2L873.0 484.2L873.0 484.2L874.0 484.2L874.0 484.2L875.0 484.2L875.0 484.2L876.0 484.2L876.0 484.2L877.0 484.2L877.0 494.1L878.0 494.1L878.0 494.1L879.0 494.1L879.0 494.1L880.0 494.1L880.0 494.1L881.0 494.1L881.0 494.1L882.0 494.1L882.0 494.1L883.0 494.1L883.0 494.1L884.0 494.1L884.0 494.1L885.0 494.1L885.0 489.2L886.0 489.2L886.0 489.2L887.0 489.2L887.0 489.2L888.0 489.2L888.0 489.2L889.0 489.2L889.0 489.2L890.0 489.2L890.0 484.2L891.0 484.2L891.0 484.2L892.0 484.2L892.0 484.2L893.0 484.2L893.0 489.2L894.0 489.2L894.0 489.2L895.0 489.2L895.0 489.2L896.0 489.2L896.0 484.2L897.0 484.2L897.0 484.2L898.0 484.2L898.0 484.2L899.0 484.2L899.0 484.2L900.0 484.2L900.0 484.2L901.0 484.2L901.0 484.2L902.0 484.2L902.0 484.2L903.0 484.2L903.0 479.3L904.0 479.3L904.0 479.3L905.0 479.3L905.0 479.3L906.0 479.3L906.0 479.3L907.0 479.3L907.0 484.2L908.0 484.2L908.0 484.2L909.0 484.2L909.0 484.2L910.0 484.2L910.0 484.2L911.0 484.2L911.0 484.2L912.0 484.2L912.0 479.3L913.0 479.3L913.0 479.3L914.0 479.3L914.0 479.3L915.0 479.3L915.0 484.2L916.0 484.2L916.0 484.2L917.0 484.2L917.0 484.2L918.0 484.2L918.0 484.2L919.0 484.2L919.0 484.2L920.0 484.2L920.0 484.2L921.0 484.2L921.0 489.2L922.0 489.2L922.0 489.2L923.0 489.2L923.0 489.2L924.0 489.2L924.0 484.2L925.0 484.2L925.0 484.2L926.0 484.2L926.0 489.2L927.0 489.2L927.0 489.2L928.0 489.2L928.0 489.2L929.0 489.2L929.0 489.2L930.0 489.2L930.0 489.2L931.0 489.2L931.0 489.2L932.0 489.2L932.0 489.2L933.0 489.2L933.0 489.2L934.0 489.2L934.0 494.1L935.0 494.1L935.0 489.2L936.0 489.2L936.0 489.2L937.0 489.2L937.0 489.2L938.0 489.2L938.0 489.2L939.0 489.2L939.0 489.2L940.0 489.2L940.0 489.2L941.0 489.2L941.0 484.2L942.0 484.2L942.0 484.2L943.0 484.2L943.0 484.2L944.0 484.2L944.0 484.2L945.0 484.2L945.0 479.3L946.0 479.3L946.0 474.4L947.0 474.4L947.0 474.4L948.0 474.4L948.0 474.4L949.0 474.4L949.0 474.4L950.0 474.4L950.0 474.4L951.0 474.4L951.0 474.4L952.0 474.4L952.0 474.4L953.0 474.4L953.0 474.4L954.0 474.4L954.0 479.3L955.0 479.3L955.0 484.2L956.0 484.2L956.0 484.2L957.0 484.2L957.0 484.2L958.0 484.2L958.0 484.2L959.0 484.2L959.0 484.2L960.0 484.2L960.0 484.2L961.0 484.2L961.0 484.2L962.0 484.2L962.0 489.2L963.0 489.2L963.0 489.2L964.0 489.2L964.0 489.2L965.0 489.2L965.0 489.2L966.0 489.2L966.0 484.2L967.0 484.2L967.0 484.2L968.0 484.2L968.0 484.2L969.0 484.2L969.0 484.2L970.0 484.2L970.0 484.2L971.0 484.2L971.0 484.2L972.0 484.2L972.0 484.2L973.0 484.2L973.0 484.2L974.0 484.2L974.0 484.2L975.0 484.2L975.0 484.2L976.0 484.2L976.0 484.2L977.0 484.2L977.0 489.2L978.0 489.2L978.0 489.2L979.0 489.2L979.0 494.1L980.0 494.1L980.0 494.1L981.0 494.1L981.0 494.1L982.0 494.1L982.0 499.1L983.0 499.1L983.0 499.1L984.0 499.1L984.0 499.1L985.0 499.1L985.0 499.1L986.0 499.1L986.0 499.1L987.0 499.1L987.0 504.1L988.0 504.1L988.0 504.1L989.0 504.1L989.0 504.1L990.0 504.1L990.0 504.1L991.0 504.1L991.0 499.1L992.0 499.1L992.0 499.1L993.0 499.1L993.0 499.1L994.0 499.1L994.0 494.1L995.0 494.1L995.0 494.1L996.0 494.1L996.0 489.2L997.0 489.2L997.0 489.2L998.0 489.2L998.0 489.2L999.0 489.2L999.0 489.2L1000.0 489.2L1000.0 489.2L1001.0 489.2L1001.0 484.2L1002.0 484.2L1002.0 489.2L1003.0 489.2L1003.0 489.2L1004.0 489.2L1004.0 489.2L1005.0 489.2L1005.0 489.2L1006.0 489.2L1006.0 489.2L1007.0 489.2L1007.0 484.2L1008.0 484.2L1008.0 484.2L1009.0 484.2L1009.0 484.2L1010.0 484.2L1010.0 484.2L1011.0 484.2L1011.0 484.2L1012.0 484.2L1012.0 484.2L1013.0 484.2L1013.0 489.2L1014.0 489.2L1014.0 489.2L1015.0 489.2L1015.0 484.2L1016.0 484.2L1016.0 494.1L1017.0 494.1L1017.0 494.1L1018.0 494.1L1018.0 494.1L1019.0 494.1L1019.0 494.1L1020.0 494.1L1020.0 494.1L1021.0 494.1L1021.0 494.1L1022.0 494.1L1022.0 494.1L1023.0 494.1L1023.0 494.1L1024.0 494.1L1024.0 494.1L1025.0 494.1L1025.0 494.1L1026.0 494.1L1026.0 499.1L1027.0 499.1L1027.0 499.1L1028.0 499.1L1028.0 499.1L1029.0 499.1L1029.0 499.1L1030.0 499.1L1030.0 499.1L1031.0 499.1L1031.0 499.1L1032.0 499.1L1032.0 494.1L1033.0 494.1L1033.0 494.1L1034.0 494.1L1034.0 494.1L1035.0 494.1L1035.0 494.1L1036.0 494.1L1036.0 489.2L1037.0 489.2L1037.0 489.2L1038.0 489.2L1038.0 489.2L1039.0 489.2L1039.0 489.2L1040.0 489.2L1040.0 489.2L1041.0 489.2L1041.0 489.2L1042.0 489.2L1042.0 489.2L1043.0 489.2L1043.0 484.2L1044.0 484.2L1044.0 484.2L1045.0 484.2L1045.0 484.2L1046.0 484.2L1046.0 479.3L1047.0 479.3L1047.0 479.3L1048.0 479.3L1048.0 479.3L1049.0 479.3L1049.0 479.3L1050.0 479.3L1050.0 484.2L1051.0 484.2L1051.0 484.2L1052.0 484.2L1052.0 484.2L1053.0 484.2L1053.0 484.2L1054.0 484.2L1054.0 489.2L1055.0 489.2L1055.0 484.2L1056.0 484.2L1056.0 484.2L1057.0 484.2L1057.0 479.3L1058.0 479.3L1058.0 479.3L1059.0 479.3L1059.0 479.3L1060.0 479.3L1060.0 479.3L1061.0 479.3L1061.0 479.3L1062.0 479.3L1062.0 479.3L1063.0 479.3L1063.0 479.3L1064.0 479.3L1064.0 509.0Z"/></clipPath><clipPath id="rc"><path d="M103 509.0L103.0 538.7L104.0 538.7L104.0 538.7L105.0 538.7L105.0 538.7L106.0 538.7L106.0 538.7L107.0 538.7L107.0 538.7L108.0 538.7L108.0 538.7L109.0 538.7L109.0 538.7L110.0 538.7L110.0 538.7L111.0 538.7L111.0 543.6L112.0 543.6L112.0 543.6L113.0 543.6L113.0 543.6L114.0 543.6L114.0 538.7L115.0 538.7L115.0 538.7L116.0 538.7L116.0 538.7L117.0 538.7L117.0 538.7L118.0 538.7L118.0 538.7L119.0 538.7L119.0 538.7L120.0 538.7L120.0 533.8L121.0 533.8L121.0 533.8L122.0 533.8L122.0 533.8L123.0 533.8L123.0 528.8L124.0 528.8L124.0 528.8L125.0 528.8L125.0 528.8L126.0 528.8L126.0 528.8L127.0 528.8L127.0 528.8L128.0 528.8L128.0 528.8L129.0 528.8L129.0 528.8L130.0 528.8L130.0 518.9L131.0 518.9L131.0 518.9L132.0 518.9L132.0 518.9L133.0 518.9L133.0 514.0L134.0 514.0L134.0 514.0L135.0 514.0L135.0 514.0L136.0 514.0L136.0 514.0L137.0 514.0L137.0 518.9L138.0 518.9L138.0 518.9L139.0 518.9L139.0 523.9L140.0 523.9L140.0 523.9L141.0 523.9L141.0 523.9L142.0 523.9L142.0 528.8L143.0 528.8L143.0 528.8L144.0 528.8L144.0 528.8L145.0 528.8L145.0 523.9L146.0 523.9L146.0 523.9L147.0 523.9L147.0 523.9L148.0 523.9L148.0 528.8L149.0 528.8L149.0 528.8L150.0 528.8L150.0 528.8L151.0 528.8L151.0 533.8L152.0 533.8L152.0 533.8L153.0 533.8L153.0 533.8L154.0 533.8L154.0 538.7L155.0 538.7L155.0 538.7L156.0 538.7L156.0 538.7L157.0 538.7L157.0 538.7L158.0 538.7L158.0 538.7L159.0 538.7L159.0 538.7L160.0 538.7L160.0 538.7L161.0 538.7L161.0 543.6L162.0 543.6L162.0 543.6L163.0 543.6L163.0 543.6L164.0 543.6L164.0 543.6L165.0 543.6L165.0 543.6L166.0 543.6L166.0 543.6L167.0 543.6L167.0 533.8L168.0 533.8L168.0 533.8L169.0 533.8L169.0 533.8L170.0 533.8L170.0 533.8L171.0 533.8L171.0 533.8L172.0 533.8L172.0 533.8L173.0 533.8L173.0 523.9L174.0 523.9L174.0 523.9L175.0 523.9L175.0 523.9L176.0 523.9L176.0 523.9L177.0 523.9L177.0 523.9L178.0 523.9L178.0 523.9L179.0 523.9L179.0 518.9L180.0 518.9L180.0 518.9L181.0 518.9L181.0 523.9L182.0 523.9L182.0 523.9L183.0 523.9L183.0 523.9L184.0 523.9L184.0 528.8L185.0 528.8L185.0 528.8L186.0 528.8L186.0 528.8L187.0 528.8L187.0 533.8L188.0 533.8L188.0 533.8L189.0 533.8L189.0 533.8L190.0 533.8L190.0 538.7L191.0 538.7L191.0 538.7L192.0 538.7L192.0 538.7L193.0 538.7L193.0 538.7L194.0 538.7L194.0 538.7L195.0 538.7L195.0 538.7L196.0 538.7L196.0 548.6L197.0 548.6L197.0 548.6L198.0 548.6L198.0 548.6L199.0 548.6L199.0 548.6L200.0 548.6L200.0 543.6L201.0 543.6L201.0 543.6L202.0 543.6L202.0 543.6L203.0 543.6L203.0 538.7L204.0 538.7L204.0 538.7L205.0 538.7L205.0 538.7L206.0 538.7L206.0 533.8L207.0 533.8L207.0 533.8L208.0 533.8L208.0 533.8L209.0 533.8L209.0 528.8L210.0 528.8L210.0 528.8L211.0 528.8L211.0 528.8L212.0 528.8L212.0 533.8L213.0 533.8L213.0 533.8L214.0 533.8L214.0 533.8L215.0 533.8L215.0 528.8L216.0 528.8L216.0 528.8L217.0 528.8L217.0 528.8L218.0 528.8L218.0 533.8L219.0 533.8L219.0 533.8L220.0 533.8L220.0 533.8L221.0 533.8L221.0 543.6L222.0 543.6L222.0 543.6L223.0 543.6L223.0 543.6L224.0 543.6L224.0 543.6L225.0 543.6L225.0 538.7L226.0 538.7L226.0 538.7L227.0 538.7L227.0 538.7L228.0 538.7L228.0 533.8L229.0 533.8L229.0 533.8L230.0 533.8L230.0 533.8L231.0 533.8L231.0 528.8L232.0 528.8L232.0 528.8L233.0 528.8L233.0 528.8L234.0 528.8L234.0 533.8L235.0 533.8L235.0 533.8L236.0 533.8L236.0 533.8L237.0 533.8L237.0 528.8L238.0 528.8L238.0 528.8L239.0 528.8L239.0 528.8L240.0 528.8L240.0 533.8L241.0 533.8L241.0 533.8L242.0 533.8L242.0 533.8L243.0 533.8L243.0 538.7L244.0 538.7L244.0 538.7L245.0 538.7L245.0 538.7L246.0 538.7L246.0 538.7L247.0 538.7L247.0 538.7L248.0 538.7L248.0 538.7L249.0 538.7L249.0 543.6L250.0 543.6L250.0 543.6L251.0 543.6L251.0 543.6L252.0 543.6L252.0 543.6L253.0 543.6L253.0 548.6L254.0 548.6L254.0 548.6L255.0 548.6L255.0 548.6L256.0 548.6L256.0 548.6L257.0 548.6L257.0 548.6L258.0 548.6L258.0 548.6L259.0 548.6L259.0 548.6L260.0 548.6L260.0 548.6L261.0 548.6L261.0 548.6L262.0 548.6L262.0 543.6L263.0 543.6L263.0 543.6L264.0 543.6L264.0 543.6L265.0 543.6L265.0 543.6L266.0 543.6L266.0 543.6L267.0 543.6L267.0 543.6L268.0 543.6L268.0 538.7L269.0 538.7L269.0 538.7L270.0 538.7L270.0 538.7L271.0 538.7L271.0 543.6L272.0 543.6L272.0 543.6L273.0 543.6L273.0 543.6L274.0 543.6L274.0 538.7L275.0 538.7L275.0 538.7L276.0 538.7L276.0 538.7L277.0 538.7L277.0 533.8L278.0 533.8L278.0 533.8L279.0 533.8L279.0 533.8L280.0 533.8L280.0 533.8L281.0 533.8L281.0 533.8L282.0 533.8L282.0 533.8L283.0 533.8L283.0 533.8L284.0 533.8L284.0 538.7L285.0 538.7L285.0 538.7L286.0 538.7L286.0 538.7L287.0 538.7L287.0 543.6L288.0 543.6L288.0 543.6L289.0 543.6L289.0 543.6L290.0 543.6L290.0 528.8L291.0 528.8L291.0 528.8L292.0 528.8L292.0 528.8L293.0 528.8L293.0 528.8L294.0 528.8L294.0 528.8L295.0 528.8L295.0 528.8L296.0 528.8L296.0 528.8L297.0 528.8L297.0 528.8L298.0 528.8L298.0 528.8L299.0 528.8L299.0 533.8L300.0 533.8L300.0 533.8L301.0 533.8L301.0 533.8L302.0 533.8L302.0 528.8L303.0 528.8L303.0 528.8L304.0 528.8L304.0 523.9L305.0 523.9L305.0 523.9L306.0 523.9L306.0 523.9L307.0 523.9L307.0 523.9L308.0 523.9L308.0 523.9L309.0 523.9L309.0 523.9L310.0 523.9L310.0 523.9L311.0 523.9L311.0 523.9L312.0 523.9L312.0 523.9L313.0 523.9L313.0 523.9L314.0 523.9L314.0 523.9L315.0 523.9L315.0 523.9L316.0 523.9L316.0 518.9L317.0 518.9L317.0 518.9L318.0 518.9L318.0 514.0L319.0 514.0L319.0 514.0L320.0 514.0L320.0 514.0L321.0 514.0L321.0 523.9L322.0 523.9L322.0 523.9L323.0 523.9L323.0 523.9L324.0 523.9L324.0 523.9L325.0 523.9L325.0 523.9L326.0 523.9L326.0 523.9L327.0 523.9L327.0 523.9L328.0 523.9L328.0 523.9L329.0 523.9L329.0 518.9L330.0 518.9L330.0 523.9L331.0 523.9L331.0 523.9L332.0 523.9L332.0 528.8L333.0 528.8L333.0 533.8L334.0 533.8L334.0 533.8L335.0 533.8L335.0 533.8L336.0 533.8L336.0 533.8L337.0 533.8L337.0 533.8L338.0 533.8L338.0 533.8L339.0 533.8L339.0 533.8L340.0 533.8L340.0 533.8L341.0 533.8L341.0 538.7L342.0 538.7L342.0 538.7L343.0 538.7L343.0 543.6L344.0 543.6L344.0 548.6L345.0 548.6L345.0 548.6L346.0 548.6L346.0 548.6L347.0 548.6L347.0 548.6L348.0 548.6L348.0 548.6L349.0 548.6L349.0 548.6L350.0 548.6L350.0 548.6L351.0 548.6L351.0 543.6L352.0 543.6L352.0 543.6L353.0 543.6L353.0 543.6L354.0 543.6L354.0 548.6L355.0 548.6L355.0 548.6L356.0 548.6L356.0 548.6L357.0 548.6L357.0 548.6L358.0 548.6L358.0 543.6L359.0 543.6L359.0 543.6L360.0 543.6L360.0 533.8L361.0 533.8L361.0 533.8L362.0 533.8L362.0 533.8L363.0 533.8L363.0 533.8L364.0 533.8L364.0 533.8L365.0 533.8L365.0 538.7L366.0 538.7L366.0 538.7L367.0 538.7L367.0 538.7L368.0 538.7L368.0 538.7L369.0 538.7L369.0 538.7L370.0 538.7L370.0 538.7L371.0 538.7L371.0 538.7L372.0 538.7L372.0 538.7L373.0 538.7L373.0 538.7L374.0 538.7L374.0 533.8L375.0 533.8L375.0 538.7L376.0 538.7L376.0 538.7L377.0 538.7L377.0 543.6L378.0 543.6L378.0 543.6L379.0 543.6L379.0 543.6L380.0 543.6L380.0 538.7L381.0 538.7L381.0 538.7L382.0 538.7L382.0 533.8L383.0 533.8L383.0 533.8L384.0 533.8L384.0 533.8L385.0 533.8L385.0 533.8L386.0 533.8L386.0 533.8L387.0 533.8L387.0 533.8L388.0 533.8L388.0 528.8L389.0 528.8L389.0 523.9L390.0 523.9L390.0 523.9L391.0 523.9L391.0 523.9L392.0 523.9L392.0 523.9L393.0 523.9L393.0 523.9L394.0 523.9L394.0 518.9L395.0 518.9L395.0 518.9L396.0 518.9L396.0 514.0L397.0 514.0L397.0 514.0L398.0 514.0L398.0 514.0L399.0 514.0L399.0 518.9L400.0 518.9L400.0 523.9L401.0 523.9L401.0 523.9L402.0 523.9L402.0 518.9L403.0 518.9L403.0 518.9L404.0 518.9L404.0 518.9L405.0 518.9L405.0 523.9L406.0 523.9L406.0 523.9L407.0 523.9L407.0 523.9L408.0 523.9L408.0 528.8L409.0 528.8L409.0 528.8L410.0 528.8L410.0 533.8L411.0 533.8L411.0 538.7L412.0 538.7L412.0 538.7L413.0 538.7L413.0 543.6L414.0 543.6L414.0 543.6L415.0 543.6L415.0 543.6L416.0 543.6L416.0 543.6L417.0 543.6L417.0 543.6L418.0 543.6L418.0 538.7L419.0 538.7L419.0 538.7L420.0 538.7L420.0 538.7L421.0 538.7L421.0 538.7L422.0 538.7L422.0 538.7L423.0 538.7L423.0 538.7L424.0 538.7L424.0 533.8L425.0 533.8L425.0 533.8L426.0 533.8L426.0 533.8L427.0 533.8L427.0 528.8L428.0 528.8L428.0 528.8L429.0 528.8L429.0 528.8L430.0 528.8L430.0 523.9L431.0 523.9L431.0 523.9L432.0 523.9L432.0 523.9L433.0 523.9L433.0 523.9L434.0 523.9L434.0 523.9L435.0 523.9L435.0 523.9L436.0 523.9L436.0 528.8L437.0 528.8L437.0 528.8L438.0 528.8L438.0 528.8L439.0 528.8L439.0 533.8L440.0 533.8L440.0 533.8L441.0 533.8L441.0 533.8L442.0 533.8L442.0 533.8L443.0 533.8L443.0 533.8L444.0 533.8L444.0 533.8L445.0 533.8L445.0 533.8L446.0 533.8L446.0 533.8L447.0 533.8L447.0 533.8L448.0 533.8L448.0 533.8L449.0 533.8L449.0 533.8L450.0 533.8L450.0 533.8L451.0 533.8L451.0 533.8L452.0 533.8L452.0 533.8L453.0 533.8L453.0 533.8L454.0 533.8L454.0 533.8L455.0 533.8L455.0 533.8L456.0 533.8L456.0 533.8L457.0 533.8L457.0 533.8L458.0 533.8L458.0 538.7L459.0 538.7L459.0 538.7L460.0 538.7L460.0 538.7L461.0 538.7L461.0 538.7L462.0 538.7L462.0 538.7L463.0 538.7L463.0 538.7L464.0 538.7L464.0 538.7L465.0 538.7L465.0 538.7L466.0 538.7L466.0 538.7L467.0 538.7L467.0 543.6L468.0 543.6L468.0 543.6L469.0 543.6L469.0 538.7L470.0 538.7L470.0 538.7L471.0 538.7L471.0 538.7L472.0 538.7L472.0 538.7L473.0 538.7L473.0 538.7L474.0 538.7L474.0 538.7L475.0 538.7L475.0 543.6L476.0 543.6L476.0 543.6L477.0 543.6L477.0 543.6L478.0 543.6L478.0 538.7L479.0 538.7L479.0 538.7L480.0 538.7L480.0 533.8L481.0 533.8L481.0 533.8L482.0 533.8L482.0 533.8L483.0 533.8L483.0 533.8L484.0 533.8L484.0 538.7L485.0 538.7L485.0 538.7L486.0 538.7L486.0 538.7L487.0 538.7L487.0 538.7L488.0 538.7L488.0 538.7L489.0 538.7L489.0 538.7L490.0 538.7L490.0 538.7L491.0 538.7L491.0 533.8L492.0 533.8L492.0 528.8L493.0 528.8L493.0 528.8L494.0 528.8L494.0 528.8L495.0 528.8L495.0 528.8L496.0 528.8L496.0 528.8L497.0 528.8L497.0 528.8L498.0 528.8L498.0 533.8L499.0 533.8L499.0 533.8L500.0 533.8L500.0 533.8L501.0 533.8L501.0 528.8L502.0 528.8L502.0 528.8L503.0 528.8L503.0 528.8L504.0 528.8L504.0 528.8L505.0 528.8L505.0 528.8L506.0 528.8L506.0 528.8L507.0 528.8L507.0 523.9L508.0 523.9L508.0 523.9L509.0 523.9L509.0 528.8L510.0 528.8L510.0 528.8L511.0 528.8L511.0 528.8L512.0 528.8L512.0 523.9L513.0 523.9L513.0 528.8L514.0 528.8L514.0 528.8L515.0 528.8L515.0 528.8L516.0 528.8L516.0 528.8L517.0 528.8L517.0 528.8L518.0 528.8L518.0 528.8L519.0 528.8L519.0 528.8L520.0 528.8L520.0 528.8L521.0 528.8L521.0 528.8L522.0 528.8L522.0 528.8L523.0 528.8L523.0 523.9L524.0 523.9L524.0 528.8L525.0 528.8L525.0 528.8L526.0 528.8L526.0 528.8L527.0 528.8L527.0 528.8L528.0 528.8L528.0 528.8L529.0 528.8L529.0 528.8L530.0 528.8L530.0 533.8L531.0 533.8L531.0 533.8L532.0 533.8L532.0 528.8L533.0 528.8L533.0 528.8L534.0 528.8L534.0 528.8L535.0 528.8L535.0 528.8L536.0 528.8L536.0 528.8L537.0 528.8L537.0 533.8L538.0 533.8L538.0 538.7L539.0 538.7L539.0 538.7L540.0 538.7L540.0 543.6L541.0 543.6L541.0 543.6L542.0 543.6L542.0 543.6L543.0 543.6L543.0 538.7L544.0 538.7L544.0 538.7L545.0 538.7L545.0 538.7L546.0 538.7L546.0 543.6L547.0 543.6L547.0 538.7L548.0 538.7L548.0 538.7L549.0 538.7L549.0 538.7L550.0 538.7L550.0 538.7L551.0 538.7L551.0 533.8L552.0 533.8L552.0 533.8L553.0 533.8L553.0 533.8L554.0 533.8L554.0 533.8L555.0 533.8L555.0 528.8L556.0 528.8L556.0 528.8L557.0 528.8L557.0 528.8L558.0 528.8L558.0 523.9L559.0 523.9L559.0 523.9L560.0 523.9L560.0 523.9L561.0 523.9L561.0 523.9L562.0 523.9L562.0 523.9L563.0 523.9L563.0 523.9L564.0 523.9L564.0 523.9L565.0 523.9L565.0 518.9L566.0 518.9L566.0 523.9L567.0 523.9L567.0 523.9L568.0 523.9L568.0 528.8L569.0 528.8L569.0 533.8L570.0 533.8L570.0 533.8L571.0 533.8L571.0 533.8L572.0 533.8L572.0 533.8L573.0 533.8L573.0 533.8L574.0 533.8L574.0 533.8L575.0 533.8L575.0 533.8L576.0 533.8L576.0 533.8L577.0 533.8L577.0 533.8L578.0 533.8L578.0 533.8L579.0 533.8L579.0 538.7L580.0 538.7L580.0 533.8L581.0 533.8L581.0 533.8L582.0 533.8L582.0 533.8L583.0 533.8L583.0 533.8L584.0 533.8L584.0 533.8L585.0 533.8L585.0 538.7L586.0 538.7L586.0 528.8L587.0 528.8L587.0 528.8L588.0 528.8L588.0 528.8L589.0 528.8L589.0 528.8L590.0 528.8L590.0 528.8L591.0 528.8L591.0 528.8L592.0 528.8L592.0 528.8L593.0 528.8L593.0 523.9L594.0 523.9L594.0 528.8L595.0 528.8L595.0 528.8L596.0 528.8L596.0 528.8L597.0 528.8L597.0 528.8L598.0 528.8L598.0 528.8L599.0 528.8L599.0 528.8L600.0 528.8L600.0 523.9L601.0 523.9L601.0 523.9L602.0 523.9L602.0 528.8L603.0 528.8L603.0 528.8L604.0 528.8L604.0 528.8L605.0 528.8L605.0 528.8L606.0 528.8L606.0 528.8L607.0 528.8L607.0 528.8L608.0 528.8L608.0 528.8L609.0 528.8L609.0 528.8L610.0 528.8L610.0 528.8L611.0 528.8L611.0 528.8L612.0 528.8L612.0 528.8L613.0 528.8L613.0 528.8L614.0 528.8L614.0 528.8L615.0 528.8L615.0 528.8L616.0 528.8L616.0 528.8L617.0 528.8L617.0 528.8L618.0 528.8L618.0 528.8L619.0 528.8L619.0 528.8L620.0 528.8L620.0 528.8L621.0 528.8L621.0 518.9L622.0 518.9L622.0 523.9L623.0 523.9L623.0 523.9L624.0 523.9L624.0 523.9L625.0 523.9L625.0 528.8L626.0 528.8L626.0 528.8L627.0 528.8L627.0 528.8L628.0 528.8L628.0 528.8L629.0 528.8L629.0 528.8L630.0 528.8L630.0 523.9L631.0 523.9L631.0 523.9L632.0 523.9L632.0 523.9L633.0 523.9L633.0 523.9L634.0 523.9L634.0 523.9L635.0 523.9L635.0 523.9L636.0 523.9L636.0 528.8L637.0 528.8L637.0 528.8L638.0 528.8L638.0 533.8L639.0 533.8L639.0 533.8L640.0 533.8L640.0 533.8L641.0 533.8L641.0 528.8L642.0 528.8L642.0 528.8L643.0 528.8L643.0 528.8L644.0 528.8L644.0 528.8L645.0 528.8L645.0 528.8L646.0 528.8L646.0 523.9L647.0 523.9L647.0 523.9L648.0 523.9L648.0 523.9L649.0 523.9L649.0 523.9L650.0 523.9L650.0 523.9L651.0 523.9L651.0 523.9L652.0 523.9L652.0 528.8L653.0 528.8L653.0 518.9L654.0 518.9L654.0 518.9L655.0 518.9L655.0 518.9L656.0 518.9L656.0 523.9L657.0 523.9L657.0 523.9L658.0 523.9L658.0 523.9L659.0 523.9L659.0 523.9L660.0 523.9L660.0 523.9L661.0 523.9L661.0 528.8L662.0 528.8L662.0 528.8L663.0 528.8L663.0 533.8L664.0 533.8L664.0 533.8L665.0 533.8L665.0 533.8L666.0 533.8L666.0 533.8L667.0 533.8L667.0 533.8L668.0 533.8L668.0 533.8L669.0 533.8L669.0 538.7L670.0 538.7L670.0 533.8L671.0 533.8L671.0 533.8L672.0 533.8L672.0 533.8L673.0 533.8L673.0 533.8L674.0 533.8L674.0 533.8L675.0 533.8L675.0 528.8L676.0 528.8L676.0 528.8L677.0 528.8L677.0 528.8L678.0 528.8L678.0 528.8L679.0 528.8L679.0 528.8L680.0 528.8L680.0 528.8L681.0 528.8L681.0 528.8L682.0 528.8L682.0 528.8L683.0 528.8L683.0 528.8L684.0 528.8L684.0 528.8L685.0 528.8L685.0 528.8L686.0 528.8L686.0 528.8L687.0 528.8L687.0 528.8L688.0 528.8L688.0 528.8L689.0 528.8L689.0 533.8L690.0 533.8L690.0 533.8L691.0 533.8L691.0 538.7L692.0 538.7L692.0 543.6L693.0 543.6L693.0 543.6L694.0 543.6L694.0 548.6L695.0 548.6L695.0 548.6L696.0 548.6L696.0 548.6L697.0 548.6L697.0 548.6L698.0 548.6L698.0 548.6L699.0 548.6L699.0 548.6L700.0 548.6L700.0 553.5L701.0 553.5L701.0 548.6L702.0 548.6L702.0 543.6L703.0 543.6L703.0 543.6L704.0 543.6L704.0 543.6L705.0 543.6L705.0 538.7L706.0 538.7L706.0 538.7L707.0 538.7L707.0 538.7L708.0 538.7L708.0 538.7L709.0 538.7L709.0 538.7L710.0 538.7L710.0 538.7L711.0 538.7L711.0 538.7L712.0 538.7L712.0 533.8L713.0 533.8L713.0 528.8L714.0 528.8L714.0 528.8L715.0 528.8L715.0 528.8L716.0 528.8L716.0 523.9L717.0 523.9L717.0 523.9L718.0 523.9L718.0 523.9L719.0 523.9L719.0 523.9L720.0 523.9L720.0 523.9L721.0 523.9L721.0 523.9L722.0 523.9L722.0 523.9L723.0 523.9L723.0 523.9L724.0 523.9L724.0 528.8L725.0 528.8L725.0 528.8L726.0 528.8L726.0 523.9L727.0 523.9L727.0 523.9L728.0 523.9L728.0 523.9L729.0 523.9L729.0 518.9L730.0 518.9L730.0 518.9L731.0 518.9L731.0 518.9L732.0 518.9L732.0 523.9L733.0 523.9L733.0 523.9L734.0 523.9L734.0 523.9L735.0 523.9L735.0 518.9L736.0 518.9L736.0 518.9L737.0 518.9L737.0 518.9L738.0 518.9L738.0 523.9L739.0 523.9L739.0 523.9L740.0 523.9L740.0 523.9L741.0 523.9L741.0 518.9L742.0 518.9L742.0 518.9L743.0 518.9L743.0 518.9L744.0 518.9L744.0 518.9L745.0 518.9L745.0 518.9L746.0 518.9L746.0 523.9L747.0 523.9L747.0 528.8L748.0 528.8L748.0 528.8L749.0 528.8L749.0 528.8L750.0 528.8L750.0 528.8L751.0 528.8L751.0 528.8L752.0 528.8L752.0 528.8L753.0 528.8L753.0 528.8L754.0 528.8L754.0 533.8L755.0 533.8L755.0 533.8L756.0 533.8L756.0 533.8L757.0 533.8L757.0 533.8L758.0 533.8L758.0 538.7L759.0 538.7L759.0 538.7L760.0 538.7L760.0 538.7L761.0 538.7L761.0 538.7L762.0 538.7L762.0 538.7L763.0 538.7L763.0 543.6L764.0 543.6L764.0 543.6L765.0 543.6L765.0 538.7L766.0 538.7L766.0 538.7L767.0 538.7L767.0 538.7L768.0 538.7L768.0 533.8L769.0 533.8L769.0 533.8L770.0 533.8L770.0 533.8L771.0 533.8L771.0 533.8L772.0 533.8L772.0 528.8L773.0 528.8L773.0 528.8L774.0 528.8L774.0 528.8L775.0 528.8L775.0 528.8L776.0 528.8L776.0 528.8L777.0 528.8L777.0 528.8L778.0 528.8L778.0 528.8L779.0 528.8L779.0 528.8L780.0 528.8L780.0 523.9L781.0 523.9L781.0 523.9L782.0 523.9L782.0 523.9L783.0 523.9L783.0 523.9L784.0 523.9L784.0 523.9L785.0 523.9L785.0 528.8L786.0 528.8L786.0 528.8L787.0 528.8L787.0 528.8L788.0 528.8L788.0 533.8L789.0 533.8L789.0 533.8L790.0 533.8L790.0 533.8L791.0 533.8L791.0 538.7L792.0 538.7L792.0 538.7L793.0 538.7L793.0 538.7L794.0 538.7L794.0 538.7L795.0 538.7L795.0 538.7L796.0 538.7L796.0 538.7L797.0 538.7L797.0 538.7L798.0 538.7L798.0 538.7L799.0 538.7L799.0 538.7L800.0 538.7L800.0 538.7L801.0 538.7L801.0 538.7L802.0 538.7L802.0 538.7L803.0 538.7L803.0 538.7L804.0 538.7L804.0 533.8L805.0 533.8L805.0 528.8L806.0 528.8L806.0 528.8L807.0 528.8L807.0 528.8L808.0 528.8L808.0 528.8L809.0 528.8L809.0 528.8L810.0 528.8L810.0 528.8L811.0 528.8L811.0 528.8L812.0 528.8L812.0 528.8L813.0 528.8L813.0 528.8L814.0 528.8L814.0 533.8L815.0 533.8L815.0 533.8L816.0 533.8L816.0 538.7L817.0 538.7L817.0 538.7L818.0 538.7L818.0 538.7L819.0 538.7L819.0 543.6L820.0 543.6L820.0 543.6L821.0 543.6L821.0 543.6L822.0 543.6L822.0 548.6L823.0 548.6L823.0 548.6L824.0 548.6L824.0 548.6L825.0 548.6L825.0 548.6L826.0 548.6L826.0 548.6L827.0 548.6L827.0 548.6L828.0 548.6L828.0 548.6L829.0 548.6L829.0 548.6L830.0 548.6L830.0 543.6L831.0 543.6L831.0 543.6L832.0 543.6L832.0 538.7L833.0 538.7L833.0 538.7L834.0 538.7L834.0 538.7L835.0 538.7L835.0 533.8L836.0 533.8L836.0 533.8L837.0 533.8L837.0 533.8L838.0 533.8L838.0 533.8L839.0 533.8L839.0 533.8L840.0 533.8L840.0 533.8L841.0 533.8L841.0 533.8L842.0 533.8L842.0 533.8L843.0 533.8L843.0 533.8L844.0 533.8L844.0 533.8L845.0 533.8L845.0 533.8L846.0 533.8L846.0 533.8L847.0 533.8L847.0 538.7L848.0 538.7L848.0 538.7L849.0 538.7L849.0 538.7L850.0 538.7L850.0 538.7L851.0 538.7L851.0 538.7L852.0 538.7L852.0 533.8L853.0 533.8L853.0 538.7L854.0 538.7L854.0 538.7L855.0 538.7L855.0 538.7L856.0 538.7L856.0 533.8L857.0 533.8L857.0 533.8L858.0 533.8L858.0 533.8L859.0 533.8L859.0 533.8L860.0 533.8L860.0 528.8L861.0 528.8L861.0 528.8L862.0 528.8L862.0 523.9L863.0 523.9L863.0 528.8L864.0 528.8L864.0 528.8L865.0 528.8L865.0 528.8L866.0 528.8L866.0 528.8L867.0 528.8L867.0 533.8L868.0 533.8L868.0 533.8L869.0 533.8L869.0 538.7L870.0 538.7L870.0 538.7L871.0 538.7L871.0 538.7L872.0 538.7L872.0 533.8L873.0 533.8L873.0 533.8L874.0 533.8L874.0 533.8L875.0 533.8L875.0 533.8L876.0 533.8L876.0 533.8L877.0 533.8L877.0 543.6L878.0 543.6L878.0 543.6L879.0 543.6L879.0 543.6L880.0 543.6L880.0 543.6L881.0 543.6L881.0 543.6L882.0 543.6L882.0 543.6L883.0 543.6L883.0 543.6L884.0 543.6L884.0 543.6L885.0 543.6L885.0 538.7L886.0 538.7L886.0 538.7L887.0 538.7L887.0 538.7L888.0 538.7L888.0 538.7L889.0 538.7L889.0 538.7L890.0 538.7L890.0 533.8L891.0 533.8L891.0 533.8L892.0 533.8L892.0 533.8L893.0 533.8L893.0 538.7L894.0 538.7L894.0 538.7L895.0 538.7L895.0 538.7L896.0 538.7L896.0 533.8L897.0 533.8L897.0 533.8L898.0 533.8L898.0 533.8L899.0 533.8L899.0 533.8L900.0 533.8L900.0 533.8L901.0 533.8L901.0 533.8L902.0 533.8L902.0 533.8L903.0 533.8L903.0 528.8L904.0 528.8L904.0 528.8L905.0 528.8L905.0 528.8L906.0 528.8L906.0 528.8L907.0 528.8L907.0 533.8L908.0 533.8L908.0 533.8L909.0 533.8L909.0 533.8L910.0 533.8L910.0 533.8L911.0 533.8L911.0 533.8L912.0 533.8L912.0 528.8L913.0 528.8L913.0 528.8L914.0 528.8L914.0 528.8L915.0 528.8L915.0 533.8L916.0 533.8L916.0 533.8L917.0 533.8L917.0 533.8L918.0 533.8L918.0 533.8L919.0 533.8L919.0 533.8L920.0 533.8L920.0 533.8L921.0 533.8L921.0 538.7L922.0 538.7L922.0 538.7L923.0 538.7L923.0 538.7L924.0 538.7L924.0 533.8L925.0 533.8L925.0 533.8L926.0 533.8L926.0 538.7L927.0 538.7L927.0 538.7L928.0 538.7L928.0 538.7L929.0 538.7L929.0 538.7L930.0 538.7L930.0 538.7L931.0 538.7L931.0 538.7L932.0 538.7L932.0 538.7L933.0 538.7L933.0 538.7L934.0 538.7L934.0 543.6L935.0 543.6L935.0 538.7L936.0 538.7L936.0 538.7L937.0 538.7L937.0 538.7L938.0 538.7L938.0 538.7L939.0 538.7L939.0 538.7L940.0 538.7L940.0 538.7L941.0 538.7L941.0 533.8L942.0 533.8L942.0 533.8L943.0 533.8L943.0 533.8L944.0 533.8L944.0 533.8L945.0 533.8L945.0 528.8L946.0 528.8L946.0 523.9L947.0 523.9L947.0 523.9L948.0 523.9L948.0 523.9L949.0 523.9L949.0 523.9L950.0 523.9L950.0 523.9L951.0 523.9L951.0 523.9L952.0 523.9L952.0 523.9L953.0 523.9L953.0 523.9L954.0 523.9L954.0 528.8L955.0 528.8L955.0 533.8L956.0 533.8L956.0 533.8L957.0 533.8L957.0 533.8L958.0 533.8L958.0 533.8L959.0 533.8L959.0 533.8L960.0 533.8L960.0 533.8L961.0 533.8L961.0 533.8L962.0 533.8L962.0 538.7L963.0 538.7L963.0 538.7L964.0 538.7L964.0 538.7L965.0 538.7L965.0 538.7L966.0 538.7L966.0 533.8L967.0 533.8L967.0 533.8L968.0 533.8L968.0 533.8L969.0 533.8L969.0 533.8L970.0 533.8L970.0 533.8L971.0 533.8L971.0 533.8L972.0 533.8L972.0 533.8L973.0 533.8L973.0 533.8L974.0 533.8L974.0 533.8L975.0 533.8L975.0 533.8L976.0 533.8L976.0 533.8L977.0 533.8L977.0 538.7L978.0 538.7L978.0 538.7L979.0 538.7L979.0 543.6L980.0 543.6L980.0 543.6L981.0 543.6L981.0 543.6L982.0 543.6L982.0 548.6L983.0 548.6L983.0 548.6L984.0 548.6L984.0 548.6L985.0 548.6L985.0 548.6L986.0 548.6L986.0 548.6L987.0 548.6L987.0 553.5L988.0 553.5L988.0 553.5L989.0 553.5L989.0 553.5L990.0 553.5L990.0 553.5L991.0 553.5L991.0 548.6L992.0 548.6L992.0 548.6L993.0 548.6L993.0 548.6L994.0 548.6L994.0 543.6L995.0 543.6L995.0 543.6L996.0 543.6L996.0 538.7L997.0 538.7L997.0 538.7L998.0 538.7L998.0 538.7L999.0 538.7L999.0 538.7L1000.0 538.7L1000.0 538.7L1001.0 538.7L1001.0 533.8L1002.0 533.8L1002.0 538.7L1003.0 538.7L1003.0 538.7L1004.0 538.7L1004.0 538.7L1005.0 538.7L1005.0 538.7L1006.0 538.7L1006.0 538.7L1007.0 538.7L1007.0 533.8L1008.0 533.8L1008.0 533.8L1009.0 533.8L1009.0 533.8L1010.0 533.8L1010.0 533.8L1011.0 533.8L1011.0 533.8L1012.0 533.8L1012.0 533.8L1013.0 533.8L1013.0 538.7L1014.0 538.7L1014.0 538.7L1015.0 538.7L1015.0 533.8L1016.0 533.8L1016.0 543.6L1017.0 543.6L1017.0 543.6L1018.0 543.6L1018.0 543.6L1019.0 543.6L1019.0 543.6L1020.0 543.6L1020.0 543.6L1021.0 543.6L1021.0 543.6L1022.0 543.6L1022.0 543.6L1023.0 543.6L1023.0 543.6L1024.0 543.6L1024.0 543.6L1025.0 543.6L1025.0 543.6L1026.0 543.6L1026.0 548.6L1027.0 548.6L1027.0 548.6L1028.0 548.6L1028.0 548.6L1029.0 548.6L1029.0 548.6L1030.0 548.6L1030.0 548.6L1031.0 548.6L1031.0 548.6L1032.0 548.6L1032.0 543.6L1033.0 543.6L1033.0 543.6L1034.0 543.6L1034.0 543.6L1035.0 543.6L1035.0 543.6L1036.0 543.6L1036.0 538.7L1037.0 538.7L1037.0 538.7L1038.0 538.7L1038.0 538.7L1039.0 538.7L1039.0 538.7L1040.0 538.7L1040.0 538.7L1041.0 538.7L1041.0 538.7L1042.0 538.7L1042.0 538.7L1043.0 538.7L1043.0 533.8L1044.0 533.8L1044.0 533.8L1045.0 533.8L1045.0 533.8L1046.0 533.8L1046.0 528.8L1047.0 528.8L1047.0 528.8L1048.0 528.8L1048.0 528.8L1049.0 528.8L1049.0 528.8L1050.0 528.8L1050.0 533.8L1051.0 533.8L1051.0 533.8L1052.0 533.8L1052.0 533.8L1053.0 533.8L1053.0 533.8L1054.0 533.8L1054.0 538.7L1055.0 538.7L1055.0 533.8L1056.0 533.8L1056.0 533.8L1057.0 533.8L1057.0 528.8L1058.0 528.8L1058.0 528.8L1059.0 528.8L1059.0 528.8L1060.0 528.8L1060.0 528.8L1061.0 528.8L1061.0 528.8L1062.0 528.8L1062.0 528.8L1063.0 528.8L1063.0 528.8L1064.0 528.8L1064.0 509.0Z"/></clipPath>
<path d="M105.6 460V558 M111.0 460V558 M116.5 460V558 M121.9 460V558 M127.4 460V558 M132.8 460V558 M138.2 460V558 M143.7 460V558 M149.1 460V558 M154.6 460V558 M160.0 460V558 M165.4 460V558 M170.9 460V558 M176.3 460V558 M181.8 460V558 M187.2 460V558 M192.6 460V558 M198.1 460V558 M203.5 460V558 M209.0 460V558 M214.4 460V558 M219.8 460V558 M225.3 460V558 M230.7 460V558 M236.2 460V558 M241.6 460V558 M247.0 460V558 M252.5 460V558 M257.9 460V558 M263.4 460V558 M268.8 460V558 M274.2 460V558 M279.7 460V558 M285.1 460V558 M290.6 460V558 M296.0 460V558 M301.4 460V558 M306.9 460V558 M312.3 460V558 M317.8 460V558 M323.2 460V558 M328.6 460V558 M334.1 460V558 M339.5 460V558 M345.0 460V558 M350.4 460V558 M355.8 460V558 M361.3 460V558 M366.7 460V558 M372.2 460V558 M377.6 460V558 M383.0 460V558 M388.5 460V558 M393.9 460V558 M399.4 460V558 M404.8 460V558 M410.2 460V558 M415.7 460V558 M421.1 460V558 M426.6 460V558 M432.0 460V558 M437.4 460V558 M442.9 460V558 M448.3 460V558 M453.8 460V558 M459.2 460V558 M464.6 460V558 M470.1 460V558 M475.5 460V558 M481.0 460V558 M486.4 460V558 M491.8 460V558 M497.3 460V558 M502.7 460V558 M508.2 460V558 M513.6 460V558 M519.0 460V558 M524.5 460V558 M529.9 460V558 M535.4 460V558 M540.8 460V558 M546.2 460V558 M551.7 460V558 M557.1 460V558 M562.6 460V558 M568.0 460V558 M573.4 460V558 M578.9 460V558 M584.3 460V558 M589.8 460V558 M595.2 460V558 M600.6 460V558 M606.1 460V558 M611.5 460V558 M617.0 460V558 M622.4 460V558 M627.8 460V558 M633.3 460V558 M638.7 460V558 M644.2 460V558 M649.6 460V558 M655.0 460V558 M660.5 460V558 M665.9 460V558 M671.4 460V558 M676.8 460V558 M682.2 460V558 M687.7 460V558 M693.1 460V558 M698.6 460V558 M704.0 460V558 M709.4 460V558 M714.9 460V558 M720.3 460V558 M725.8 460V558 M731.2 460V558 M736.6 460V558 M742.1 460V558 M747.5 460V558 M753.0 460V558 M758.4 460V558 M763.8 460V558 M769.3 460V558 M774.7 460V558 M780.2 460V558 M785.6 460V558 M791.0 460V558 M796.5 460V558 M801.9 460V558 M807.4 460V558 M812.8 460V558 M818.2 460V558 M823.7 460V558 M829.1 460V558 M834.6 460V558 M840.0 460V558 M845.4 460V558 M850.9 460V558 M856.3 460V558 M861.8 460V558 M867.2 460V558 M872.6 460V558 M878.1 460V558 M883.5 460V558 M889.0 460V558 M894.4 460V558 M899.8 460V558 M905.3 460V558 M910.7 460V558 M916.2 460V558 M921.6 460V558 M927.0 460V558 M932.5 460V558 M937.9 460V558 M943.4 460V558 M948.8 460V558 M954.2 460V558 M959.7 460V558 M965.1 460V558 M970.6 460V558 M976.0 460V558 M981.4 460V558 M986.9 460V558 M992.3 460V558 M997.8 460V558 M1003.2 460V558 M1008.6 460V558 M1014.1 460V558 M1019.5 460V558 M1025.0 460V558 M1030.4 460V558 M1035.8 460V558 M1041.3 460V558 M1046.7 460V558 M1052.2 460V558 M1057.6 460V558" stroke="#5c5cc6" stroke-width="1.5" clip-path="url(#bc)"/>
<path d="M105.6 460V558 M111.0 460V558 M116.5 460V558 M121.9 460V558 M127.4 460V558 M132.8 460V558 M138.2 460V558 M143.7 460V558 M149.1 460V558 M154.6 460V558 M160.0 460V558 M165.4 460V558 M170.9 460V558 M176.3 460V558 M181.8 460V558 M187.2 460V558 M192.6 460V558 M198.1 460V558 M203.5 460V558 M209.0 460V558 M214.4 460V558 M219.8 460V558 M225.3 460V558 M230.7 460V558 M236.2 460V558 M241.6 460V558 M247.0 460V558 M252.5 460V558 M257.9 460V558 M263.4 460V558 M268.8 460V558 M274.2 460V558 M279.7 460V558 M285.1 460V558 M290.6 460V558 M296.0 460V558 M301.4 460V558 M306.9 460V558 M312.3 460V558 M317.8 460V558 M323.2 460V558 M328.6 460V558 M334.1 460V558 M339.5 460V558 M345.0 460V558 M350.4 460V558 M355.8 460V558 M361.3 460V558 M366.7 460V558 M372.2 460V558 M377.6 460V558 M383.0 460V558 M388.5 460V558 M393.9 460V558 M399.4 460V558 M404.8 460V558 M410.2 460V558 M415.7 460V558 M421.1 460V558 M426.6 460V558 M432.0 460V558 M437.4 460V558 M442.9 460V558 M448.3 460V558 M453.8 460V558 M459.2 460V558 M464.6 460V558 M470.1 460V558 M475.5 460V558 M481.0 460V558 M486.4 460V558 M491.8 460V558 M497.3 460V558 M502.7 460V558 M508.2 460V558 M513.6 460V558 M519.0 460V558 M524.5 460V558 M529.9 460V558 M535.4 460V558 M540.8 460V558 M546.2 460V558 M551.7 460V558 M557.1 460V558 M562.6 460V558 M568.0 460V558 M573.4 460V558 M578.9 460V558 M584.3 460V558 M589.8 460V558 M595.2 460V558 M600.6 460V558 M606.1 460V558 M611.5 460V558 M617.0 460V558 M622.4 460V558 M627.8 460V558 M633.3 460V558 M638.7 460V558 M644.2 460V558 M649.6 460V558 M655.0 460V558 M660.5 460V558 M665.9 460V558 M671.4 460V558 M676.8 460V558 M682.2 460V558 M687.7 460V558 M693.1 460V558 M698.6 460V558 M704.0 460V558 M709.4 460V558 M714.9 460V558 M720.3 460V558 M725.8 460V558 M731.2 460V558 M736.6 460V558 M742.1 460V558 M747.5 460V558 M753.0 460V558 M758.4 460V558 M763.8 460V558 M769.3 460V558 M774.7 460V558 M780.2 460V558 M785.6 460V558 M791.0 460V558 M796.5 460V558 M801.9 460V558 M807.4 460V558 M812.8 460V558 M818.2 460V558 M823.7 460V558 M829.1 460V558 M834.6 460V558 M840.0 460V558 M845.4 460V558 M850.9 460V558 M856.3 460V558 M861.8 460V558 M867.2 460V558 M872.6 460V558 M878.1 460V558 M883.5 460V558 M889.0 460V558 M894.4 460V558 M899.8 460V558 M905.3 460V558 M910.7 460V558 M916.2 460V558 M921.6 460V558 M927.0 460V558 M932.5 460V558 M937.9 460V558 M943.4 460V558 M948.8 460V558 M954.2 460V558 M959.7 460V558 M965.1 460V558 M970.6 460V558 M976.0 460V558 M981.4 460V558 M986.9 460V558 M992.3 460V558 M997.8 460V558 M1003.2 460V558 M1008.6 460V558 M1014.1 460V558 M1019.5 460V558 M1025.0 460V558 M1030.4 460V558 M1035.8 460V558 M1041.3 460V558 M1046.7 460V558 M1052.2 460V558 M1057.6 460V558" stroke="#ff6464" stroke-width="1.5" clip-path="url(#rc)"/>
<rect x="103" y="508.4" width="1060" height="1.2" fill="#222"/>
<line x1="102.7" y1="229.1" x2="1160.5" y2="229.1" stroke="#46a646" stroke-width="2.5" stroke-dasharray="3.6 2.45"/>
<line x1="102.7" y1="277.4" x2="1160.5" y2="277.4" stroke="#ff4a4a" stroke-width="2.5" stroke-dasharray="3.6 2.45"/>
<path d="M103.0 175.5V212.5 M104.0 178.2V213.2 M105.0 189.9V213.5 M106.0 198.7V213.7 M107.0 199.2V214.2 M108.0 199.7V214.5 M109.0 200.3V214.5 M110.0 201.0V214.5 M111.0 204.2V219.3 M112.0 208.2V225.4 M113.0 211.5V231.2 M114.0 212.3V236.1 M115.0 213.2V241.0 M116.0 215.9V244.2 M117.0 220.0V246.1 M118.0 224.1V248.1 M119.0 222.1V246.1 M120.0 220.0V244.0 M121.0 216.9V239.4 M122.0 212.7V232.3 M123.0 208.5V225.1 M124.0 207.6V223.1 M125.0 206.7V221.2 M126.0 203.0V218.0 M127.0 195.2V213.1 M128.0 187.3V208.2 M129.0 180.0V203.1 M130.0 172.8V198.0 M131.0 166.9V192.0 M132.0 163.9V184.2 M133.0 161.0V176.3 M134.0 156.5V172.5 M135.0 151.4V170.4 M136.0 146.4V168.5 M137.0 142.1V167.1 M138.0 142.5V171.1 M139.0 149.8V183.3 M140.0 156.9V192.4 M141.0 163.3V194.3 M142.0 168.2V193.3 M143.0 169.6V185.4 M144.0 166.7V180.5 M145.0 159.6V178.5 M146.0 152.5V176.5 M147.0 149.5V171.6 M148.0 146.5V166.7 M149.0 143.9V163.3 M150.0 141.9V162.3 M151.0 139.9V161.3 M152.0 144.1V172.5 M153.0 149.9V186.7 M154.0 167.8V198.2 M155.0 185.7V209.7 M156.0 191.6V211.5 M157.0 197.5V213.4 M158.0 201.9V214.9 M159.0 203.8V216.1 M160.0 205.8V217.2 M161.0 206.2V224.0 M162.0 206.2V232.2 M163.0 204.4V235.2 M164.0 198.5V226.2 M165.0 192.6V217.2 M166.0 191.5V213.2 M167.0 192.6V211.2 M168.0 193.6V209.7 M169.0 194.6V209.7 M170.0 195.5V209.7 M171.0 196.5V213.9 M172.0 197.5V220.8 M173.0 198.5V227.7 M174.0 193.4V216.4 M175.0 188.3V205.1 M176.0 185.2V200.0 M177.0 184.2V201.0 M178.0 183.2V202.0 M179.0 179.0V207.6 M180.0 174.4V213.7 M181.0 174.2V215.0 M182.0 180.6V209.2 M183.0 187.0V203.3 M184.0 188.7V204.4 M185.0 189.1V207.4 M186.0 190.2V210.7 M187.0 193.8V215.8 M188.0 197.4V221.0 M189.0 198.5V220.3 M190.0 198.5V217.3 M191.0 198.8V214.7 M192.0 201.9V216.9 M193.0 205.0V219.1 M194.0 206.8V221.2 M195.0 207.7V223.1 M196.0 208.7V225.1 M197.0 209.7V231.0 M198.0 210.7V236.9 M199.0 210.9V240.5 M200.0 209.8V240.5 M201.0 208.8V240.5 M202.0 205.2V231.5 M203.0 201.2V221.5 M204.0 197.0V213.3 M205.0 191.8V209.4 M206.0 186.7V205.4 M207.0 187.3V207.0 M208.0 189.2V209.9 M209.0 191.6V213.1 M210.0 195.6V217.0 M211.0 199.5V220.9 M212.0 202.3V223.1 M213.0 204.4V224.2 M214.0 205.9V225.7 M215.0 202.9V231.6 M216.0 200.0V237.5 M217.0 196.5V237.4 M218.0 192.4V231.3 M219.0 188.3V225.1 M220.0 194.2V226.1 M221.0 200.1V227.1 M222.0 204.0V228.5 M223.0 205.0V230.4 M224.0 206.0V232.4 M225.0 209.5V234.4 M226.0 213.5V236.5 M227.0 216.7V238.5 M228.0 217.7V240.4 M229.0 218.7V242.4 M230.0 216.8V240.1 M231.0 213.8V236.1 M232.0 209.3V232.0 M233.0 199.5V228.0 M234.0 189.6V224.1 M235.0 190.4V226.7 M236.0 198.3V233.6 M237.0 206.2V240.5 M238.0 206.2V237.4 M239.0 206.2V234.3 M240.0 207.2V232.8 M241.0 209.1V232.8 M242.0 211.1V232.8 M243.0 218.7V240.2 M244.0 226.9V248.4 M245.0 232.6V253.7 M246.0 234.5V254.6 M247.0 236.5V255.6 M248.0 237.7V256.6 M249.0 238.7V257.6 M250.0 240.1V259.0 M251.0 243.1V262.1 M252.0 246.2V265.2 M253.0 249.2V267.5 M254.0 252.1V269.4 M255.0 255.0V271.4 M256.0 257.0V273.4 M257.0 259.1V275.5 M258.0 261.1V276.9 M259.0 263.1V277.9 M260.0 265.1V278.9 M261.0 266.0V279.3 M262.0 266.9V279.7 M263.0 268.1V281.4 M264.0 270.2V286.0 M265.0 272.2V290.6 M266.0 268.7V286.0 M267.0 263.7V279.1 M268.0 259.2V273.4 M269.0 256.2V272.4 M270.0 253.3V271.5 M271.0 253.3V272.3 M272.0 255.4V274.4 M273.0 257.6V276.5 M274.0 260.5V279.5 M275.0 263.4V282.4 M276.0 263.9V283.1 M277.0 261.8V281.6 M278.0 259.8V280.0 M279.0 255.8V275.6 M280.0 251.9V271.2 M281.0 245.8V266.8 M282.0 236.6V262.5 M283.0 237.1V262.3 M284.0 244.2V264.9 M285.0 248.8V267.7 M286.0 251.7V270.6 M287.0 254.7V273.6 M288.0 253.7V270.6 M289.0 252.7V267.7 M290.0 252.1V266.3 M291.0 252.1V267.4 M292.0 252.1V268.4 M293.0 253.0V268.5 M294.0 254.0V268.5 M295.0 252.6V266.3 M296.0 245.4V259.1 M297.0 238.2V251.9 M298.0 238.4V251.3 M299.0 240.3V252.3 M300.0 241.5V253.2 M301.0 239.5V253.7 M302.0 237.6V254.2 M303.0 233.1V252.3 M304.0 226.9V248.7 M305.0 221.7V245.3 M306.0 224.7V243.3 M307.0 227.6V241.3 M308.0 226.0V238.0 M309.0 219.9V233.4 M310.0 213.7V228.8 M311.0 210.8V225.4 M312.0 207.9V222.0 M313.0 206.1V220.7 M314.0 206.1V222.6 M315.0 206.1V224.6 M316.0 199.1V221.7 M317.0 190.4V217.6 M318.0 183.7V213.0 M319.0 181.6V207.3 M320.0 184.8V207.5 M321.0 193.3V213.6 M322.0 199.6V218.9 M323.0 202.7V223.0 M324.0 205.8V227.1 M325.0 203.4V224.0 M326.0 200.5V220.0 M327.0 197.5V216.4 M328.0 194.4V213.3 M329.0 191.3V210.2 M330.0 189.9V208.0 M331.0 188.9V206.1 M332.0 187.7V205.5 M333.0 185.9V210.3 M334.0 185.9V215.5 M335.0 201.7V223.0 M336.0 212.8V228.7 M337.0 216.7V231.6 M338.0 220.6V234.6 M339.0 223.0V237.6 M340.0 224.9V240.5 M341.0 227.9V244.7 M342.0 235.1V253.9 M343.0 242.3V263.1 M344.0 246.5V269.7 M345.0 249.5V275.1 M346.0 251.8V279.3 M347.0 248.8V272.7 M348.0 245.7V266.1 M349.0 245.7V264.6 M350.0 247.6V266.5 M351.0 249.5V268.5 M352.0 251.5V267.5 M353.0 253.5V266.5 M354.0 253.5V266.3 M355.0 250.4V267.4 M356.0 247.3V268.4 M357.0 245.2V266.7 M358.0 243.3V264.8 M359.0 240.7V262.2 M360.0 236.6V258.0 M361.0 232.5V253.9 M362.0 230.5V250.0 M363.0 229.0V246.0 M364.0 228.1V243.9 M365.0 229.6V248.8 M366.0 231.1V253.7 M367.0 234.1V256.3 M368.0 238.2V257.4 M369.0 241.9V258.5 M370.0 241.9V260.5 M371.0 241.9V262.4 M372.0 242.9V270.1 M373.0 245.0V283.4 M374.0 247.0V296.7 M375.0 242.1V282.9 M376.0 237.2V269.1 M377.0 236.2V263.2 M378.0 241.1V269.1 M379.0 246.0V275.0 M380.0 245.4V272.1 M381.0 243.3V267.0 M382.0 241.3V262.2 M383.0 239.4V258.2 M384.0 237.4V254.3 M385.0 236.8V253.1 M386.0 236.8V253.1 M387.0 236.6V252.9 M388.0 235.6V251.9 M389.0 234.6V250.9 M390.0 233.0V249.3 M391.0 231.1V247.4 M392.0 229.1V245.5 M393.0 220.9V239.3 M394.0 212.7V233.2 M395.0 204.7V225.7 M396.0 196.8V216.8 M397.0 188.9V208.0 M398.0 184.4V204.3 M399.0 180.3V201.2 M400.0 178.3V199.4 M401.0 179.3V199.4 M402.0 180.3V199.4 M403.0 179.7V201.0 M404.0 178.7V202.9 M405.0 178.1V204.3 M406.0 179.1V203.3 M407.0 180.2V202.2 M408.0 181.9V203.3 M409.0 183.8V205.3 M410.0 185.8V207.7 M411.0 187.7V213.3 M412.0 189.6V219.0 M413.0 189.5V218.7 M414.0 186.4V209.5 M415.0 183.3V200.3 M416.0 183.9V199.4 M417.0 184.9V199.4 M418.0 183.9V200.3 M419.0 178.3V203.4 M420.0 172.6V206.5 M421.0 175.0V203.2 M422.0 179.5V198.2 M423.0 182.6V194.1 M424.0 180.6V193.1 M425.0 178.7V192.1 M426.0 177.9V191.7 M427.0 177.9V191.7 M428.0 177.8V191.8 M429.0 176.8V192.8 M430.0 175.8V193.8 M431.0 174.0V192.5 M432.0 171.5V188.9 M433.0 168.9V185.3 M434.0 168.4V185.8 M435.0 168.0V186.3 M436.0 166.8V186.0 M437.0 164.7V184.6 M438.0 167.3V185.5 M439.0 173.0V188.1 M440.0 175.9V191.5 M441.0 176.9V195.4 M442.0 177.9V199.4 M443.0 178.9V198.4 M444.0 179.9V197.4 M445.0 180.9V197.6 M446.0 181.9V199.7 M447.0 182.9V201.7 M448.0 185.7V203.7 M449.0 188.6V205.7 M450.0 189.5V205.9 M451.0 185.4V201.7 M452.0 181.3V197.6 M453.0 183.6V200.7 M454.0 187.6V205.7 M455.0 192.1V210.6 M456.0 199.0V215.5 M457.0 205.8V220.4 M458.0 210.4V224.2 M459.0 213.5V227.3 M460.0 216.4V230.2 M461.0 217.4V231.2 M462.0 218.4V232.2 M463.0 218.4V231.7 M464.0 217.3V229.6 M465.0 216.3V227.5 M466.0 214.3V225.5 M467.0 212.4V223.6 M468.0 210.0V222.0 M469.0 207.1V221.1 M470.0 204.1V220.1 M471.0 202.7V219.1 M472.0 201.6V218.0 M473.0 201.2V218.5 M474.0 202.2V222.4 M475.0 203.2V226.3 M476.0 199.9V224.6 M477.0 194.8V220.6 M478.0 191.5V217.5 M479.0 195.4V218.5 M480.0 199.3V219.5 M481.0 200.9V218.1 M482.0 200.9V215.2 M483.0 200.9V212.2 M484.0 196.8V210.2 M485.0 192.7V208.1 M486.0 189.2V206.1 M487.0 186.3V204.1 M488.0 183.3V202.1 M489.0 183.0V203.8 M490.0 183.0V205.9 M491.0 184.2V207.5 M492.0 187.1V208.4 M493.0 190.1V209.4 M494.0 189.9V209.6 M495.0 188.9V209.6 M496.0 187.9V209.2 M497.0 186.9V207.2 M498.0 185.9V205.1 M499.0 184.2V202.4 M500.0 182.3V199.5 M501.0 180.3V196.6 M502.0 178.8V194.6 M503.0 177.2V192.5 M504.0 176.9V193.5 M505.0 177.4V196.4 M506.0 177.9V199.4 M507.0 182.8V200.4 M508.0 187.7V201.3 M509.0 191.1V204.4 M510.0 192.2V210.5 M511.0 193.2V216.7 M512.0 199.5V219.1 M513.0 206.4V221.0 M514.0 211.5V222.7 M515.0 212.5V223.8 M516.0 213.5V224.8 M517.0 213.7V228.9 M518.0 213.7V233.9 M519.0 213.5V237.0 M520.0 212.5V233.0 M521.0 211.6V229.1 M522.0 208.1V225.1 M523.0 203.0V221.0 M524.0 198.7V217.3 M525.0 201.7V217.3 M526.0 204.6V217.3 M527.0 205.1V217.8 M528.0 203.0V218.9 M529.0 200.9V219.9 M530.0 205.8V223.8 M531.0 210.7V227.7 M532.0 214.9V230.9 M533.0 217.8V232.8 M534.0 220.8V234.8 M535.0 223.9V242.6 M536.0 226.9V251.8 M537.0 227.9V257.1 M538.0 224.0V253.2 M539.0 220.1V249.2 M540.0 224.6V249.4 M541.0 232.8V251.5 M542.0 239.5V252.9 M543.0 240.5V251.9 M544.0 241.5V250.9 M545.0 241.9V251.1 M546.0 241.9V252.1 M547.0 241.9V253.1 M548.0 238.8V253.1 M549.0 235.7V253.1 M550.0 235.2V253.1 M551.0 237.1V253.1 M552.0 239.1V253.1 M553.0 240.2V256.8 M554.0 241.3V260.9 M555.0 241.1V261.8 M556.0 239.2V257.9 M557.0 237.2V253.9 M558.0 236.8V252.3 M559.0 236.8V251.3 M560.0 236.2V249.9 M561.0 233.1V246.9 M562.0 230.0V243.8 M563.0 216.7V237.4 M564.0 206.9V233.1 M565.0 208.8V234.0 M566.0 210.8V235.0 M567.0 216.9V237.7 M568.0 224.1V240.7 M569.0 229.6V243.9 M570.0 231.2V247.4 M571.0 233.2V253.1 M572.0 235.1V259.0 M573.0 236.8V262.2 M574.0 237.9V259.1 M575.0 238.9V256.1 M576.0 239.1V257.8 M577.0 239.1V260.8 M578.0 239.3V262.3 M579.0 240.3V258.4 M580.0 241.3V254.5 M581.0 241.1V252.3 M582.0 240.0V251.2 M583.0 239.0V250.4 M584.0 238.0V251.4 M585.0 237.0V252.4 M586.0 234.5V254.4 M587.0 230.4V257.5 M588.0 226.3V260.6 M589.0 229.3V262.6 M590.0 232.2V264.5 M591.0 232.8V262.2 M592.0 229.9V253.3 M593.0 226.9V244.5 M594.0 226.3V241.9 M595.0 226.3V240.8 M596.0 226.6V239.8 M597.0 227.6V238.8 M598.0 228.6V237.8 M599.0 228.2V237.5 M600.0 227.1V237.5 M601.0 226.1V237.3 M602.0 225.1V236.3 M603.0 224.1V235.4 M604.0 224.3V237.4 M605.0 225.3V241.3 M606.0 226.3V245.2 M607.0 222.2V243.2 M608.0 218.1V241.1 M609.0 214.6V237.1 M610.0 211.7V231.2 M611.0 208.7V225.3 M612.0 209.3V223.8 M613.0 210.3V222.8 M614.0 208.9V221.4 M615.0 204.0V219.5 M616.0 199.1V217.5 M617.0 199.7V217.9 M618.0 201.7V218.8 M619.0 203.5V219.4 M620.0 204.5V218.4 M621.0 205.5V217.4 M622.0 204.4V215.7 M623.0 202.5V213.7 M624.0 200.5V211.8 M625.0 198.5V210.8 M626.0 196.4V209.8 M627.0 197.4V210.6 M628.0 200.3V212.5 M629.0 203.3V214.5 M630.0 201.3V212.5 M631.0 199.3V210.6 M632.0 197.3V208.6 M633.0 195.2V206.5 M634.0 193.2V204.5 M635.0 192.1V203.4 M636.0 191.2V202.4 M637.0 189.3V202.6 M638.0 185.1V205.7 M639.0 181.0V208.8 M640.0 181.0V205.5 M641.0 182.0V200.5 M642.0 181.8V195.8 M643.0 176.9V191.8 M644.0 172.0V187.9 M645.0 168.8V184.0 M646.0 166.9V180.2 M647.0 168.2V180.4 M648.0 171.8V183.2 M649.0 175.7V188.5 M650.0 179.6V194.4 M651.0 182.8V198.5 M652.0 182.8V195.5 M653.0 182.8V192.4 M654.0 181.4V190.8 M655.0 179.5V189.8 M656.0 178.0V189.2 M657.0 181.0V192.3 M658.0 184.1V195.4 M659.0 184.1V196.0 M660.0 182.2V195.0 M661.0 180.2V194.0 M662.0 184.2V197.0 M663.0 188.1V199.9 M664.0 191.3V202.5 M665.0 193.4V204.6 M666.0 195.4V206.6 M667.0 196.5V209.5 M668.0 197.4V212.4 M669.0 199.0V214.8 M670.0 202.1V215.9 M671.0 205.2V216.9 M672.0 205.0V216.3 M673.0 204.1V215.3 M674.0 202.9V214.3 M675.0 200.9V213.3 M676.0 198.9V212.3 M677.0 199.3V212.5 M678.0 201.4V213.6 M679.0 203.8V215.0 M680.0 208.7V219.9 M681.0 213.6V224.8 M682.0 217.1V228.8 M683.0 219.2V231.9 M684.0 221.2V235.0 M685.0 224.2V237.0 M686.0 227.1V238.9 M687.0 229.7V241.3 M688.0 231.6V244.2 M689.0 233.6V247.2 M690.0 236.5V250.3 M691.0 239.5V253.3 M692.0 242.9V256.4 M693.0 246.8V259.3 M694.0 250.7V262.2 M695.0 253.3V264.6 M696.0 255.4V266.6 M697.0 257.6V269.3 M698.0 260.6V274.2 M699.0 263.5V279.1 M700.0 267.7V283.2 M701.0 272.6V286.6 M702.0 277.5V290.0 M703.0 276.5V288.5 M704.0 275.4V287.0 M705.0 271.5V285.7 M706.0 264.6V284.7 M707.0 257.7V283.7 M708.0 249.9V274.7 M709.0 255.3V278.5 M710.0 269.6V291.3 M711.0 269.9V301.1 M712.0 266.9V310.2 M713.0 263.8V311.8 M714.0 260.9V296.2 M715.0 257.9V280.6 M716.0 255.6V274.5 M717.0 253.5V272.4 M718.0 251.9V270.6 M719.0 251.9V269.6 M720.0 251.9V268.7 M721.0 251.9V269.0 M722.0 251.9V270.1 M723.0 253.1V272.0 M724.0 256.2V275.1 M725.0 259.3V278.2 M726.0 261.4V282.0 M727.0 263.3V286.0 M728.0 263.5V286.3 M729.0 259.4V278.1 M730.0 255.3V269.9 M731.0 252.1V265.9 M732.0 249.2V263.0 M733.0 246.6V260.2 M734.0 245.6V258.2 M735.0 244.6V256.3 M736.0 241.8V258.6 M737.0 237.7V263.7 M738.0 233.8V267.4 M739.0 231.8V258.5 M740.0 229.9V249.6 M741.0 225.3V240.9 M742.0 218.2V232.4 M743.0 208.9V224.5 M744.0 198.7V216.8 M745.0 197.0V214.5 M746.0 198.9V214.5 M747.0 201.0V215.0 M748.0 204.1V220.1 M749.0 207.2V225.3 M750.0 211.4V229.7 M751.0 216.3V233.6 M752.0 221.2V237.5 M753.0 217.2V238.5 M754.0 213.3V239.5 M755.0 213.4V240.1 M756.0 219.5V240.1 M757.0 225.7V240.1 M758.0 227.2V241.0 M759.0 228.2V242.0 M760.0 229.2V243.3 M761.0 230.2V245.4 M762.0 231.2V247.4 M763.0 232.2V248.6 M764.0 233.2V249.5 M765.0 233.8V249.9 M766.0 232.8V247.9 M767.0 231.8V246.0 M768.0 230.2V244.6 M769.0 228.1V243.6 M770.0 226.4V242.6 M771.0 227.4V241.6 M772.0 228.4V240.6 M773.0 223.3V237.5 M774.0 212.0V232.4 M775.0 200.7V227.3 M776.0 198.7V223.4 M777.0 196.8V219.5 M778.0 194.4V216.7 M779.0 191.5V215.7 M780.0 188.5V214.7 M781.0 188.7V211.2 M782.0 189.8V207.2 M783.0 189.3V203.7 M784.0 185.3V201.7 M785.0 181.4V199.7 M786.0 183.8V201.3 M787.0 188.9V204.3 M788.0 193.8V207.6 M789.0 197.8V211.6 M790.0 201.7V215.5 M791.0 206.3V220.6 M792.0 211.2V226.5 M793.0 216.1V232.4 M794.0 220.2V238.6 M795.0 224.3V244.7 M796.0 227.3V246.3 M797.0 229.2V243.4 M798.0 231.2V240.4 M799.0 229.6V239.2 M800.0 227.5V238.1 M801.0 226.7V237.5 M802.0 227.7V237.5 M803.0 228.7V237.5 M804.0 228.1V237.5 M805.0 227.1V237.5 M806.0 226.1V237.3 M807.0 225.1V236.3 M808.0 224.0V235.3 M809.0 222.3V235.0 M810.0 220.4V235.0 M811.0 218.9V235.1 M812.0 222.0V236.1 M813.0 225.1V237.1 M814.0 228.1V239.9 M815.0 231.0V243.8 M816.0 234.0V247.8 M817.0 237.0V249.8 M818.0 239.9V251.7 M819.0 242.9V254.1 M820.0 246.0V257.2 M821.0 249.0V260.3 M822.0 250.2V265.9 M823.0 251.2V271.8 M824.0 252.2V274.7 M825.0 253.3V270.6 M826.0 254.3V266.5 M827.0 255.3V268.1 M828.0 256.2V271.0 M829.0 254.8V272.2 M830.0 244.0V266.3 M831.0 233.2V260.4 M832.0 227.1V254.3 M833.0 224.0V248.2 M834.0 221.3V242.5 M835.0 222.3V240.5 M836.0 223.2V238.5 M837.0 222.2V238.0 M838.0 219.1V239.1 M839.0 216.1V240.1 M840.0 221.0V241.1 M841.0 225.9V242.1 M842.0 229.3V242.7 M843.0 230.2V242.7 M844.0 231.2V242.7 M845.0 233.0V247.6 M846.0 235.1V253.7 M847.0 234.7V255.3 M848.0 228.8V246.5 M849.0 223.0V237.7 M850.0 220.1V233.6 M851.0 218.5V231.5 M852.0 218.2V230.7 M853.0 222.7V234.6 M854.0 227.1V238.5 M855.0 229.5V243.1 M856.0 230.4V248.0 M857.0 231.4V252.9 M858.0 230.4V247.8 M859.0 229.4V242.7 M860.0 226.4V238.6 M861.0 221.5V235.7 M862.0 216.6V232.7 M863.0 217.0V232.4 M864.0 218.0V232.4 M865.0 219.8V234.0 M866.0 222.7V237.9 M867.0 225.7V241.9 M868.0 229.4V245.8 M869.0 233.4V249.8 M870.0 236.5V253.3 M871.0 236.5V255.3 M872.0 236.5V257.4 M873.0 238.6V258.0 M874.0 241.5V258.0 M875.0 244.2V258.2 M876.0 244.5V260.4 M877.0 244.7V262.5 M878.0 245.7V264.2 M879.0 247.8V265.2 M880.0 249.8V266.2 M881.0 251.8V267.2 M882.0 253.7V268.2 M883.0 252.8V271.2 M884.0 245.1V278.9 M885.0 245.7V285.1 M886.0 265.6V288.0 M887.0 276.6V291.9 M888.0 278.5V296.8 M889.0 280.5V301.7 M890.0 279.8V298.5 M891.0 278.7V294.4 M892.0 278.5V292.3 M893.0 279.5V293.3 M894.0 280.5V294.3 M895.0 282.3V296.1 M896.0 284.2V298.0 M897.0 285.2V299.4 M898.0 282.1V298.4 M899.0 279.0V297.4 M900.0 278.1V297.8 M901.0 278.1V298.7 M902.0 277.7V298.9 M903.0 273.6V291.7 M904.0 269.5V284.6 M905.0 269.1V282.9 M906.0 271.0V284.8 M907.0 273.0V286.8 M908.0 268.1V290.8 M909.0 263.2V294.7 M910.0 262.2V295.5 M911.0 267.4V291.3 M912.0 272.5V287.2 M913.0 273.9V288.6 M914.0 274.9V290.5 M915.0 275.3V291.6 M916.0 274.2V290.6 M917.0 273.2V289.6 M918.0 271.4V288.9 M919.0 269.4V288.2 M920.0 267.5V287.5 M921.0 265.5V286.9 M922.0 269.0V287.7 M923.0 273.1V288.8 M924.0 275.6V292.6 M925.0 275.6V300.4 M926.0 275.6V308.3 M927.0 276.4V304.4 M928.0 277.3V297.4 M929.0 278.3V292.1 M930.0 279.3V293.1 M931.0 280.4V294.2 M932.0 280.0V293.8 M933.0 279.0V292.8 M934.0 278.1V291.8 M935.0 278.1V290.8 M936.0 278.1V289.8 M937.0 278.7V290.6 M938.0 279.7V292.5 M939.0 280.7V294.5 M940.0 275.8V293.5 M941.0 270.9V292.5 M942.0 269.5V296.2 M943.0 273.6V307.0 M944.0 277.7V317.7 M945.0 277.2V307.7 M946.0 276.3V295.4 M947.0 274.4V285.6 M948.0 270.2V281.5 M949.0 266.1V277.4 M950.0 261.4V274.7 M951.0 256.6V272.2 M952.0 258.1V272.5 M953.0 262.4V273.9 M954.0 267.4V278.6 M955.0 272.5V283.7 M956.0 276.0V289.6 M957.0 276.9V296.4 M958.0 277.9V303.3 M959.0 275.0V300.8 M960.0 271.0V295.8 M961.0 267.7V290.9 M962.0 266.7V285.8 M963.0 265.6V280.6 M964.0 264.6V279.8 M965.0 263.7V280.8 M966.0 262.5V281.2 M967.0 259.4V276.1 M968.0 256.3V270.9 M969.0 255.7V269.5 M970.0 256.7V270.5 M971.0 257.7V271.5 M972.0 262.6V276.4 M973.0 267.5V281.3 M974.0 270.1V285.5 M975.0 269.0V288.6 M976.0 268.0V291.6 M977.0 272.3V294.6 M978.0 277.3V297.5 M979.0 286.1V305.3 M980.0 303.9V324.1 M981.0 309.9V337.1 M982.0 315.9V350.0 M983.0 318.3V351.0 M984.0 318.3V344.1 M985.0 319.3V339.1 M986.0 324.3V342.1 M987.0 329.3V345.1 M988.0 332.7V351.3 M989.0 335.7V358.3 M990.0 337.5V361.7 M991.0 337.5V359.6 M992.0 337.5V357.6 M993.0 336.5V355.6 M994.0 335.5V353.7 M995.0 331.5V352.3 M996.0 325.5V351.3 M997.0 320.5V349.5 M998.0 319.5V344.5 M999.0 318.5V339.5 M1000.0 315.9V335.3 M1001.0 312.9V331.3 M1002.0 311.5V329.3 M1003.0 312.5V330.3 M1004.0 313.5V331.3 M1005.0 316.5V331.3 M1006.0 319.5V331.3 M1007.0 317.7V330.1 M1008.0 312.7V328.1 M1009.0 309.7V327.1 M1010.0 314.7V330.1 M1011.0 319.7V333.1 M1012.0 323.9V336.9 M1013.0 327.9V340.9 M1014.0 331.5V345.7 M1015.0 334.5V351.6 M1016.0 337.5V357.6 M1017.0 329.5V352.6 M1018.0 321.5V347.7 M1019.0 323.6V354.0 M1020.0 332.4V367.8 M1021.0 350.9V385.8 M1022.0 373.4V405.6 M1023.0 378.4V410.6 M1024.0 383.4V415.6 M1025.0 384.2V421.2 M1026.0 382.2V427.2 M1027.0 380.6V430.8 M1028.0 380.6V424.8 M1029.0 380.6V418.8 M1030.0 380.6V416.8 M1031.0 380.6V415.8 M1032.0 378.6V410.4 M1033.0 373.6V398.4 M1034.0 368.6V386.4 M1035.0 357.6V381.4 M1036.0 346.7V376.4 M1037.0 343.5V372.0 M1038.0 345.5V368.0 M1039.0 347.1V364.6 M1040.0 347.1V363.6 M1041.0 347.1V362.7 M1042.0 348.3V372.1 M1043.0 347.2V378.1 M1044.0 335.9V360.4 M1045.0 329.1V348.4 M1046.0 333.1V349.4 M1047.0 337.1V350.4 M1048.0 338.4V351.4 M1049.0 339.4V352.4 M1050.0 341.9V355.9 M1051.0 345.9V361.8 M1052.0 349.3V366.8 M1053.0 347.3V362.8 M1054.0 345.3V358.8 M1055.0 343.3V356.2 M1056.0 341.3V354.3 M1057.0 339.0V352.3 M1058.0 336.0V350.3 M1059.0 333.0V348.3 M1060.0 331.8V347.2 M1061.0 330.8V346.2 M1062.0 331.3V347.7 M1063.0 332.7V350.5" stroke="#8a8a8a" stroke-width="1" fill="none"/>
<path d="M103.4 211.0V214.9 M108.2 212.8V216.5 M111.8 222.5V226.7 M113.0 229.5V234.8 M115.4 209.7V215.2 M123.8 203.9V209.5 M128.6 181.1V184.5 M129.8 171.8V175.9 M132.2 180.9V186.5 M134.6 152.0V155.1 M135.8 145.0V149.0 M137.0 139.9V143.8 M139.4 150.9V154.5 M141.8 193.2V199.6 M147.8 145.2V148.8 M151.4 162.2V168.3 M157.4 198.5V201.6 M163.4 198.9V203.8 M168.2 189.8V195.5 M171.8 217.7V222.2 M176.6 198.9V205.2 M193.4 218.3V222.5 M198.2 209.5V212.6 M200.6 208.3V210.9 M203.0 219.8V224.0 M210.2 193.7V198.0 M217.4 233.3V237.9 M219.8 224.2V229.3 M228.2 239.1V244.6 M229.4 240.9V244.4 M230.6 236.0V242.4 M233.0 197.7V201.2 M234.2 185.8V189.4 M235.4 227.7V232.1 M236.6 236.0V242.3 M252.2 264.1V267.4 M257.0 273.8V276.8 M260.6 261.2V267.3 M263.0 266.9V269.8 M266.6 280.2V283.2 M267.8 258.0V261.5 M271.4 249.7V255.9 M272.6 255.3V258.4 M277.4 279.2V284.5 M279.8 250.0V254.4 M290.6 249.6V253.8 M293.0 250.6V254.7 M297.8 235.8V239.7 M299.0 236.2V242.0 M303.8 247.7V251.2 M305.0 243.6V248.6 M306.2 221.4V226.9 M307.4 226.1V230.5 M308.6 219.6V224.0 M312.2 203.5V209.0 M319.4 203.4V207.4 M320.6 185.5V191.6 M325.4 200.7V204.0 M330.2 186.5V191.4 M332.6 206.7V211.4 M338.6 234.7V238.0 M341.0 224.9V229.6 M343.4 264.7V270.9 M348.2 263.0V266.4 M349.4 244.0V248.1 M350.6 266.0V272.1 M351.8 266.0V269.0 M357.8 241.1V245.4 M359.0 260.5V263.3 M360.2 255.5V259.5 M363.8 241.2V247.4 M365.0 247.1V250.7 M375.8 270.1V272.8 M378.2 240.7V243.8 M380.6 241.9V245.8 M384.2 233.6V238.7 M385.4 233.4V238.5 M389.0 230.7V236.3 M390.2 229.4V234.3 M391.4 228.3V232.0 M395.0 203.7V206.4 M399.8 176.4V179.8 M409.4 204.4V209.4 M414.2 206.0V211.7 M415.4 182.1V185.0 M422.6 193.6V196.8 M427.4 190.0V194.5 M431.0 190.8V193.4 M440.6 174.4V178.2 M441.8 196.9V202.3 M445.4 180.4V183.0 M450.2 203.3V209.4 M474.2 221.5V224.5 M475.4 201.2V204.7 M483.8 193.7V199.3 M489.8 181.6V184.7 M491.0 181.4V185.9 M494.6 207.9V212.9 M501.8 193.3V197.4 M507.8 199.4V204.4 M512.6 218.5V224.7 M517.4 229.2V234.0 M521.0 210.7V213.3 M523.4 217.6V221.1 M525.8 215.6V220.9 M530.6 205.7V210.5 M540.2 224.4V227.9 M545.0 249.4V255.1 M546.2 250.6V255.8 M555.8 256.9V260.8 M558.2 250.4V254.6 M560.6 233.3V236.0 M569.0 242.2V247.6 M570.2 246.7V252.9 M572.6 234.8V238.0 M573.8 258.1V261.3 M579.8 253.6V258.3 M585.8 233.7V237.0 M588.2 259.3V263.0 M591.8 253.4V256.4 M593.0 225.7V228.6 M594.2 240.0V245.3 M595.4 238.7V242.8 M597.8 236.3V240.7 M606.2 243.1V246.5 M608.6 212.6V217.5 M609.8 230.7V236.1 M612.2 221.9V227.8 M613.4 220.7V227.0 M625.4 208.7V212.3 M626.6 208.1V212.3 M630.2 199.6V202.6 M631.4 195.5V200.2 M635.0 189.3V193.8 M647.0 178.7V181.2 M655.4 187.7V191.5 M656.6 175.4V181.5 M673.4 199.7V205.4 M675.8 196.3V201.0 M678.2 212.1V215.0 M680.6 221.2V225.0 M681.8 212.3V218.4 M685.4 236.0V242.0 M689.0 229.3V235.3 M690.2 235.5V238.8 M691.4 252.9V256.9 M693.8 249.0V251.6 M696.2 251.6V257.5 M699.8 280.8V284.3 M701.0 284.9V288.2 M704.6 270.0V275.9 M707.0 256.0V259.4 M715.4 255.2V258.5 M723.8 272.8V276.9 M725.0 276.5V280.7 M728.6 279.7V282.3 M731.0 249.9V253.8 M732.2 260.7V265.9 M739.4 229.1V232.8 M740.6 225.5V229.9 M741.8 232.4V238.0 M744.2 213.6V216.1 M746.6 196.2V201.8 M750.2 228.7V232.5 M755.0 238.4V241.2 M757.4 238.7V241.2 M763.4 230.0V234.3 M765.8 246.6V251.6 M774.2 229.7V233.2 M776.6 196.5V199.3 M780.2 212.8V217.6 M781.4 186.9V190.8 M782.6 203.0V207.2 M788.6 208.3V214.0 M789.8 198.3V202.6 M791.0 202.3V208.0 M794.6 221.2V224.3 M795.8 222.8V228.6 M797.0 241.7V245.7 M799.4 226.5V230.4 M801.8 222.8V229.2 M803.0 225.9V230.4 M813.8 223.2V229.2 M818.6 251.2V257.6 M821.0 248.1V250.7 M822.2 248.8V252.1 M823.4 272.4V278.8 M827.0 251.5V257.0 M830.6 236.7V239.2 M831.8 253.9V259.2 M833.0 246.5V249.4 M841.4 240.8V243.7 M846.2 253.2V257.7 M852.2 216.5V220.8 M855.8 245.3V251.1 M860.6 235.1V241.6 M864.2 213.7V219.9 M865.4 217.0V222.7 M866.6 223.3V226.2 M873.8 239.9V242.6 M881.0 265.5V271.7 M882.2 252.9V255.8 M883.4 272.6V276.4 M893.0 291.6V296.2 M894.2 276.6V282.4 M897.8 280.5V284.4 M899.0 274.2V280.7 M905.0 267.3V270.8 M913.4 287.7V291.7 M919.4 286.2V290.9 M920.6 262.2V268.0 M925.4 272.7V277.3 M926.6 274.2V277.7 M930.2 291.7V295.7 M938.6 292.0V294.8 M942.2 296.7V300.0 M947.0 283.9V287.7 M953.0 272.2V275.1 M957.8 273.3V279.4 M959.0 299.1V305.4 M960.2 267.7V272.0 M962.6 281.0V286.6 M966.2 257.3V263.6 M968.6 252.4V257.0 M975.8 265.8V269.9 M977.0 292.9V296.3 M978.2 275.0V279.9 M984.2 316.6V320.0 M997.4 318.4V321.8 M1001.0 329.6V335.4 M1003.4 329.0V333.2 M1004.6 311.1V317.0 M1005.8 329.6V333.9 M1008.2 326.0V329.9 M1011.8 334.4V336.9 M1023.8 412.9V419.0 M1025.0 380.4V385.9 M1026.2 426.7V430.9 M1032.2 376.6V379.3 M1034.6 359.5V363.7 M1040.6 342.6V348.8 M1041.8 368.0V370.6 M1062.2 346.8V353.2" stroke="#777" stroke-width="0.9" fill="none"/>
<path d="M133.4 161.0V173.4 M150.2 144.6V159.1 M158.6 204.3V215.8 M159.8 206.2V216.8 M183.8 190.3V204.0 M210.2 198.0V217.6 M212.6 204.6V223.6 M241.4 209.8V230.2 M242.6 217.2V236.8 M248.6 238.5V256.8 M249.8 240.6V258.0 M259.4 263.9V277.3 M270.2 252.4V271.6 M271.4 254.9V272.0 M281.0 247.3V264.1 M294.2 255.9V267.3 M295.4 249.8V263.6 M299.0 240.1V250.6 M302.6 235.3V253.2 M307.4 229.5V238.9 M308.6 224.1V235.0 M309.8 214.8V228.2 M324.2 205.6V226.2 M326.6 199.8V215.1 M329.0 191.1V209.0 M348.2 246.4V262.5 M361.4 231.3V249.8 M372.2 245.1V270.8 M385.4 238.4V252.7 M387.8 237.2V252.1 M399.8 178.2V196.7 M402.2 180.8V199.3 M439.4 175.3V189.2 M444.2 181.9V195.7 M469.4 206.5V220.7 M480.2 202.4V220.0 M481.4 202.5V217.1 M498.2 185.4V203.0 M518.6 214.6V237.1 M537.8 228.2V252.0 M551.0 237.9V252.5 M559.4 238.1V249.4 M563.0 216.5V236.1 M569.0 231.4V242.4 M589.4 230.2V259.7 M599.0 228.1V237.7 M624.2 200.8V210.5 M625.4 197.4V209.6 M627.8 199.8V212.1 M659.0 185.2V195.5 M665.0 193.7V204.3 M666.2 195.8V206.6 M691.4 240.8V253.9 M701.0 273.4V286.3 M702.2 277.1V289.2 M709.4 263.3V280.8 M726.2 263.5V280.9 M731.0 253.0V265.3 M734.6 245.1V257.0 M745.4 198.9V213.4 M762.2 231.3V247.7 M764.6 235.9V248.2 M765.8 234.0V246.7 M783.8 187.2V200.2 M785.0 183.6V199.8 M798.2 231.6V240.3 M805.4 226.4V237.0 M806.6 226.5V236.0 M809.0 223.3V234.9 M818.6 242.3V253.2 M827.0 256.1V266.4 M831.8 229.4V251.3 M852.2 219.8V231.5 M872.6 237.8V258.0 M873.8 242.5V257.9 M878.6 248.5V264.3 M912.2 273.0V285.0 M925.4 278.8V300.1 M954.2 270.1V278.2 M956.6 276.3V293.0 M979.4 292.9V311.5 M981.8 314.4V342.7 M992.6 338.7V354.2 M995.0 331.8V349.3 M996.2 324.2V347.1 M1001.0 314.9V330.8 M1011.8 323.0V334.7 M1016.6 334.4V354.8 M1020.2 336.1V369.6 M1027.4 384.5V423.0 M1032.2 377.6V405.1 M1037.0 343.9V371.9 M1049.0 340.5V352.3" stroke="#aaa" stroke-width="1.25" fill="none"/>
<path d="M115.4 214.0V238.5 M117.8 224.8V244.6 M120.2 223.0V242.6 M122.6 210.3V227.5 M127.4 194.3V211.0 M140.6 160.8V193.8 M143.0 170.9V185.4 M146.6 153.2V171.0 M152.6 149.1V178.4 M155.0 186.7V209.7 M163.4 202.2V231.3 M177.8 183.3V202.0 M180.2 179.0V214.8 M186.2 190.6V210.6 M192.2 202.5V217.5 M200.6 209.7V238.9 M206.6 187.8V205.2 M218.6 193.0V224.1 M222.2 206.9V229.0 M233.0 201.5V225.9 M234.2 188.4V221.0 M247.4 236.9V253.4 M255.8 256.4V271.6 M257.0 260.2V275.4 M265.4 272.1V289.6 M272.6 258.9V272.8 M289.4 252.3V266.5 M296.6 240.8V253.8 M300.2 241.4V253.6 M303.8 227.9V249.7 M305.0 224.8V244.8 M311.0 212.2V224.5 M317.0 191.5V217.4 M320.6 189.9V211.1 M325.4 204.9V222.7 M327.8 195.7V213.8 M338.6 224.3V236.2 M360.2 238.0V256.2 M362.6 231.5V247.6 M366.2 231.3V253.6 M374.6 244.8V281.4 M377.0 236.4V261.2 M395.0 205.4V225.6 M397.4 187.0V205.1 M398.6 183.0V202.3 M401.0 182.1V197.5 M416.6 184.4V199.2 M420.2 174.1V207.4 M438.2 169.4V186.2 M440.6 178.5V194.0 M451.4 185.1V198.2 M471.8 202.9V217.6 M474.2 204.7V222.4 M475.4 203.5V224.2 M512.6 203.4V220.3 M524.6 200.4V217.6 M525.8 205.5V216.2 M528.2 202.3V219.4 M529.4 202.6V221.2 M536.6 232.1V256.8 M548.6 237.5V253.3 M549.8 234.8V252.0 M558.2 237.4V251.3 M576.2 241.5V258.6 M595.4 227.1V240.5 M596.6 226.9V238.0 M597.8 229.4V237.7 M618.2 204.3V217.2 M632.6 196.7V206.8 M637.4 187.6V203.0 M645.8 168.5V179.7 M647.0 169.2V178.9 M648.2 173.1V183.4 M651.8 182.9V195.8 M656.6 181.0V189.5 M669.8 203.6V213.9 M675.8 200.0V211.6 M681.8 216.8V228.4 M697.4 258.6V271.1 M715.4 258.4V276.0 M719.0 252.0V269.1 M725.0 261.4V278.0 M729.8 257.7V271.5 M747.8 203.6V219.2 M749.0 209.6V225.3 M750.2 214.0V230.2 M753.8 216.3V235.9 M758.6 229.4V240.2 M779.0 191.3V212.0 M781.4 189.0V207.5 M788.6 195.9V209.2 M791.0 207.0V220.8 M810.2 220.6V234.0 M817.4 238.7V248.9 M834.2 222.1V241.0 M836.6 223.4V236.4 M837.8 220.0V237.0 M841.4 228.2V240.3 M865.4 222.7V233.4 M883.4 252.3V271.0 M888.2 279.4V296.1 M896.6 285.1V299.0 M897.8 282.5V298.7 M899.0 279.9V296.7 M901.4 278.0V297.4 M906.2 271.2V284.3 M909.8 261.9V295.0 M911.0 267.9V290.7 M917.0 273.7V289.0 M920.6 268.4V287.3 M927.8 278.4V297.8 M930.2 279.6V293.4 M932.6 279.3V291.4 M941.0 271.8V290.8 M949.4 264.1V275.0 M953.0 262.6V273.0 M959.0 275.1V297.2 M980.6 308.0V329.2 M987.8 333.3V349.9 M989.0 338.1V358.5 M991.4 337.4V356.4 M1015.4 336.5V353.6 M1023.8 382.1V413.9 M1031.0 381.5V415.8 M1043.0 349.1V377.3 M1045.4 332.1V348.3 M1050.2 342.9V357.2 M1056.2 342.3V354.0 M1057.4 338.3V349.8 M1058.6 335.8V348.1" stroke="#777" stroke-width="1.25" fill="none"/>
<path d="M108.2 200.1V212.4 M111.8 207.1V224.4 M119.0 223.6V244.6 M132.2 164.6V181.1 M141.8 167.9V193.4 M162.2 210.1V232.8 M168.2 193.5V209.2 M173.0 201.4V223.7 M174.2 193.4V213.1 M176.6 186.5V198.4 M181.4 176.8V208.0 M185.0 189.4V207.4 M193.4 207.3V220.2 M205.4 192.5V207.5 M223.4 208.4V228.4 M224.6 211.2V231.5 M228.2 219.8V239.8 M229.4 220.0V240.7 M235.4 196.7V226.4 M254.6 256.1V268.3 M260.6 265.9V279.3 M267.8 260.7V272.0 M273.8 261.4V276.2 M275.0 265.3V281.7 M277.4 261.3V281.1 M287.0 254.7V271.6 M288.2 253.5V267.7 M291.8 254.3V268.3 M318.2 185.6V209.1 M319.4 180.6V202.2 M321.8 199.3V217.6 M323.0 202.8V220.8 M331.4 188.5V205.6 M332.6 186.6V208.0 M335.0 201.5V223.0 M342.2 239.1V256.0 M350.6 249.2V267.9 M353.0 254.1V265.7 M369.8 244.2V260.2 M378.2 244.3V269.7 M379.4 247.7V273.7 M383.0 239.3V257.0 M386.6 237.1V252.0 M391.4 231.4V244.9 M403.4 181.2V200.0 M410.6 189.2V211.3 M415.4 185.1V198.3 M422.6 182.0V193.8 M429.8 177.8V192.4 M434.6 169.9V184.4 M437.0 166.5V184.6 M441.8 177.6V198.2 M447.8 185.7V203.4 M450.2 190.2V204.6 M452.6 182.6V198.6 M455.0 192.2V210.0 M456.2 200.8V215.3 M462.2 219.5V230.9 M482.6 200.6V213.7 M483.8 197.6V210.8 M487.4 187.4V201.4 M492.2 190.3V208.9 M500.6 182.7V197.7 M503.0 177.3V191.9 M504.2 178.7V193.8 M509.0 192.4V202.7 M510.2 193.7V210.1 M511.4 195.4V216.1 M513.8 211.4V221.4 M515.0 212.5V223.7 M519.8 215.7V230.7 M535.4 225.4V246.5 M540.2 229.3V247.3 M543.8 241.2V250.1 M545.0 243.0V251.1 M557.0 236.9V254.2 M561.8 232.3V244.0 M565.4 213.2V232.4 M570.2 234.1V248.7 M571.4 234.2V254.1 M579.8 240.9V255.3 M585.8 235.3V253.1 M594.2 226.9V241.6 M606.2 226.4V243.8 M609.8 213.2V230.7 M621.8 204.6V215.8 M626.6 198.0V208.9 M635.0 192.5V203.4 M644.6 171.4V183.8 M649.4 177.6V189.5 M650.6 182.3V197.4 M660.2 182.3V193.8 M662.6 187.0V199.0 M668.6 197.8V212.2 M678.2 202.1V214.0 M680.6 212.8V223.1 M683.0 219.3V231.6 M687.8 233.0V243.2 M695.0 253.4V264.7 M699.8 266.7V281.9 M704.6 274.3V285.9 M711.8 268.6V306.9 M713.0 264.5V305.9 M714.2 260.4V293.2 M717.8 251.8V268.6 M727.4 265.0V287.8 M737.0 240.3V263.7 M738.2 234.8V262.3 M746.6 200.1V214.5 M756.2 220.7V239.4 M763.4 232.9V249.0 M768.2 229.9V244.2 M794.6 224.7V239.5 M795.8 229.4V244.8 M797.0 229.5V242.9 M811.4 220.5V235.8 M823.4 254.4V272.5 M824.6 252.6V270.1 M828.2 256.8V270.5 M835.4 223.9V238.6 M843.8 230.9V241.2 M847.4 232.7V249.8 M859.4 230.4V240.7 M866.6 224.2V239.7 M871.4 236.3V255.8 M877.4 245.8V261.9 M884.6 243.1V282.6 M887.0 278.9V291.9 M889.4 281.8V299.3 M890.6 280.0V296.0 M893.0 280.0V293.4 M894.2 281.3V293.1 M900.2 278.8V297.2 M902.6 275.3V294.1 M914.6 276.2V289.6 M919.4 270.4V287.4 M935.0 278.2V290.8 M939.8 276.7V291.4 M945.8 276.4V298.1 M948.2 269.2V279.3 M957.8 279.0V302.1 M963.8 265.3V279.9 M971.0 257.9V271.6 M973.4 271.2V283.6 M977.0 272.6V291.7 M978.2 280.3V296.4 M984.2 318.2V342.1 M993.8 336.3V352.0 M1004.6 315.8V331.1 M1005.8 318.9V331.5 M1007.0 318.9V330.3 M1019.0 324.5V352.4 M1026.2 382.7V423.5 M1040.6 348.3V361.6 M1041.8 348.3V368.1 M1047.8 339.2V350.0 M1051.4 348.3V363.0 M1053.8 347.3V358.6" stroke="#333" stroke-width="1.25" fill="none"/>
<path d="M103.4 176.2V209.8 M104.6 184.5V213.8 M105.8 198.4V213.2 M107.0 199.2V213.2 M109.4 200.4V214.4 M110.6 203.5V216.0 M113.0 212.7V230.5 M114.2 214.0V235.8 M116.6 219.6V245.6 M121.4 217.0V235.0 M123.8 208.3V223.6 M125.0 206.7V220.9 M126.2 202.0V216.3 M128.6 185.7V201.9 M129.8 175.4V197.4 M131.0 168.4V188.4 M134.6 154.7V171.5 M135.8 147.0V169.1 M137.0 145.2V165.3 M138.2 143.8V169.9 M139.4 154.5V188.3 M144.2 166.7V179.4 M145.4 156.8V175.4 M147.8 148.1V167.2 M149.0 145.5V160.5 M151.4 140.8V163.9 M153.8 166.8V191.6 M156.2 194.8V209.1 M157.4 201.9V212.9 M161.0 205.9V221.4 M164.6 195.8V220.9 M165.8 192.2V212.2 M167.0 195.1V210.4 M169.4 195.5V208.4 M170.6 196.8V210.3 M171.8 198.6V219.2 M175.4 186.9V200.1 M179.0 179.2V207.8 M182.6 187.5V205.0 M187.4 195.7V216.3 M188.6 202.0V219.2 M189.8 198.6V218.2 M191.0 198.6V214.3 M194.6 209.4V221.4 M195.8 210.4V225.0 M197.0 210.1V229.8 M198.2 210.8V236.7 M199.4 210.6V239.9 M201.8 205.7V230.9 M203.0 202.1V218.7 M204.2 197.8V212.1 M207.8 188.7V209.6 M209.0 191.5V213.3 M211.4 201.9V222.3 M213.8 206.4V225.3 M215.0 204.4V231.5 M216.2 200.0V238.8 M217.4 194.6V234.1 M219.8 193.7V220.8 M221.0 203.2V223.6 M225.8 212.4V236.2 M227.0 219.2V237.3 M230.6 215.2V235.6 M231.8 211.9V231.9 M236.6 203.0V233.1 M237.8 207.6V234.4 M239.0 206.6V234.2 M240.2 209.2V232.9 M243.8 225.0V247.0 M245.0 232.9V253.8 M246.2 237.2V255.1 M251.0 242.9V262.3 M252.2 249.4V265.7 M253.4 252.9V266.0 M258.2 261.7V277.0 M261.8 266.6V278.0 M263.0 267.9V281.5 M264.2 270.6V286.0 M266.6 265.9V282.1 M269.0 256.8V270.2 M276.2 265.4V282.7 M278.6 257.2V276.4 M279.8 252.7V270.8 M282.2 235.0V257.7 M283.4 239.7V262.3 M284.6 247.7V265.0 M285.8 250.9V269.7 M290.6 254.2V266.4 M293.0 255.2V268.7 M297.8 238.1V251.2 M301.4 240.7V254.0 M306.2 226.8V242.7 M312.2 207.5V219.9 M313.4 205.8V221.8 M314.6 208.7V221.6 M315.8 200.7V222.7 M330.2 190.1V207.8 M333.8 184.3V213.3 M336.2 213.7V229.1 M337.4 219.0V232.6 M339.8 226.5V239.5 M341.0 230.0V244.1 M343.4 245.8V266.5 M344.6 249.4V270.3 M345.8 251.7V275.5 M347.0 248.5V269.4 M349.4 248.6V263.2 M351.8 252.0V266.1 M354.2 253.6V266.2 M355.4 249.8V268.1 M356.6 246.1V265.4 M357.8 243.6V264.3 M359.0 241.4V261.1 M363.8 229.9V240.9 M365.0 230.0V247.0 M367.4 236.0V255.8 M368.6 240.6V258.1 M371.0 242.9V261.0 M373.4 252.6V285.4 M375.8 241.6V270.5 M380.6 244.3V267.1 M381.8 242.2V262.9 M384.2 239.2V253.5 M389.0 235.4V250.5 M390.2 233.5V246.7 M392.6 226.4V240.0 M393.8 216.7V232.5 M396.2 197.1V213.4 M404.6 181.2V201.9 M405.8 181.2V202.0 M407.0 181.7V202.4 M408.2 182.0V203.9 M409.4 184.5V206.4 M411.8 192.4V214.6 M413.0 193.1V214.7 M414.2 185.8V207.8 M417.8 185.1V199.6 M419.0 178.7V199.7 M421.4 179.3V200.7 M423.8 180.9V192.2 M425.0 179.2V191.6 M426.2 178.4V191.5 M427.4 179.8V191.6 M428.6 178.2V192.6 M431.0 174.5V190.2 M432.2 171.0V186.0 M433.4 170.8V185.5 M435.8 167.6V186.4 M443.0 181.7V198.6 M445.4 182.5V198.6 M446.6 184.4V199.4 M449.0 190.2V203.5 M453.8 187.3V202.9 M457.4 209.6V221.1 M458.6 214.3V226.4 M459.8 217.3V227.9 M461.0 218.1V230.6 M463.4 219.7V230.9 M464.6 217.8V228.5 M465.8 214.5V226.0 M467.0 212.6V223.3 M468.2 209.4V221.9 M470.6 203.1V219.7 M473.0 203.7V218.2 M476.6 196.9V222.5 M477.8 190.9V216.9 M479.0 197.1V216.7 M485.0 192.6V206.2 M486.2 190.8V204.6 M488.6 184.6V201.9 M489.8 185.8V204.2 M491.0 183.9V206.5 M493.4 191.6V208.1 M494.6 189.9V206.7 M495.8 189.5V207.9 M497.0 189.9V206.2 M499.4 185.6V200.9 M501.8 179.9V193.2 M505.4 178.8V196.2 M506.6 182.5V197.6 M507.8 186.9V201.4 M516.2 214.0V224.3 M517.4 214.7V231.2 M521.0 211.4V227.8 M522.2 208.5V224.4 M523.4 203.2V219.5 M527.0 206.7V217.8 M530.6 210.8V225.5 M531.8 215.5V230.6 M533.0 218.9V231.9 M534.2 222.7V233.3 M539.0 223.9V248.4 M541.4 237.0V250.5 M542.6 241.4V251.1 M546.2 242.8V251.0 M547.4 240.6V253.1 M552.2 239.3V253.6 M553.4 241.6V258.0 M554.6 241.6V260.1 M555.8 240.9V256.7 M560.6 234.1V248.2 M564.2 211.1V233.0 M566.6 214.0V233.2 M567.8 222.4V240.0 M572.6 236.8V262.2 M573.8 237.5V258.0 M575.0 241.2V256.1 M577.4 242.2V259.3 M578.6 240.3V257.7 M581.0 242.4V252.3 M582.2 239.8V249.8 M583.4 239.0V250.7 M584.6 239.5V252.3 M587.0 234.6V253.3 M588.2 227.5V256.5 M590.6 233.7V262.0 M591.8 231.3V251.8 M593.0 228.6V243.0 M600.2 226.7V237.4 M601.4 226.1V236.6 M602.6 225.4V234.6 M603.8 225.1V236.4 M605.0 227.2V239.0 M607.4 220.4V242.2 M608.6 215.6V237.5 M611.0 208.5V224.6 M612.2 209.3V223.3 M613.4 211.3V221.4 M614.6 206.3V218.7 M615.8 202.5V216.1 M617.0 200.0V217.3 M619.4 204.6V216.9 M620.6 205.4V217.0 M623.0 202.3V212.1 M629.0 203.9V213.0 M630.2 201.2V211.7 M631.4 198.7V209.8 M633.8 194.5V204.6 M636.2 191.6V202.5 M638.6 186.5V207.2 M639.8 180.6V203.2 M641.0 182.5V199.9 M642.2 180.8V193.0 M643.4 175.1V190.0 M653.0 182.8V191.5 M654.2 181.2V190.8 M655.4 179.2V188.9 M657.8 183.2V194.2 M661.4 182.5V195.0 M663.8 191.4V201.6 M667.4 197.0V208.7 M671.0 205.2V216.5 M672.2 204.7V215.4 M673.4 205.3V214.2 M674.6 202.6V214.0 M677.0 200.2V211.9 M679.4 205.6V216.5 M684.2 223.5V234.7 M685.4 226.1V237.8 M686.6 230.3V239.0 M689.0 233.9V246.1 M690.2 238.5V250.9 M692.6 245.0V258.3 M693.8 249.9V261.8 M696.2 255.7V265.9 M698.6 264.4V277.2 M703.4 277.1V287.7 M705.8 267.4V285.1 M707.0 258.9V283.3 M708.2 250.6V272.5 M710.6 271.5V297.8 M716.6 254.8V273.5 M720.2 251.6V266.6 M721.4 251.6V267.4 M722.6 252.0V271.0 M723.8 258.1V272.7 M728.6 262.0V278.6 M732.2 248.5V262.3 M733.4 246.2V258.9 M735.8 243.4V257.4 M739.4 231.4V254.4 M740.6 229.5V243.8 M741.8 219.5V234.4 M743.0 210.2V222.2 M744.2 197.4V214.7 M751.4 219.1V234.8 M752.6 218.6V237.0 M755.0 214.6V240.1 M757.4 226.3V240.0 M759.8 230.0V242.3 M761.0 230.7V244.2 M767.0 232.5V244.0 M769.4 227.2V242.0 M770.6 228.1V241.7 M771.8 228.7V240.2 M773.0 223.1V235.8 M774.2 212.4V231.2 M775.4 201.4V225.6 M776.6 198.7V219.5 M777.8 197.7V215.7 M780.2 191.0V213.7 M782.6 191.2V204.8 M786.2 186.4V200.5 M787.4 191.2V204.3 M789.8 202.7V213.7 M792.2 213.0V227.6 M793.4 217.6V232.8 M799.4 229.9V238.3 M800.6 226.8V237.3 M801.8 228.0V237.5 M803.0 228.5V237.0 M804.2 228.3V237.2 M807.8 224.2V234.4 M812.6 225.7V236.3 M813.8 227.4V239.0 M815.0 231.4V243.2 M816.2 234.3V248.1 M819.8 246.4V256.4 M821.0 249.4V258.9 M822.2 250.5V265.7 M825.8 253.9V267.4 M829.4 251.1V270.1 M830.6 238.7V261.1 M833.0 223.8V248.3 M839.0 216.4V238.9 M840.2 221.7V240.5 M842.6 229.7V243.0 M845.0 232.9V246.3 M846.2 235.2V253.0 M848.6 227.3V241.4 M849.8 221.3V233.7 M851.0 219.2V231.2 M853.4 224.3V235.1 M854.6 230.8V241.2 M855.8 232.2V245.0 M857.0 231.8V252.0 M858.2 231.5V245.8 M860.6 224.8V235.3 M861.8 217.3V233.5 M863.0 219.0V232.5 M864.2 218.1V231.3 M867.8 231.1V244.9 M869.0 234.0V249.9 M870.2 237.9V253.8 M875.0 244.8V257.9 M876.2 244.2V259.5 M879.8 251.8V265.6 M881.0 251.6V264.9 M882.2 255.0V268.1 M885.8 264.1V284.3 M891.8 280.0V291.6 M895.4 284.0V295.4 M903.8 270.1V286.1 M905.0 269.0V281.7 M907.4 271.5V286.6 M908.6 264.9V292.1 M913.4 275.4V289.2 M915.8 275.4V290.2 M918.2 271.8V287.9 M921.8 268.0V285.7 M923.0 274.3V287.5 M924.2 277.1V293.6 M926.6 280.8V306.7 M929.0 278.4V290.5 M931.4 281.1V293.6 M933.8 278.3V291.4 M936.2 279.0V288.5 M937.4 280.7V291.0 M938.6 280.7V292.8 M942.2 270.5V295.0 M943.4 275.1V307.4 M944.6 280.5V312.2 M947.0 275.5V285.6 M950.6 258.2V272.9 M951.8 258.0V272.4 M955.4 274.7V284.8 M960.2 273.8V293.0 M961.4 269.3V288.9 M962.6 265.8V281.8 M965.0 264.9V281.0 M966.2 262.3V278.8 M967.4 260.0V272.1 M968.6 255.1V267.4 M969.8 257.0V270.4 M972.2 263.4V277.4 M974.6 271.3V286.3 M975.8 270.4V291.1 M983.0 318.1V350.7 M985.4 324.1V337.4 M986.6 328.0V342.3 M990.2 337.5V357.8 M997.4 323.3V347.3 M998.6 321.9V339.6 M999.8 318.5V334.1 M1002.2 312.8V327.5 M1003.4 313.6V331.0 M1008.2 313.4V327.8 M1009.4 313.8V327.3 M1010.6 318.3V329.9 M1013.0 329.7V340.5 M1014.2 332.3V347.1 M1017.8 326.8V348.0 M1021.4 363.9V390.8 M1022.6 379.6V404.4 M1025.0 386.7V418.8 M1028.6 386.7V417.5 M1029.8 380.7V414.6 M1033.4 372.2V390.4 M1034.6 362.3V380.4 M1035.8 349.2V376.5 M1038.2 348.4V365.7 M1039.4 347.0V362.6 M1044.2 333.8V357.1 M1046.6 335.6V349.0 M1052.6 348.3V364.7 M1055.0 344.0V356.2 M1059.8 333.3V346.1 M1061.0 330.5V345.3 M1062.2 331.7V348.5" stroke="#000" stroke-width="1.25" fill="none"/>
<rect x="42" y="124.0" width="1170" height="2" fill="#8c8c8c"/>
<rect x="42" y="165.5" width="61" height="2" fill="#8c8c8c"/>
<rect x="42" y="206.5" width="61" height="2" fill="#8c8c8c"/>
<rect x="42" y="234.5" width="61" height="2" fill="#8c8c8c"/>
<rect x="42" y="262.5" width="61" height="2" fill="#8c8c8c"/>
<rect x="102.0" y="125" width="2" height="469" fill="#8c8c8c"/>
<rect x="1162.6" y="125" width="2.4" height="469" fill="#8c8c8c"/>
<rect x="42" y="459.3" width="1170" height="2" fill="#8c8c8c"/>
<rect x="103" y="557.3" width="1060.5" height="2" fill="#8c8c8c"/>
<rect x="42" y="571.0" width="1170" height="2" fill="#8c8c8c"/>
<rect x="103" y="584.6" width="1060.5" height="2" fill="#8c8c8c"/>
<rect x="285.0" y="99" width="2" height="26" fill="#8c8c8c"/>
<rect x="351.0" y="99" width="2" height="26" fill="#8c8c8c"/>
<rect x="462.0" y="99" width="2" height="26" fill="#8c8c8c"/>
<path d="M1064.3 125.6H1071.2L1067.7 129Z" fill="#a9c6ee"/>
<rect x="1160.5" y="129.0" width="3" height="1.6" fill="#444"/>
<rect x="1160.5" y="142.9" width="3" height="1.6" fill="#444"/>
<rect x="1160.5" y="156.8" width="3" height="1.6" fill="#444"/>
<rect x="1160.5" y="170.6" width="3" height="1.6" fill="#444"/>
<rect x="1160.5" y="184.5" width="3" height="1.6" fill="#444"/>
<rect x="1160.5" y="198.4" width="3" height="1.6" fill="#444"/>
<rect x="1160.5" y="212.3" width="3" height="1.6" fill="#444"/>
<rect x="1160.5" y="226.2" width="3" height="1.6" fill="#444"/>
<rect x="1160.5" y="240.0" width="3" height="1.6" fill="#444"/>
<rect x="1160.5" y="253.9" width="3" height="1.6" fill="#444"/>
<rect x="1160.5" y="267.8" width="3" height="1.6" fill="#444"/>
<rect x="1160.5" y="281.7" width="3" height="1.6" fill="#444"/>
<rect x="1160.5" y="295.6" width="3" height="1.6" fill="#444"/>
<rect x="1160.5" y="309.4" width="3" height="1.6" fill="#444"/>
<rect x="1160.5" y="323.3" width="3" height="1.6" fill="#444"/>
<rect x="1160.5" y="337.2" width="3" height="1.6" fill="#444"/>
<rect x="1160.5" y="351.1" width="3" height="1.6" fill="#444"/>
<rect x="1160.5" y="365.0" width="3" height="1.6" fill="#444"/>
<rect x="1160.5" y="378.8" width="3" height="1.6" fill="#444"/>
<rect x="1160.5" y="392.7" width="3" height="1.6" fill="#444"/>
<rect x="1160.5" y="406.6" width="3" height="1.6" fill="#444"/>
<rect x="1160.5" y="420.5" width="3" height="1.6" fill="#444"/>
<rect x="1160.5" y="434.4" width="3" height="1.6" fill="#444"/>
<rect x="1160.5" y="463.8" width="3" height="1.6" fill="#444"/>
<rect x="1160.5" y="478.6" width="3" height="1.6" fill="#444"/>
<rect x="1160.5" y="493.4" width="3" height="1.6" fill="#444"/>
<rect x="1160.5" y="508.2" width="3" height="1.6" fill="#444"/>
<rect x="1160.5" y="523.0" width="3" height="1.6" fill="#444"/>
<rect x="1160.5" y="537.8" width="3" height="1.6" fill="#444"/>
<rect x="1160.5" y="552.6" width="3" height="1.6" fill="#444"/>
<text x="104.2" y="582.6" font-size="9.8" fill="#444" stroke="#444" stroke-width="0.22">Apr</text>
<rect x="121.7" y="572" width="2" height="14" fill="#8c8c8c"/>
<text x="123.9" y="582.6" font-size="9.8" fill="#444" stroke="#444" stroke-width="0.22">May</text>
<rect x="162.4" y="572" width="2" height="14" fill="#8c8c8c"/>
<text x="164.6" y="582.6" font-size="9.8" fill="#444" stroke="#444" stroke-width="0.22">Jun</text>
<rect x="203.0" y="572" width="2" height="14" fill="#8c8c8c"/>
<text x="205.2" y="582.6" font-size="9.8" fill="#444" stroke="#444" stroke-width="0.22">Jul</text>
<rect x="240.0" y="572" width="2" height="14" fill="#8c8c8c"/>
<text x="242.2" y="582.6" font-size="9.8" fill="#444" stroke="#444" stroke-width="0.22">Aug</text>
<rect x="280.5" y="572" width="2" height="14" fill="#8c8c8c"/>
<text x="282.7" y="582.6" font-size="9.8" fill="#444" stroke="#444" stroke-width="0.22">Sep</text>
<rect x="318.3" y="572" width="2" height="14" fill="#8c8c8c"/>
<text x="320.5" y="582.6" font-size="9.8" fill="#444" stroke="#444" stroke-width="0.22">Oct</text>
<rect x="356.6" y="572" width="2" height="14" fill="#8c8c8c"/>
<text x="358.8" y="582.6" font-size="9.8" fill="#444" stroke="#444" stroke-width="0.22">Nov</text>
<rect x="396.2" y="572" width="2" height="14" fill="#8c8c8c"/>
<text x="398.4" y="582.6" font-size="9.8" fill="#444" stroke="#444" stroke-width="0.22">Dec</text>
<rect x="433.9" y="572" width="2" height="14" fill="#8c8c8c"/>
<text x="436.09999999999997" y="582.6" font-size="9.8" fill="#444" stroke="#444" stroke-width="0.22">J'24</text>
<rect x="475.6" y="572" width="2" height="14" fill="#8c8c8c"/>
<text x="477.8" y="582.6" font-size="9.8" fill="#444" stroke="#444" stroke-width="0.22">Feb</text>
<rect x="513.0" y="572" width="2" height="14" fill="#8c8c8c"/>
<text x="515.2" y="582.6" font-size="9.8" fill="#444" stroke="#444" stroke-width="0.22">Mar</text>
<rect x="549.8" y="572" width="2" height="14" fill="#8c8c8c"/>
<text x="552.0" y="582.6" font-size="9.8" fill="#444" stroke="#444" stroke-width="0.22">Apr</text>
<rect x="589.3" y="572" width="2" height="14" fill="#8c8c8c"/>
<text x="591.5" y="582.6" font-size="9.8" fill="#444" stroke="#444" stroke-width="0.22">May</text>
<rect x="629.8" y="572" width="2" height="14" fill="#8c8c8c"/>
<text x="632.0" y="582.6" font-size="9.8" fill="#444" stroke="#444" stroke-width="0.22">Jun</text>
<rect x="666.0" y="572" width="2" height="14" fill="#8c8c8c"/>
<text x="668.2" y="582.6" font-size="9.8" fill="#444" stroke="#444" stroke-width="0.22">Jul</text>
<rect x="706.7" y="572" width="2" height="14" fill="#8c8c8c"/>
<text x="708.9000000000001" y="582.6" font-size="9.8" fill="#444" stroke="#444" stroke-width="0.22">Aug</text>
<rect x="745.6" y="572" width="2" height="14" fill="#8c8c8c"/>
<text x="747.8000000000001" y="582.6" font-size="9.8" fill="#444" stroke="#444" stroke-width="0.22">Sep</text>
<rect x="783.6" y="572" width="2" height="14" fill="#8c8c8c"/>
<text x="785.8000000000001" y="582.6" font-size="9.8" fill="#444" stroke="#444" stroke-width="0.22">Oct</text>
<rect x="825.0" y="572" width="2" height="14" fill="#8c8c8c"/>
<text x="827.2" y="582.6" font-size="9.8" fill="#444" stroke="#444" stroke-width="0.22">Nov</text>
<rect x="863.0" y="572" width="2" height="14" fill="#8c8c8c"/>
<text x="865.2" y="582.6" font-size="9.8" fill="#444" stroke="#444" stroke-width="0.22">Dec</text>
<rect x="901.4" y="572" width="2" height="14" fill="#8c8c8c"/>
<text x="903.6" y="582.6" font-size="9.8" fill="#444" stroke="#444" stroke-width="0.22">J'25</text>
<rect x="941.9" y="572" width="2" height="14" fill="#8c8c8c"/>
<text x="944.1" y="582.6" font-size="9.8" fill="#444" stroke="#444" stroke-width="0.22">Feb</text>
<rect x="978.0" y="572" width="2" height="14" fill="#8c8c8c"/>
<text x="980.2" y="582.6" font-size="9.8" fill="#444" stroke="#444" stroke-width="0.22">Mar</text>
<rect x="1015.5" y="572" width="2" height="14" fill="#8c8c8c"/>
<text x="1017.7" y="582.6" font-size="9.8" fill="#444" stroke="#444" stroke-width="0.22">Apr</text>
<rect x="1055.2" y="572" width="2" height="14" fill="#8c8c8c"/>
<text x="1057.4" y="582.6" font-size="9.8" fill="#444" stroke="#444" stroke-width="0.22">May</text>
<rect x="1095.6" y="572" width="2" height="14" fill="#8c8c8c"/>
<text x="1097.8" y="582.6" font-size="9.8" fill="#444" stroke="#444" stroke-width="0.22">Jun</text>
<rect x="1133.0" y="572" width="2" height="14" fill="#8c8c8c"/>
<text x="1135.2" y="582.6" font-size="9.8" fill="#444" stroke="#444" stroke-width="0.22">Jul</text>
<g font-family="Liberation Sans, Arial, sans-serif">
<text x="53" y="114" font-size="11.7" fill="#3a3a3a" textLength="220.5" lengthAdjust="spacingAndGlyphs" stroke="#3a3a3a" stroke-width="0.22">Vergleich NZD/USD Forex / EUR/USD Forex</text>
<clipPath id="hc"><rect x="0" y="99" width="1285" height="40"/></clipPath>
<text x="289" y="105" font-size="10.5" fill="#222" font-weight="bold" textLength="59" lengthAdjust="spacingAndGlyphs" stroke="#222" stroke-width="0.22" clip-path="url(#hc)">WKN: VGL011</text>
<text x="356.6" y="119.1" font-size="9.3" fill="#222" font-weight="bold" textLength="102" lengthAdjust="spacingAndGlyphs" stroke="#222" stroke-width="0.22">SYMBOL: VERGL000011</text>
<text x="71.5" y="134.20000000000002" font-size="10" fill="#333" font-weight="bold" text-anchor="middle" textLength="21.7" lengthAdjust="spacingAndGlyphs" stroke="#333" stroke-width="0.22">Hoch</text>
<text x="71.5" y="147.60000000000002" font-size="10" fill="#333" text-anchor="middle" textLength="49.7" lengthAdjust="spacingAndGlyphs" stroke="#333" stroke-width="0.22">2023-05-23</text>
<text x="71.5" y="161.5" font-size="10" fill="#333" text-anchor="middle" textLength="18.2" lengthAdjust="spacingAndGlyphs" stroke="#333" stroke-width="0.22">0.59</text>
<text x="71.5" y="176.3" font-size="10" fill="#333" font-weight="bold" text-anchor="middle" textLength="16.5" lengthAdjust="spacingAndGlyphs" stroke="#333" stroke-width="0.22">Tief</text>
<text x="71.5" y="189.3" font-size="10" fill="#333" text-anchor="middle" textLength="49.7" lengthAdjust="spacingAndGlyphs" stroke="#333" stroke-width="0.22">2025-04-09</text>
<text x="71.5" y="203.0" font-size="10" fill="#333" text-anchor="middle" textLength="18.9" lengthAdjust="spacingAndGlyphs" stroke="#333" stroke-width="0.22">0.50</text>
<text x="71.5" y="217.0" font-size="10" fill="#333" font-weight="bold" text-anchor="middle" textLength="36.4" lengthAdjust="spacingAndGlyphs" stroke="#333" stroke-width="0.22">Toleranz</text>
<text x="71.5" y="230.5" font-size="10" fill="#333" text-anchor="middle" textLength="31.5" lengthAdjust="spacingAndGlyphs" stroke="#333" stroke-width="0.22">16.81%</text>
<text x="71.5" y="244.9" font-size="10" fill="#333" font-weight="bold" text-anchor="middle" textLength="35.7" lengthAdjust="spacingAndGlyphs" stroke="#333" stroke-width="0.22">Vol(250)</text>
<text x="71.5" y="257.7" font-size="10" fill="#333" text-anchor="middle" textLength="27" lengthAdjust="spacingAndGlyphs" stroke="#333" stroke-width="0.22">7.41%</text>
<text x="1167.5" y="135.6" font-size="10.3" fill="#444" stroke="#444" stroke-width="0.22">Euro</text>
<text x="1167.5" y="160.0" font-size="10.3" fill="#505050" textLength="24" lengthAdjust="spacingAndGlyphs" stroke="#505050" stroke-width="0.22">0.580</text>
<text x="1167.5" y="173.88" font-size="10.3" fill="#505050" textLength="24" lengthAdjust="spacingAndGlyphs" stroke="#505050" stroke-width="0.22">0.576</text>
<text x="1167.5" y="187.76" font-size="10.3" fill="#505050" textLength="24" lengthAdjust="spacingAndGlyphs" stroke="#505050" stroke-width="0.22">0.572</text>
<text x="1167.5" y="201.64000000000001" font-size="10.3" fill="#505050" textLength="24" lengthAdjust="spacingAndGlyphs" stroke="#505050" stroke-width="0.22">0.568</text>
<text x="1167.5" y="215.52" font-size="10.3" fill="#505050" textLength="24" lengthAdjust="spacingAndGlyphs" stroke="#505050" stroke-width="0.22">0.564</text>
<text x="1167.5" y="229.4" font-size="10.3" fill="#505050" textLength="24" lengthAdjust="spacingAndGlyphs" stroke="#505050" stroke-width="0.22">0.560</text>
<text x="1167.5" y="243.28" font-size="10.3" fill="#505050" textLength="24" lengthAdjust="spacingAndGlyphs" stroke="#505050" stroke-width="0.22">0.556</text>
<text x="1167.5" y="257.16" font-size="10.3" fill="#505050" textLength="24" lengthAdjust="spacingAndGlyphs" stroke="#505050" stroke-width="0.22">0.552</text>
<text x="1167.5" y="271.04" font-size="10.3" fill="#505050" textLength="24" lengthAdjust="spacingAndGlyphs" stroke="#505050" stroke-width="0.22">0.548</text>
<text x="1167.5" y="284.92" font-size="10.3" fill="#505050" textLength="24" lengthAdjust="spacingAndGlyphs" stroke="#505050" stroke-width="0.22">0.544</text>
<text x="1167.5" y="298.80000000000007" font-size="10.3" fill="#505050" textLength="24" lengthAdjust="spacingAndGlyphs" stroke="#505050" stroke-width="0.22">0.540</text>
<text x="1167.5" y="312.68000000000006" font-size="10.3" fill="#505050" textLength="24" lengthAdjust="spacingAndGlyphs" stroke="#505050" stroke-width="0.22">0.536</text>
<text x="1167.5" y="326.56000000000006" font-size="10.3" fill="#505050" textLength="24" lengthAdjust="spacingAndGlyphs" stroke="#505050" stroke-width="0.22">0.532</text>
<text x="1167.5" y="354.32000000000005" font-size="10.3" fill="#505050" textLength="24" lengthAdjust="spacingAndGlyphs" stroke="#505050" stroke-width="0.22">0.524</text>
<text x="1167.5" y="368.20000000000005" font-size="10.3" fill="#505050" textLength="24" lengthAdjust="spacingAndGlyphs" stroke="#505050" stroke-width="0.22">0.520</text>
<text x="1167.5" y="382.08000000000004" font-size="10.3" fill="#505050" textLength="24" lengthAdjust="spacingAndGlyphs" stroke="#505050" stroke-width="0.22">0.516</text>
<text x="1167.5" y="395.96000000000004" font-size="10.3" fill="#505050" textLength="24" lengthAdjust="spacingAndGlyphs" stroke="#505050" stroke-width="0.22">0.512</text>
<text x="1167.5" y="409.84000000000003" font-size="10.3" fill="#505050" textLength="24" lengthAdjust="spacingAndGlyphs" stroke="#505050" stroke-width="0.22">0.508</text>
<text x="1167.5" y="423.72" font-size="10.3" fill="#505050" textLength="24" lengthAdjust="spacingAndGlyphs" stroke="#505050" stroke-width="0.22">0.504</text>
<text x="1167.5" y="437.6" font-size="10.3" fill="#505050" textLength="24" lengthAdjust="spacingAndGlyphs" stroke="#505050" stroke-width="0.22">0.500</text>
<rect x="1167.2" y="327.3" width="22.4" height="12.3" fill="#0a0aff"/>
<text x="1167.8" y="337.4" font-size="11" fill="#fff" textLength="21.5" lengthAdjust="spacingAndGlyphs">0.53</text>
<text x="1052.8" y="456.3" font-size="9.3" fill="#444" textLength="99.2" lengthAdjust="spacingAndGlyphs" stroke="#444" stroke-width="0.22">Kurs:0.53 <tspan font-weight="bold">(0.00 / 0.33%)</tspan></text>
<rect x="1154.5" y="461" width="9" height="8.5" fill="#ddd" stroke="#555" stroke-width="1"/>
<path d="M1156.5 463L1161.5 467.5M1161.5 463L1156.5 467.5" stroke="#222" stroke-width="1.1"/>
<text x="1188.5" y="497.5" font-size="10.2" fill="#555" text-anchor="end" stroke="#555" stroke-width="0.22">3.00</text>
<text x="1188.5" y="511.5" font-size="10.2" fill="#555" text-anchor="end" stroke="#555" stroke-width="0.22">0.00</text>
<text x="1188.5" y="524.5" font-size="10.2" fill="#555" text-anchor="end" stroke="#555" stroke-width="0.22">-3.00</text>
<text x="1188.5" y="540.6" font-size="10.2" fill="#555" text-anchor="end" stroke="#555" stroke-width="0.22">-6.00</text>
<text x="1188.5" y="555.8000000000001" font-size="10.2" fill="#555" text-anchor="end" stroke="#555" stroke-width="0.22">-9.00</text>
<rect x="1167.2" y="472.8" width="22.1" height="12.4" fill="#1e1eb4"/>
<text x="1168.5" y="483" font-size="10.5" fill="#fff" font-weight="bold" textLength="19.5" lengthAdjust="spacingAndGlyphs">6.00</text>
<rect x="1167.3" y="521.6" width="25" height="13.2" fill="#ff0a0a"/>
<text x="1168" y="532.4" font-size="10.5" fill="#fff" font-weight="bold" textLength="23.5" lengthAdjust="spacingAndGlyphs">-4.00</text>
<text x="889.2" y="568.2" font-size="9.5" fill="#3a3ac8" textLength="264" lengthAdjust="spacingAndGlyphs" stroke="#3a3ac8" stroke-width="0.22">fml_Sentiment "Hausse und Baisse"(10) Up:6.00 - <tspan fill="#ff1a1a" stroke="#ff1a1a">Down:-4.00</tspan></text>
<text x="1188.5" y="581.8" font-size="9.8" fill="#444" text-anchor="middle" stroke="#444" stroke-width="0.22">ARI</text>
<clipPath id="bcl"><rect x="0" y="586" width="1285" height="8"/></clipPath>
<g clip-path="url(#bcl)">
<rect x="153" y="587.5" width="15" height="6.5" fill="#ececec"/>
<text x="104.3" y="594.6" font-size="9.8" fill="#444" textLength="48.7" lengthAdjust="spacingAndGlyphs" stroke="#444" stroke-width="0.22">2023-04-14</text>
<rect x="989.4" y="590.5" width="110" height="3.5" fill="#cfcfcf"/>
<rect x="1099" y="589" width="13" height="5" fill="#ececec"/>
<text x="1113.8" y="594.6" font-size="9.8" fill="#444" textLength="48.6" lengthAdjust="spacingAndGlyphs" stroke="#444" stroke-width="0.22">2025-05-06</text>
</g>
</g>
</svg>
<svg width="1285" height="80" viewBox="0 0 1285 80" font-family="Liberation Sans, Arial, sans-serif">
<text y="44" font-size="27" fill="#0d0d18" stroke="#0d0d18" stroke-width="0.35"><tspan x="279.0" textLength="119.6" lengthAdjust="spacingAndGlyphs">NZD/USD</tspan> <tspan x="407.5" textLength="32.62" lengthAdjust="spacingAndGlyphs">vs.</tspan> <tspan x="445.5" textLength="129.17" lengthAdjust="spacingAndGlyphs">EUR/USD:</tspan> <tspan x="579" textLength="113.16" lengthAdjust="spacingAndGlyphs">Mirroring</tspan> <tspan x="698.5" textLength="41.55" lengthAdjust="spacingAndGlyphs">the</tspan> <tspan x="746.0" textLength="83.03" lengthAdjust="spacingAndGlyphs">Aussie</tspan> <tspan x="834.5" textLength="138.13" lengthAdjust="spacingAndGlyphs">Downtrend</tspan></text>
</svg>
</body></html>
